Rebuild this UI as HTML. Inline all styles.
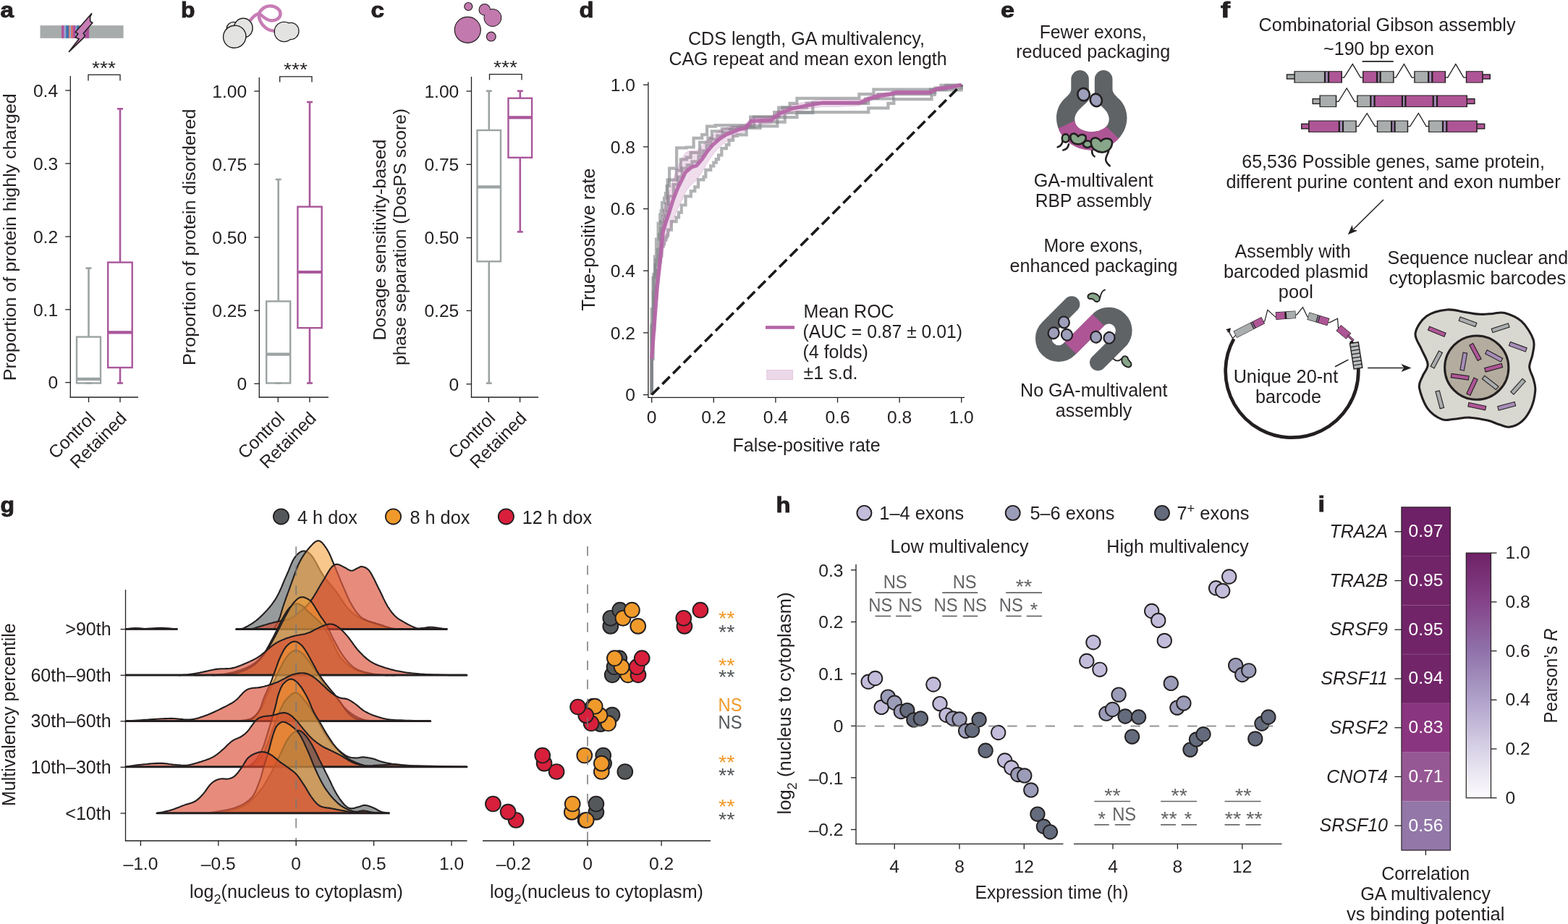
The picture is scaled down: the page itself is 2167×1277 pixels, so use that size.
<!DOCTYPE html>
<html lang="en"><head><meta charset="utf-8"><title>Figure</title>
<style>
html,body{margin:0;padding:0;background:#fff;}
body{width:2167px;height:1277px;overflow:hidden;}
svg{display:block;font-family:"Liberation Sans",sans-serif;}
</style></head><body>
<svg width="2167" height="1277" viewBox="0 0 2167 1277">
<rect width="2167" height="1277" fill="#ffffff"/>
<g id="p_abc">
<text x="0.5" y="24.2" font-size="30" font-weight="bold" textLength="18.5" lengthAdjust="spacingAndGlyphs" fill="#231f20" stroke="#231f20" stroke-width="0.9">a</text>
<text x="250.0" y="24.2" font-size="30" font-weight="bold" textLength="19.5" lengthAdjust="spacingAndGlyphs" fill="#231f20" stroke="#231f20" stroke-width="0.9">b</text>
<text x="512.5" y="24.2" font-size="30" font-weight="bold" textLength="18.5" lengthAdjust="spacingAndGlyphs" fill="#231f20" stroke="#231f20" stroke-width="0.9">c</text>
<line x1="97.3" y1="105.0" x2="97.3" y2="549.6" stroke="#231f20" stroke-width="1.3"/>
<line x1="96.7" y1="549.0" x2="191.0" y2="549.0" stroke="#231f20" stroke-width="1.3"/>
<line x1="90.3" y1="125.0" x2="97.3" y2="125.0" stroke="#231f20" stroke-width="1.3"/>
<text x="80.1" y="133.8" font-size="24.6" text-anchor="end" fill="#231f20">0.4</text>
<line x1="90.3" y1="226.0" x2="97.3" y2="226.0" stroke="#231f20" stroke-width="1.3"/>
<text x="80.1" y="234.8" font-size="24.6" text-anchor="end" fill="#231f20">0.3</text>
<line x1="90.3" y1="327.0" x2="97.3" y2="327.0" stroke="#231f20" stroke-width="1.3"/>
<text x="80.1" y="335.8" font-size="24.6" text-anchor="end" fill="#231f20">0.2</text>
<line x1="90.3" y1="427.8" x2="97.3" y2="427.8" stroke="#231f20" stroke-width="1.3"/>
<text x="80.1" y="436.6" font-size="24.6" text-anchor="end" fill="#231f20">0.1</text>
<line x1="90.3" y1="528.6" x2="97.3" y2="528.6" stroke="#231f20" stroke-width="1.3"/>
<text x="80.1" y="537.4" font-size="24.6" text-anchor="end" fill="#231f20">0</text>
<line x1="122.5" y1="549.0" x2="122.5" y2="556.0" stroke="#231f20" stroke-width="1.3"/>
<line x1="166.0" y1="549.0" x2="166.0" y2="556.0" stroke="#231f20" stroke-width="1.3"/>
<line x1="122.5" y1="370.6" x2="122.5" y2="465.6" stroke="#9ca3a3" stroke-width="2.6"/>
<line x1="122.5" y1="529.5" x2="122.5" y2="529.5" stroke="#9ca3a3" stroke-width="2.6"/>
<line x1="118.5" y1="370.6" x2="126.5" y2="370.6" stroke="#9ca3a3" stroke-width="2.6"/>
<line x1="118.5" y1="529.5" x2="126.5" y2="529.5" stroke="#9ca3a3" stroke-width="2.6"/>
<rect x="106.0" y="465.6" width="33.0" height="63.9" fill="none" stroke="#9ca3a3" stroke-width="2.4"/>
<line x1="106.0" y1="523.8" x2="139.0" y2="523.8" stroke="#9ca3a3" stroke-width="4.2"/>
<line x1="166.0" y1="150.4" x2="166.0" y2="362.6" stroke="#a9579b" stroke-width="2.6"/>
<line x1="166.0" y1="508.0" x2="166.0" y2="529.5" stroke="#a9579b" stroke-width="2.6"/>
<line x1="162.0" y1="150.4" x2="170.0" y2="150.4" stroke="#a9579b" stroke-width="2.6"/>
<line x1="162.0" y1="529.5" x2="170.0" y2="529.5" stroke="#a9579b" stroke-width="2.6"/>
<rect x="149.2" y="362.6" width="33.5" height="145.4" fill="none" stroke="#a9579b" stroke-width="2.4"/>
<line x1="149.2" y1="459.3" x2="182.8" y2="459.3" stroke="#a9579b" stroke-width="4.2"/>
<path d="M122.0,111.6 V103.4 H166.0 V111.6" fill="none" stroke="#231f20" stroke-width="1.3"/>
<text x="143.5" y="102.6" font-size="26.5" text-anchor="middle" textLength="33.0" lengthAdjust="spacingAndGlyphs" fill="#231f20">***</text>
<text transform="translate(133.0,579.5) rotate(-45)" font-size="24.6" text-anchor="end" fill="#231f20">Control</text>
<text transform="translate(176.5,579.5) rotate(-45)" font-size="24.6" text-anchor="end" fill="#231f20">Retained</text>
<text transform="translate(21.5,327.7) rotate(-90)" font-size="24.6" text-anchor="middle" textLength="397.0" lengthAdjust="spacingAndGlyphs" fill="#231f20">Proportion of protein highly charged</text>
<rect x="55.5" y="35.2" width="115.1" height="17.6" fill="#a7abab"/>
<rect x="85.1" y="35.2" width="3.5" height="17.6" fill="#b0509c"/>
<rect x="88.6" y="35.2" width="2.6" height="17.6" fill="#9aa0d0"/>
<rect x="91.2" y="35.2" width="3.8" height="17.6" fill="#3b74ae"/>
<rect x="95.0" y="35.2" width="1.4" height="17.6" fill="#e8705a"/>
<rect x="96.4" y="35.2" width="1.8" height="17.6" fill="#88a8d8"/>
<rect x="98.2" y="35.2" width="2.4" height="17.6" fill="#e8685a"/>
<rect x="100.6" y="35.2" width="4.0" height="17.6" fill="#b0509c"/>
<rect x="104.6" y="35.2" width="1.6" height="17.6" fill="#88a8d8"/>
<rect x="106.2" y="35.2" width="3.3" height="17.6" fill="#3b74ae"/>
<rect x="109.5" y="35.2" width="1.9" height="17.6" fill="#e8705a"/>
<rect x="111.4" y="35.2" width="4.6" height="17.6" fill="#b0509c"/>
<rect x="116.0" y="35.2" width="1.5" height="17.6" fill="#88a8d8"/>
<rect x="117.5" y="35.2" width="5.6" height="17.6" fill="#b0509c"/>
<g transform="translate(40,0) scale(0.09395)"><path d="M925,195 L900,250 L902,312 L935,335 L800,492 L826,522 L800,560 L585,765 L735,572 L684,550 L722,498 L684,472 Z" fill="#c77db5" stroke="#231f20" stroke-width="17" stroke-linejoin="miter"/></g>
<line x1="358.3" y1="107.0" x2="358.3" y2="549.6" stroke="#231f20" stroke-width="1.3"/>
<line x1="357.7" y1="549.0" x2="454.0" y2="549.0" stroke="#231f20" stroke-width="1.3"/>
<line x1="351.3" y1="126.0" x2="358.3" y2="126.0" stroke="#231f20" stroke-width="1.3"/>
<text x="341.1" y="134.8" font-size="24.6" text-anchor="end" fill="#231f20">1.00</text>
<line x1="351.3" y1="227.0" x2="358.3" y2="227.0" stroke="#231f20" stroke-width="1.3"/>
<text x="341.1" y="235.8" font-size="24.6" text-anchor="end" fill="#231f20">0.75</text>
<line x1="351.3" y1="328.0" x2="358.3" y2="328.0" stroke="#231f20" stroke-width="1.3"/>
<text x="341.1" y="336.8" font-size="24.6" text-anchor="end" fill="#231f20">0.50</text>
<line x1="351.3" y1="429.2" x2="358.3" y2="429.2" stroke="#231f20" stroke-width="1.3"/>
<text x="341.1" y="438.0" font-size="24.6" text-anchor="end" fill="#231f20">0.25</text>
<line x1="351.3" y1="530.3" x2="358.3" y2="530.3" stroke="#231f20" stroke-width="1.3"/>
<text x="341.1" y="539.1" font-size="24.6" text-anchor="end" fill="#231f20">0</text>
<line x1="384.3" y1="549.0" x2="384.3" y2="556.0" stroke="#231f20" stroke-width="1.3"/>
<line x1="428.0" y1="549.0" x2="428.0" y2="556.0" stroke="#231f20" stroke-width="1.3"/>
<line x1="384.7" y1="248.0" x2="384.7" y2="416.4" stroke="#9ca3a3" stroke-width="2.6"/>
<line x1="384.7" y1="529.5" x2="384.7" y2="529.5" stroke="#9ca3a3" stroke-width="2.6"/>
<line x1="380.7" y1="248.0" x2="388.7" y2="248.0" stroke="#9ca3a3" stroke-width="2.6"/>
<line x1="380.7" y1="529.5" x2="388.7" y2="529.5" stroke="#9ca3a3" stroke-width="2.6"/>
<rect x="368.2" y="416.4" width="33.0" height="113.1" fill="none" stroke="#9ca3a3" stroke-width="2.4"/>
<line x1="368.2" y1="489.6" x2="401.2" y2="489.6" stroke="#9ca3a3" stroke-width="4.2"/>
<line x1="428.0" y1="141.0" x2="428.0" y2="285.7" stroke="#a9579b" stroke-width="2.6"/>
<line x1="428.0" y1="453.2" x2="428.0" y2="529.5" stroke="#a9579b" stroke-width="2.6"/>
<line x1="424.0" y1="141.0" x2="432.0" y2="141.0" stroke="#a9579b" stroke-width="2.6"/>
<line x1="424.0" y1="529.5" x2="432.0" y2="529.5" stroke="#a9579b" stroke-width="2.6"/>
<rect x="411.4" y="285.7" width="33.3" height="167.5" fill="none" stroke="#a9579b" stroke-width="2.4"/>
<line x1="411.4" y1="376.0" x2="444.6" y2="376.0" stroke="#a9579b" stroke-width="4.2"/>
<path d="M386.7,113.4 V105.9 H431.0 V113.4" fill="none" stroke="#231f20" stroke-width="1.3"/>
<text x="408.5" y="105.1" font-size="26.5" text-anchor="middle" textLength="33.0" lengthAdjust="spacingAndGlyphs" fill="#231f20">***</text>
<text transform="translate(394.8,579.5) rotate(-45)" font-size="24.6" text-anchor="end" fill="#231f20">Control</text>
<text transform="translate(438.5,579.5) rotate(-45)" font-size="24.6" text-anchor="end" fill="#231f20">Retained</text>
<text transform="translate(269.5,327.7) rotate(-90)" font-size="24.6" text-anchor="middle" textLength="354.5" lengthAdjust="spacingAndGlyphs" fill="#231f20">Proportion of protein disordered</text>
<g transform="translate(290,0) scale(0.0646)">
<path d="M860,445 C920,360 980,310 1045,295 C1110,170 1210,128 1290,128 C1420,130 1512,210 1510,295 C1505,390 1420,442 1320,440 C1230,438 1150,375 1072,298" fill="none" stroke="#c77db5" stroke-width="70" stroke-linecap="butt"/>
<path d="M1052,290 C1040,420 1100,520 1200,600 C1260,645 1320,662 1400,660" fill="none" stroke="#c77db5" stroke-width="70"/>
<ellipse cx="510" cy="610" rx="150" ry="140" fill="#e3e3e1" stroke="#231f20" stroke-width="22"/>
<ellipse cx="715" cy="600" rx="200" ry="208" fill="#e3e3e1" stroke="#231f20" stroke-width="22"/>
<ellipse cx="530" cy="785" rx="245" ry="238" fill="#e3e3e1" stroke="#231f20" stroke-width="22" transform="rotate(-35 530 785)"/>
<ellipse cx="1590" cy="680" rx="208" ry="210" fill="#e3e3e1" stroke="#231f20" stroke-width="22"/>
<ellipse cx="1735" cy="665" rx="168" ry="178" fill="#e3e3e1" stroke="#231f20" stroke-width="22"/>
<ellipse cx="1590" cy="680" rx="197" ry="199" fill="#e3e3e1"/>
<ellipse cx="1735" cy="665" rx="157" ry="167" fill="#e3e3e1"/>
</g>
<line x1="651.5" y1="106.0" x2="651.5" y2="549.6" stroke="#231f20" stroke-width="1.3"/>
<line x1="650.9" y1="549.0" x2="744.0" y2="549.0" stroke="#231f20" stroke-width="1.3"/>
<line x1="644.5" y1="126.0" x2="651.5" y2="126.0" stroke="#231f20" stroke-width="1.3"/>
<text x="634.3" y="134.8" font-size="24.6" text-anchor="end" fill="#231f20">1.00</text>
<line x1="644.5" y1="227.3" x2="651.5" y2="227.3" stroke="#231f20" stroke-width="1.3"/>
<text x="634.3" y="236.1" font-size="24.6" text-anchor="end" fill="#231f20">0.75</text>
<line x1="644.5" y1="328.6" x2="651.5" y2="328.6" stroke="#231f20" stroke-width="1.3"/>
<text x="634.3" y="337.4" font-size="24.6" text-anchor="end" fill="#231f20">0.50</text>
<line x1="644.5" y1="429.4" x2="651.5" y2="429.4" stroke="#231f20" stroke-width="1.3"/>
<text x="634.3" y="438.2" font-size="24.6" text-anchor="end" fill="#231f20">0.25</text>
<line x1="644.5" y1="530.8" x2="651.5" y2="530.8" stroke="#231f20" stroke-width="1.3"/>
<text x="634.3" y="539.6" font-size="24.6" text-anchor="end" fill="#231f20">0</text>
<line x1="675.4" y1="549.0" x2="675.4" y2="556.0" stroke="#231f20" stroke-width="1.3"/>
<line x1="718.6" y1="549.0" x2="718.6" y2="556.0" stroke="#231f20" stroke-width="1.3"/>
<line x1="675.8" y1="125.8" x2="675.8" y2="180.0" stroke="#9ca3a3" stroke-width="2.6"/>
<line x1="675.8" y1="361.3" x2="675.8" y2="529.6" stroke="#9ca3a3" stroke-width="2.6"/>
<line x1="671.8" y1="125.8" x2="679.8" y2="125.8" stroke="#9ca3a3" stroke-width="2.6"/>
<line x1="671.8" y1="529.6" x2="679.8" y2="529.6" stroke="#9ca3a3" stroke-width="2.6"/>
<rect x="659.5" y="180.0" width="32.5" height="181.3" fill="none" stroke="#9ca3a3" stroke-width="2.4"/>
<line x1="659.5" y1="258.4" x2="692.0" y2="258.4" stroke="#9ca3a3" stroke-width="4.2"/>
<line x1="718.8" y1="125.8" x2="718.8" y2="135.7" stroke="#a9579b" stroke-width="2.6"/>
<line x1="718.8" y1="217.8" x2="718.8" y2="320.4" stroke="#a9579b" stroke-width="2.6"/>
<line x1="714.8" y1="125.8" x2="722.8" y2="125.8" stroke="#a9579b" stroke-width="2.6"/>
<line x1="714.8" y1="320.4" x2="722.8" y2="320.4" stroke="#a9579b" stroke-width="2.6"/>
<rect x="702.5" y="135.7" width="32.6" height="82.1" fill="none" stroke="#a9579b" stroke-width="2.4"/>
<line x1="702.5" y1="162.3" x2="735.1" y2="162.3" stroke="#a9579b" stroke-width="4.2"/>
<path d="M676.5,110.4 V102.6 H721.0 V110.4" fill="none" stroke="#231f20" stroke-width="1.3"/>
<text x="698.5" y="102.3" font-size="26.5" text-anchor="middle" textLength="33.0" lengthAdjust="spacingAndGlyphs" fill="#231f20">***</text>
<text transform="translate(685.9,579.5) rotate(-45)" font-size="24.6" text-anchor="end" fill="#231f20">Control</text>
<text transform="translate(729.1,579.5) rotate(-45)" font-size="24.6" text-anchor="end" fill="#231f20">Retained</text>
<text transform="translate(532.5,331.5) rotate(-90)" font-size="24.6" text-anchor="middle" textLength="278.0" lengthAdjust="spacingAndGlyphs" fill="#231f20">Dosage sensitivity-based</text>
<text transform="translate(560.8,327.5) rotate(-90)" font-size="24.6" text-anchor="middle" textLength="355.0" lengthAdjust="spacingAndGlyphs" fill="#231f20">phase separation (DosPS score)</text>
<circle cx="646.3" cy="41.3" r="18.0" fill="#c279ae" stroke="#231f20" stroke-width="1.2"/>
<circle cx="647.3" cy="9.0" r="5.5" fill="#c279ae" stroke="#231f20" stroke-width="1.2"/>
<circle cx="669.8" cy="13.4" r="7.7" fill="#c279ae" stroke="#231f20" stroke-width="1.2"/>
<circle cx="680.9" cy="24.5" r="11.8" fill="#c279ae" stroke="#231f20" stroke-width="1.2"/>
<circle cx="678.8" cy="50.6" r="6.4" fill="#c279ae" stroke="#231f20" stroke-width="1.2"/>
<circle cx="669.8" cy="13.4" r="7.1" fill="#c279ae"/>
<circle cx="680.9" cy="24.5" r="11.2" fill="#c279ae"/>
</g>
<g id="p_d">
<text x="800.5" y="24.2" font-size="30" font-weight="bold" textLength="20.0" lengthAdjust="spacingAndGlyphs" fill="#231f20" stroke="#231f20" stroke-width="0.9">d</text>
<text x="1114.5" y="62.1" font-size="25" text-anchor="middle" textLength="327.0" lengthAdjust="spacingAndGlyphs" fill="#231f20">CDS length, GA multivalency,</text>
<text x="1116.6" y="89.8" font-size="25" text-anchor="middle" textLength="384.0" lengthAdjust="spacingAndGlyphs" fill="#231f20">CAG repeat and mean exon length</text>
<path d="M900.7,545.6 L900.7,452.0 L902.5,452.0 L902.5,383.6 L904.9,383.6 L904.9,354.6 L907.0,354.6 L907.0,330.6 L909.6,330.6 L909.6,308.6 L912.2,308.6 L912.2,296.7 L913.6,296.7 L913.6,291.3 L915.0,291.3 L915.0,280.2 L918.0,280.2 L918.0,273.6 L919.9,273.6 L919.9,267.2 L921.7,267.2 L921.7,257.0 L925.1,257.0 L925.1,232.6 L935.1,232.6 L935.1,204.3 L948.6,204.3 L948.6,203.5 L958.6,203.5 L958.6,190.9 L970.2,190.9 L970.2,186.2 L977.1,186.2 L977.1,174.7 L988.7,174.7 L988.7,173.1 L1002.5,173.1 L1002.5,173.1 L1013.0,173.1 L1013.0,173.1 L1025.6,173.1 L1025.6,173.1 L1029.1,173.1 L1037.2,173.1 L1037.2,161.5 L1070.1,161.5 L1070.1,155.1 L1081.5,155.1 L1081.5,148.6 L1091.5,148.6 L1091.5,142.9 L1101.4,142.9 L1101.4,135.8 L1187.4,135.8 L1187.4,130.1 L1207.4,130.1 L1207.4,123.6 L1300.5,123.6 L1300.5,117.9 L1328.7,117.9 L1328.7,117.2" fill="none" stroke="#808386" stroke-width="4.2" stroke-opacity="0.62" stroke-linejoin="miter"/>
<path d="M900.7,545.6 L900.7,496.1 L902.7,496.1 L902.7,455.9 L904.3,455.9 L904.3,412.7 L907.0,412.7 L907.0,394.0 L908.4,394.0 L908.4,373.7 L910.8,373.7 L910.8,361.8 L912.9,361.8 L912.9,353.7 L914.3,353.7 L914.3,340.5 L916.7,340.5 L916.7,337.1 L918.0,337.1 L918.0,331.7 L920.3,331.7 L920.3,328.1 L921.7,328.1 L921.7,325.4 L923.2,325.4 L923.2,317.6 L927.9,317.6 L927.9,306.2 L934.6,306.2 L934.6,300.4 L938.0,300.4 L938.0,293.7 L941.8,293.7 L941.8,283.5 L947.5,283.5 L947.5,271.3 L954.8,271.3 L954.8,264.2 L960.3,264.2 L960.3,258.3 L965.0,258.3 L965.0,248.3 L972.4,248.3 L972.4,244.3 L975.3,244.3 L975.3,234.9 L982.2,234.9 L982.2,229.3 L986.3,229.3 L986.3,224.6 L989.8,224.6 L989.8,220.1 L993.1,220.1 L993.1,214.3 L997.3,214.3 L997.3,205.1 L1003.9,205.1 L1003.9,200.2 L1007.5,200.2 L1007.5,193.9 L1013.1,193.9 L1013.1,187.8 L1018.9,187.8 L1018.9,186.3 L1023.4,186.3 L1023.4,186.3 L1028.7,186.3 L1028.7,186.3 L1029.1,186.3 L1031.6,186.3 L1031.6,174.4 L1074.3,174.4 L1074.3,162.2 L1101.4,162.2 L1101.4,155.1 L1200.2,155.1 L1200.2,149.3 L1227.4,149.3 L1227.4,142.9 L1235.3,142.9 L1235.3,137.2 L1287.5,137.2 L1287.5,130.8 L1291.8,130.8 L1291.8,124.3 L1328.7,124.3 L1328.7,117.2" fill="none" stroke="#808386" stroke-width="4.2" stroke-opacity="0.62" stroke-linejoin="miter"/>
<path d="M900.7,545.6 L900.7,448.9 L903.0,448.9 L903.0,403.7 L905.4,403.7 L905.4,365.8 L908.7,365.8 L908.7,345.0 L911.0,345.0 L911.0,323.9 L913.3,323.9 L913.3,306.2 L915.9,306.2 L915.9,299.0 L917.6,299.0 L917.6,290.7 L919.9,290.7 L919.9,282.1 L922.6,282.1 L922.6,248.7 L934.8,248.7 L934.8,235.6 L940.8,235.6 L940.8,220.4 L948.7,220.4 L948.7,217.7 L954.6,217.7 L954.6,211.0 L967.1,211.0 L967.1,196.6 L978.4,196.6 L978.4,190.5 L983.9,190.5 L983.9,181.4 L997.9,181.4 L997.9,178.0 L1011.7,178.0 L1011.7,175.8 L1022.7,175.8 L1022.7,175.3 L1029.1,175.3 L1041.9,175.3 L1041.9,161.5 L1076.2,161.5 L1076.2,148.6 L1114.7,148.6 L1114.7,142.9 L1200.3,142.9 L1200.3,135.8 L1213.1,135.8 L1213.1,130.1 L1285.9,130.1 L1285.9,123.6 L1307.3,123.6 L1307.3,117.9 L1328.7,117.9 L1328.7,117.2" fill="none" stroke="#808386" stroke-width="4.2" stroke-opacity="0.62" stroke-linejoin="miter"/>
<path d="M900.7,545.6 L900.7,427.0 L903.4,427.0 L903.4,379.0 L906.4,379.0 L906.4,358.8 L908.8,358.8 L908.8,358.8 L911.2,358.8 L911.2,344.1 L913.3,344.1 L913.3,315.6 L916.7,315.6 L916.7,309.2 L918.6,309.2 L918.6,303.8 L920.2,303.8 L920.2,298.2 L922.1,298.2 L922.1,292.7 L923.9,292.7 L923.9,271.3 L930.9,271.3 L930.9,255.0 L937.4,255.0 L937.4,244.5 L942.7,244.5 L942.7,232.7 L949.7,232.7 L949.7,228.2 L956.6,228.2 L956.6,223.3 L965.5,223.3 L965.5,215.4 L971.5,215.4 L971.5,208.3 L976.5,208.3 L976.5,201.0 L982.5,201.0 L982.5,192.7 L991.2,192.7 L991.2,187.5 L998.7,187.5 L998.7,182.9 L1008.9,182.9 L1008.9,179.0 L1019.6,179.0 L1019.6,177.3 L1027.2,177.3 L1027.2,177.0 L1029.1,177.0 L1050.5,177.0 L1050.5,168.6 L1084.7,168.6 L1084.7,155.8 L1123.3,155.8 L1123.3,142.2 L1196.0,142.2 L1196.0,136.5 L1234.5,136.5 L1234.5,127.9 L1292.3,127.9 L1292.3,121.5 L1328.7,121.5 L1328.7,117.2" fill="none" stroke="#808386" stroke-width="4.2" stroke-opacity="0.62" stroke-linejoin="miter"/>
<path d="M900.7,496.1 L905.0,426.8 L909.3,369.0 L913.5,323.2 L917.8,289.6 L922.1,273.9 L926.4,260.7 L930.7,246.9 L934.9,235.6 L939.2,226.1 L943.5,217.4 L947.8,210.7 L952.1,209.1 L956.3,208.0 L960.6,208.4 L964.9,207.0 L969.2,203.3 L973.5,198.5 L977.7,193.5 L982.0,189.7 L986.3,186.3 L990.6,183.4 L994.9,180.5 L999.1,178.6 L1003.4,176.7 L1007.7,175.8 L1012.0,175.3 L1016.3,174.5 L1020.5,173.6 L1024.8,172.8 L1029.1,172.3 L1033.4,168.2 L1037.7,163.2 L1041.9,162.0 L1046.2,161.8 L1050.5,161.5 L1054.8,161.3 L1059.1,161.1 L1063.3,160.8 L1067.6,159.3 L1071.9,156.1 L1076.2,152.8 L1080.5,150.7 L1084.7,149.0 L1089.0,147.2 L1093.3,145.4 L1097.6,144.3 L1101.9,143.4 L1106.1,142.6 L1110.4,141.7 L1114.7,140.9 L1119.0,140.1 L1123.3,139.3 L1127.5,138.6 L1131.8,137.8 L1136.1,137.1 L1140.4,137.1 L1144.7,137.1 L1148.9,137.1 L1153.2,137.1 L1157.5,137.1 L1161.8,137.2 L1166.1,137.4 L1170.3,137.6 L1174.6,137.8 L1178.9,137.9 L1183.2,138.1 L1187.5,138.2 L1191.7,136.7 L1196.0,135.2 L1200.3,133.6 L1204.6,131.9 L1208.9,130.2 L1213.1,129.6 L1217.4,128.9 L1221.7,128.2 L1226.0,127.5 L1230.3,126.9 L1234.5,125.6 L1238.8,124.8 L1243.1,124.8 L1247.4,124.9 L1251.7,124.9 L1255.9,124.9 L1260.2,125.0 L1264.5,125.0 L1268.8,125.0 L1273.1,125.1 L1277.3,125.1 L1281.6,125.1 L1285.9,124.5 L1290.2,122.4 L1294.5,120.3 L1298.7,119.8 L1303.0,119.3 L1307.3,118.8 L1311.6,118.8 L1315.9,118.5 L1320.1,118.1 L1324.4,117.6 L1328.7,117.2 L1328.7,117.2 L1324.4,118.7 L1320.1,120.1 L1315.9,121.6 L1311.6,122.9 L1307.3,123.9 L1303.0,124.5 L1298.7,125.0 L1294.5,125.7 L1290.2,127.8 L1285.9,130.0 L1281.6,130.7 L1277.3,130.7 L1273.1,130.8 L1268.8,130.8 L1264.5,130.8 L1260.2,130.9 L1255.9,130.9 L1251.7,130.9 L1247.4,131.0 L1243.1,131.0 L1238.8,131.0 L1234.5,131.9 L1230.3,133.2 L1226.0,134.0 L1221.7,134.7 L1217.4,135.5 L1213.1,136.2 L1208.9,137.0 L1204.6,138.7 L1200.3,140.5 L1196.0,142.4 L1191.7,144.2 L1187.5,146.1 L1183.2,146.3 L1178.9,146.5 L1174.6,146.7 L1170.3,146.8 L1166.1,147.0 L1161.8,147.2 L1157.5,147.4 L1153.2,147.4 L1148.9,147.4 L1144.7,147.4 L1140.4,147.4 L1136.1,147.4 L1131.8,148.1 L1127.5,148.8 L1123.3,149.6 L1119.0,150.4 L1114.7,151.1 L1110.4,152.0 L1106.1,152.9 L1101.9,153.7 L1097.6,154.6 L1093.3,155.7 L1089.0,157.5 L1084.7,159.2 L1080.5,161.0 L1076.2,163.1 L1071.9,166.4 L1067.6,169.6 L1063.3,171.1 L1059.1,171.3 L1054.8,171.6 L1050.5,171.8 L1046.2,172.0 L1041.9,172.3 L1037.7,173.5 L1033.4,178.5 L1029.1,182.6 L1024.8,183.6 L1020.5,184.8 L1016.3,187.6 L1012.0,190.4 L1007.7,193.0 L1003.4,195.6 L999.1,199.1 L994.9,202.8 L990.6,207.4 L986.3,212.0 L982.0,218.0 L977.7,224.3 L973.5,232.0 L969.2,239.3 L964.9,245.6 L960.6,250.7 L956.3,254.1 L952.1,258.9 L947.8,264.4 L943.5,274.8 L939.2,283.2 L934.9,292.3 L930.7,303.3 L926.4,316.7 L922.1,329.6 L917.8,341.0 L913.5,370.3 L909.3,405.5 L905.0,452.5 L900.7,496.1Z" fill="#b565a7" stroke="#b565a7" stroke-width="0.8" fill-opacity="0.22" stroke-opacity="0.35"/>
<line x1="900.7" y1="545.6" x2="1328.7" y2="117.2" stroke="#1a1a1a" stroke-width="3.6" stroke-dasharray="14.5 6.3"/>
<path d="M900.7,496.1 L908.2,397.4 L916.3,320.4 L920.0,307.8 L925.1,292.8 L930.1,276.6 L936.4,260.3 L942.6,247.9 L947.6,237.7 L955.1,231.4 L962.7,228.9 L970.2,220.1 L977.7,208.9 L985.2,200.1 L995.3,191.3 L1004.0,185.7 L1012.8,182.5 L1021.6,178.8 L1030.0,177.3 L1038.5,167.3 L1065.8,165.8 L1077.2,157.2 L1094.4,150.1 L1115.8,145.8 L1135.9,142.2 L1187.4,142.2 L1208.9,133.6 L1230.3,130.1 L1237.5,127.9 L1284.6,127.9 L1294.7,122.9 L1313.3,120.6 L1328.7,117.2" fill="none" stroke="#b565a7" stroke-width="5.2" stroke-opacity="0.92" stroke-linejoin="round"/>
<line x1="895.9" y1="113.5" x2="895.9" y2="550.0" stroke="#231f20" stroke-width="1.3"/>
<line x1="895.3" y1="549.4" x2="1333.0" y2="549.4" stroke="#231f20" stroke-width="1.3"/>
<line x1="889.0" y1="545.6" x2="895.9" y2="545.6" stroke="#231f20" stroke-width="1.3"/>
<text x="878.0" y="554.4" font-size="24.6" text-anchor="end" fill="#231f20">0</text>
<line x1="900.7" y1="549.4" x2="900.7" y2="556.4" stroke="#231f20" stroke-width="1.3"/>
<text x="900.7" y="585.2" font-size="24.6" text-anchor="middle" fill="#231f20">0</text>
<line x1="889.0" y1="459.9" x2="895.9" y2="459.9" stroke="#231f20" stroke-width="1.3"/>
<text x="878.0" y="468.7" font-size="24.6" text-anchor="end" fill="#231f20">0.2</text>
<line x1="986.3" y1="549.4" x2="986.3" y2="556.4" stroke="#231f20" stroke-width="1.3"/>
<text x="986.3" y="585.2" font-size="24.6" text-anchor="middle" fill="#231f20">0.2</text>
<line x1="889.0" y1="374.2" x2="895.9" y2="374.2" stroke="#231f20" stroke-width="1.3"/>
<text x="878.0" y="383.0" font-size="24.6" text-anchor="end" fill="#231f20">0.4</text>
<line x1="1071.9" y1="549.4" x2="1071.9" y2="556.4" stroke="#231f20" stroke-width="1.3"/>
<text x="1071.9" y="585.2" font-size="24.6" text-anchor="middle" fill="#231f20">0.4</text>
<line x1="889.0" y1="288.6" x2="895.9" y2="288.6" stroke="#231f20" stroke-width="1.3"/>
<text x="878.0" y="297.4" font-size="24.6" text-anchor="end" fill="#231f20">0.6</text>
<line x1="1157.5" y1="549.4" x2="1157.5" y2="556.4" stroke="#231f20" stroke-width="1.3"/>
<text x="1157.5" y="585.2" font-size="24.6" text-anchor="middle" fill="#231f20">0.6</text>
<line x1="889.0" y1="202.9" x2="895.9" y2="202.9" stroke="#231f20" stroke-width="1.3"/>
<text x="878.0" y="211.7" font-size="24.6" text-anchor="end" fill="#231f20">0.8</text>
<line x1="1243.1" y1="549.4" x2="1243.1" y2="556.4" stroke="#231f20" stroke-width="1.3"/>
<text x="1243.1" y="585.2" font-size="24.6" text-anchor="middle" fill="#231f20">0.8</text>
<line x1="889.0" y1="117.2" x2="895.9" y2="117.2" stroke="#231f20" stroke-width="1.3"/>
<text x="878.0" y="126.0" font-size="24.6" text-anchor="end" fill="#231f20">1.0</text>
<line x1="1328.7" y1="549.4" x2="1328.7" y2="556.4" stroke="#231f20" stroke-width="1.3"/>
<text x="1328.7" y="585.2" font-size="24.6" text-anchor="middle" fill="#231f20">1.0</text>
<text x="1114.6" y="623.8" font-size="25" text-anchor="middle" textLength="204.0" lengthAdjust="spacingAndGlyphs" fill="#231f20">False-positive rate</text>
<text transform="translate(821.5,331.0) rotate(-90)" font-size="25" text-anchor="middle" textLength="197.0" lengthAdjust="spacingAndGlyphs" fill="#231f20">True-positive rate</text>
<line x1="1058.0" y1="452.5" x2="1098.0" y2="452.5" stroke="#b565a7" stroke-width="4.6"/>
<rect x="1059.7" y="511.4" width="36.0" height="13.4" fill="#b565a7" stroke="#b565a7" stroke-width="0.8" fill-opacity="0.25" stroke-opacity="0.3"/>
<text x="1110.6" y="439.3" font-size="25" fill="#231f20">Mean ROC</text>
<text x="1109.5" y="467.0" font-size="25" textLength="220.5" lengthAdjust="spacingAndGlyphs" fill="#231f20">(AUC = 0.87 ± 0.01)</text>
<text x="1109.5" y="494.5" font-size="25" fill="#231f20">(4 folds)</text>
<text x="1110.6" y="524.2" font-size="25" fill="#231f20">±1 s.d.</text>
</g>
<g id="p_e">
<text x="1383.0" y="24.2" font-size="30" font-weight="bold" textLength="19.0" lengthAdjust="spacingAndGlyphs" fill="#231f20" stroke="#231f20" stroke-width="0.9">e</text>
<text x="1510.7" y="53.0" font-size="25" text-anchor="middle" textLength="148.0" lengthAdjust="spacingAndGlyphs" fill="#231f20">Fewer exons,</text>
<text x="1510.7" y="80.2" font-size="25" text-anchor="middle" textLength="213.0" lengthAdjust="spacingAndGlyphs" fill="#231f20">reduced packaging</text>
<text x="1511.2" y="258.0" font-size="25" text-anchor="middle" textLength="165.0" lengthAdjust="spacingAndGlyphs" fill="#231f20">GA-multivalent</text>
<text x="1511.2" y="285.9" font-size="25" text-anchor="middle" textLength="161.0" lengthAdjust="spacingAndGlyphs" fill="#231f20">RBP assembly</text>
<text x="1511.0" y="348.0" font-size="25" text-anchor="middle" textLength="137.0" lengthAdjust="spacingAndGlyphs" fill="#231f20">More exons,</text>
<text x="1511.5" y="376.4" font-size="25" text-anchor="middle" textLength="232.0" lengthAdjust="spacingAndGlyphs" fill="#231f20">enhanced packaging</text>
<text x="1511.8" y="547.9" font-size="25" text-anchor="middle" textLength="203.5" lengthAdjust="spacingAndGlyphs" fill="#231f20">No GA-multivalent</text>
<text x="1511.5" y="575.5" font-size="25" text-anchor="middle" textLength="105.5" lengthAdjust="spacingAndGlyphs" fill="#231f20">assembly</text>
<g transform="translate(1440,90) scale(0.11745)">
<clipPath id="wedge1"><polygon points="585,558 -185,925 -185,1300 1300,1300 1195,1145"/></clipPath>
<path d="M343,165 A104.5,104.5 0 0 1 552,165 L552,400 C552,430 470,480 420,545 C385,590 375,640 395,690 C420,750 500,785 585,785 C670,785 750,750 778,690 C800,640 790,590 755,540 C710,480 620,430 620,400 L620,165 A105,105 0 0 1 830,165 L830,280 C830,330 870,360 910,400 C970,460 1000,540 1000,620 C1000,830 815,1000 585,1000 C355,1000 170,830 170,620 C170,540 200,460 260,400 C300,360 343,330 343,280 Z" fill="#5f6366"/>
<path d="M343,165 A104.5,104.5 0 0 1 552,165 L552,400 C552,430 470,480 420,545 C385,590 375,640 395,690 C420,750 500,785 585,785 C670,785 750,750 778,690 C800,640 790,590 755,540 C710,480 620,430 620,400 L620,165 A105,105 0 0 1 830,165 L830,280 C830,330 870,360 910,400 C970,460 1000,540 1000,620 C1000,830 815,1000 585,1000 C355,1000 170,830 170,620 C170,540 200,460 260,400 C300,360 343,330 343,280 Z" fill="#ae5596" clip-path="url(#wedge1)"/>
<ellipse cx="490" cy="345" rx="70" ry="74" fill="#9d9fbb" stroke="#231f20" stroke-width="22" transform="rotate(-20 490 345)"/>
<ellipse cx="637" cy="412" rx="68" ry="76" fill="#9d9fbb" stroke="#231f20" stroke-width="22" transform="rotate(-25 637 412)"/>
<path d="M245,885 C240,925 225,955 185,965" fill="none" stroke="#231f20" stroke-width="22" stroke-linecap="round" stroke-linejoin="round"/>
<path d="M315,930 C310,965 290,990 250,1000" fill="none" stroke="#231f20" stroke-width="22" stroke-linecap="round" stroke-linejoin="round"/>
<path d="M590,1005 C585,1040 595,1060 618,1075" fill="none" stroke="#231f20" stroke-width="22" stroke-linecap="round" stroke-linejoin="round"/>
<path d="M785,1010 C775,1050 745,1080 752,1120 C758,1150 780,1170 798,1185" fill="none" stroke="#231f20" stroke-width="22" stroke-linecap="round" stroke-linejoin="round"/>
<ellipse cx="278" cy="860" rx="42" ry="48" fill="#87a68a" stroke="#231f20" stroke-width="22"/>
<ellipse cx="535" cy="930" rx="50" ry="40" fill="#87a68a" stroke="#231f20" stroke-width="22"/>
<path d="M335,855 C330,800 390,785 425,840 C455,805 525,810 517,865 C510,910 460,935 415,930 C370,925 340,900 335,855 Z" fill="#87a68a" stroke="#231f20" stroke-width="22" stroke-linecap="round" stroke-linejoin="round"/>
<path d="M578,920 C568,850 640,830 695,895 C730,850 835,850 825,925 C818,990 760,1030 700,1025 C640,1020 585,985 578,920 Z" fill="#87a68a" stroke="#231f20" stroke-width="22" stroke-linecap="round" stroke-linejoin="round"/>
</g>
<g transform="translate(1420,390) scale(0.10178)">
<path d="M600,300 L278.6,621.4 A203.6,203.6 0 0 0 566.6,909.4 L979.4,496.6 A203.6,203.6 0 0 1 1265.3,782.5 L956.4,1091.4" fill="none" stroke="#5f6366" stroke-width="223" stroke-linecap="round"/>
<path d="M581.7,894.3 L962.9,513.1" fill="none" stroke="#ae5596" stroke-width="223"/>
<ellipse cx="495" cy="545" rx="73" ry="78" fill="#9d9fbb" stroke="#231f20" stroke-width="21" transform="rotate(-15 495 545)"/>
<ellipse cx="355" cy="690" rx="73" ry="78" fill="#9d9fbb" stroke="#231f20" stroke-width="21" transform="rotate(20 355 690)"/>
<ellipse cx="535" cy="715" rx="73" ry="78" fill="#9d9fbb" stroke="#231f20" stroke-width="21" transform="rotate(-30 535 715)"/>
<ellipse cx="930" cy="745" rx="73" ry="78" fill="#9d9fbb" stroke="#231f20" stroke-width="21" transform="rotate(-10 930 745)"/>
<ellipse cx="1110" cy="755" rx="73" ry="78" fill="#9d9fbb" stroke="#231f20" stroke-width="21" transform="rotate(15 1110 755)"/>
<path d="M985,215 C995,160 1010,115 1052,105" fill="none" stroke="#231f20" stroke-width="17" stroke-linecap="round" stroke-linejoin="round"/>
<path d="M820,200 C815,165 870,140 915,155 C965,170 985,205 980,235 C975,265 940,275 915,255 C895,235 890,225 865,225 C840,228 822,222 820,200 Z" fill="#87a68a" stroke="#231f20" stroke-width="19" stroke-linecap="round" stroke-linejoin="round"/>
<path d="M1165,1040 C1200,1075 1245,1075 1275,1040" fill="none" stroke="#231f20" stroke-width="17" stroke-linecap="round" stroke-linejoin="round"/>
<path d="M1290,1020 C1310,995 1360,1000 1365,1040 C1368,1065 1410,1080 1410,1115 C1412,1150 1380,1160 1350,1150 C1310,1135 1285,1105 1280,1070 C1278,1050 1280,1035 1290,1020 Z" fill="#87a68a" stroke="#231f20" stroke-width="19" stroke-linecap="round" stroke-linejoin="round"/>
</g>
</g>
<g id="p_f">
<text x="1687.0" y="24.2" font-size="30" font-weight="bold" textLength="13.0" lengthAdjust="spacingAndGlyphs" fill="#231f20" stroke="#231f20" stroke-width="0.9">f</text>
<text x="1917.0" y="42.7" font-size="25" text-anchor="middle" textLength="355.0" lengthAdjust="spacingAndGlyphs" fill="#231f20">Combinatorial Gibson assembly</text>
<text x="1905.5" y="75.7" font-size="25" text-anchor="middle" textLength="153.0" lengthAdjust="spacingAndGlyphs" fill="#231f20">~190 bp exon</text>
<line x1="1882.7" y1="84.9" x2="1925.8" y2="84.9" stroke="#231f20" stroke-width="1.6"/>
<rect x="1778.5" y="103.0" width="11.1" height="6.0" fill="#a9adad" stroke="#231f20" stroke-width="1.4"/>
<rect x="2048.7" y="103.0" width="10.6" height="6.0" fill="#ae5596" stroke="#231f20" stroke-width="1.4"/>
<path d="M1854.0,107.2 L1857.5,107.2 L1869.3,88.6 L1880.3,107.2 L1883.8,107.2" fill="none" stroke="#231f20" stroke-width="1.3" stroke-linejoin="miter"/>
<path d="M1925.6,107.2 L1929.1,107.2 L1940.4,88.6 L1951.2,107.2 L1954.7,107.2" fill="none" stroke="#231f20" stroke-width="1.3" stroke-linejoin="miter"/>
<path d="M1997.2,107.2 L2000.7,107.2 L2011.8,88.6 L2022.8,107.2 L2026.3,107.2" fill="none" stroke="#231f20" stroke-width="1.3" stroke-linejoin="miter"/>
<rect x="1788.4" y="98.2" width="66.6" height="16.4" fill="#231f20"/>
<rect x="1789.8" y="99.2" width="40.1" height="14.4" fill="#a9adad"/>
<rect x="1832.2" y="99.2" width="2.7" height="14.4" fill="#a78cb8"/>
<rect x="1837.2" y="99.2" width="16.3" height="14.4" fill="#ae5596"/>
<rect x="1883.0" y="98.2" width="43.6" height="16.4" fill="#231f20"/>
<rect x="1884.4" y="99.2" width="17.5" height="14.4" fill="#ae5596"/>
<rect x="1904.4" y="99.2" width="2.1" height="14.4" fill="#a78cb8"/>
<rect x="1908.8" y="99.2" width="16.3" height="14.4" fill="#a9adad"/>
<rect x="1954.2" y="98.2" width="43.9" height="16.4" fill="#231f20"/>
<rect x="1955.6" y="99.2" width="17.4" height="14.4" fill="#a9adad"/>
<rect x="1975.3" y="99.2" width="2.9" height="14.4" fill="#a78cb8"/>
<rect x="1980.4" y="99.2" width="16.2" height="14.4" fill="#ae5596"/>
<rect x="2025.8" y="98.2" width="23.9" height="16.4" fill="#231f20"/>
<rect x="2027.2" y="99.2" width="21.0" height="14.4" fill="#ae5596"/>
<rect x="1814.2" y="136.6" width="10.8" height="6.8" fill="#a9adad" stroke="#231f20" stroke-width="1.4"/>
<rect x="2027.0" y="136.6" width="10.9" height="6.8" fill="#ae5596" stroke="#231f20" stroke-width="1.4"/>
<path d="M1846.3,140.3 L1849.8,140.3 L1861.2,122.0 L1872.2,140.3 L1875.7,140.3" fill="none" stroke="#231f20" stroke-width="1.3" stroke-linejoin="miter"/>
<rect x="1823.5" y="131.5" width="23.8" height="16.6" fill="#231f20"/>
<rect x="1824.9" y="132.5" width="20.9" height="14.6" fill="#a9adad"/>
<rect x="1875.2" y="131.5" width="152.8" height="16.6" fill="#231f20"/>
<rect x="1876.6" y="132.5" width="16.6" height="14.6" fill="#a9adad"/>
<rect x="1895.5" y="132.5" width="2.9" height="14.6" fill="#a78cb8"/>
<rect x="1900.7" y="132.5" width="36.1" height="14.6" fill="#ae5596"/>
<rect x="1939.1" y="132.5" width="2.1" height="14.6" fill="#a78cb8"/>
<rect x="1943.5" y="132.5" width="36.1" height="14.6" fill="#ae5596"/>
<rect x="1981.9" y="132.5" width="2.9" height="14.6" fill="#a78cb8"/>
<rect x="1987.1" y="132.5" width="39.5" height="14.6" fill="#ae5596"/>
<rect x="1798.7" y="171.3" width="10.8" height="6.6" fill="#ae5596" stroke="#231f20" stroke-width="1.4"/>
<rect x="2040.6" y="171.3" width="11.1" height="6.6" fill="#ae5596" stroke="#231f20" stroke-width="1.4"/>
<path d="M1873.9,174.6 L1877.4,174.6 L1889.2,156.7 L1900.3,174.6 L1903.8,174.6" fill="none" stroke="#231f20" stroke-width="1.3" stroke-linejoin="miter"/>
<path d="M1945.2,174.6 L1948.7,174.6 L1960.4,156.5 L1971.1,174.6 L1974.6,174.6" fill="none" stroke="#231f20" stroke-width="1.3" stroke-linejoin="miter"/>
<rect x="1808.1" y="166.5" width="66.7" height="16.4" fill="#231f20"/>
<rect x="1809.6" y="167.5" width="40.1" height="14.4" fill="#ae5596"/>
<rect x="1852.0" y="167.5" width="2.9" height="14.4" fill="#a78cb8"/>
<rect x="1857.1" y="167.5" width="16.3" height="14.4" fill="#a9adad"/>
<rect x="1902.8" y="166.5" width="43.4" height="16.4" fill="#231f20"/>
<rect x="1904.2" y="167.5" width="17.8" height="14.4" fill="#a9adad"/>
<rect x="1924.3" y="167.5" width="2.1" height="14.4" fill="#a78cb8"/>
<rect x="1928.7" y="167.5" width="16.0" height="14.4" fill="#a9adad"/>
<rect x="1974.0" y="166.5" width="67.8" height="16.4" fill="#231f20"/>
<rect x="1975.4" y="167.5" width="17.5" height="14.4" fill="#a9adad"/>
<rect x="1995.2" y="167.5" width="2.9" height="14.4" fill="#a78cb8"/>
<rect x="2000.4" y="167.5" width="39.9" height="14.4" fill="#ae5596"/>
<text x="1925.6" y="232.3" font-size="25" text-anchor="middle" textLength="418.7" lengthAdjust="spacingAndGlyphs" fill="#231f20">65,536 Possible genes, same protein,</text>
<text x="1925.5" y="259.6" font-size="25" text-anchor="middle" textLength="462.2" lengthAdjust="spacingAndGlyphs" fill="#231f20">different purine content and exon number</text>
<line x1="1912.0" y1="276.0" x2="1870.5" y2="316.7" stroke="#231f20" stroke-width="1.5"/>
<path d="M1862.8,324.3 L1868.7,311.0 L1870.0,317.2 L1876.2,318.7Z" fill="#231f20"/>
<text x="1786.6" y="355.8" font-size="25" text-anchor="middle" textLength="160.3" lengthAdjust="spacingAndGlyphs" fill="#231f20">Assembly with</text>
<text x="1791.0" y="384.2" font-size="25" text-anchor="middle" textLength="200.0" lengthAdjust="spacingAndGlyphs" fill="#231f20">barcoded plasmid</text>
<text x="1790.8" y="412.0" font-size="25" text-anchor="middle" textLength="48.0" lengthAdjust="spacingAndGlyphs" fill="#231f20">pool</text>
<text x="2042.3" y="365.0" font-size="25" text-anchor="middle" textLength="249.4" lengthAdjust="spacingAndGlyphs" fill="#231f20">Sequence nuclear and</text>
<text x="2041.9" y="392.8" font-size="25" text-anchor="middle" textLength="244.7" lengthAdjust="spacingAndGlyphs" fill="#231f20">cytoplasmic barcodes</text>
<text x="1776.9" y="529.0" font-size="25" text-anchor="middle" textLength="144.5" lengthAdjust="spacingAndGlyphs" fill="#231f20">Unique 20-nt</text>
<text x="1780.5" y="556.6" font-size="25" text-anchor="middle" textLength="91.0" lengthAdjust="spacingAndGlyphs" fill="#231f20">barcode</text>
<line x1="1890.2" y1="508.5" x2="1939.3" y2="508.5" stroke="#231f20" stroke-width="1.5"/>
<path d="M1950.5,508.5 L1936.5,514.1 L1940.0,508.5 L1936.5,502.9Z" fill="#231f20"/>
</g>
<g id="p_f2">
<g transform="translate(1670,410) scale(0.20358)">
<path d="M969.1,300.7 A451,451 0 1 1 172.8,286.8" fill="none" stroke="#231f20" stroke-width="23"/>
<path d="M165,283 L140,240 L128,236" fill="none" stroke="#231f20" stroke-width="6"/>
<path d="M118,222 L152,212 L146,244 Z" fill="#231f20"/>
<path d="M165,283 L185,262" fill="none" stroke="#231f20" stroke-width="6"/>
<g transform="translate(280,207) rotate(-27)"><rect x="-108" y="-23.0" width="208" height="46" fill="#231f20" stroke="#231f20" stroke-width="6"/><rect x="-108" y="-23.0" width="126" height="46" fill="#a9adad"/><rect x="24" y="-23.0" width="6" height="46" fill="#a78cb8"/><rect x="36" y="-23.0" width="64" height="46" fill="#ae5596"/></g>
<path d="M372,172 L382,166 L402,90 L455,138 L465,132" fill="none" stroke="#231f20" stroke-width="6" stroke-linejoin="miter"/>
<g transform="translate(526,126) rotate(-4)"><rect x="-66" y="-23.0" width="130" height="46" fill="#231f20" stroke="#231f20" stroke-width="6"/><rect x="-66" y="-23.0" width="58" height="46" fill="#ae5596"/><rect x="5" y="-23.0" width="59" height="46" fill="#a9adad"/></g>
<path d="M592,124 L600,122 L641,72 L672,136 L682,138" fill="none" stroke="#231f20" stroke-width="6" stroke-linejoin="miter"/>
<g transform="translate(747,152) rotate(17)"><rect x="-70" y="-23.0" width="138" height="46" fill="#231f20" stroke="#231f20" stroke-width="6"/><rect x="-70" y="-23.0" width="58" height="46" fill="#a9adad"/><rect x="-6" y="-23.0" width="6" height="46" fill="#a78cb8"/><rect x="6" y="-23.0" width="62" height="46" fill="#ae5596"/></g>
<path d="M814,176 L822,176 L877,148 L882,212 L890,218" fill="none" stroke="#231f20" stroke-width="6" stroke-linejoin="miter"/>
<g transform="translate(918,240) rotate(40)"><rect x="-42" y="-23.0" width="84" height="46" fill="#231f20" stroke="#231f20" stroke-width="6"/><rect x="-42" y="-23.0" width="84" height="46" fill="#ae5596"/></g>
<path d="M945,262 L985,298" fill="none" stroke="#231f20" stroke-width="16"/>
<path d="M947,264 L983,296" fill="none" stroke="#ae5596" stroke-width="9"/>
<g transform="translate(1003,400) rotate(-9)"><rect x="-29" y="-88" width="58" height="176" fill="#b9bdbd" stroke="#231f20" stroke-width="7"/><line x1="-29" y1="-62.9" x2="29" y2="-62.9" stroke="#231f20" stroke-width="6"/><line x1="-29" y1="-37.7" x2="29" y2="-37.7" stroke="#231f20" stroke-width="6"/><line x1="-29" y1="-12.6" x2="29" y2="-12.6" stroke="#231f20" stroke-width="6"/><line x1="-29" y1="12.6" x2="29" y2="12.6" stroke="#231f20" stroke-width="6"/><line x1="-29" y1="37.7" x2="29" y2="37.7" stroke="#231f20" stroke-width="6"/><line x1="-29" y1="62.9" x2="29" y2="62.9" stroke="#231f20" stroke-width="6"/></g>
<path d="M860,475 L950,428" fill="none" stroke="#231f20" stroke-width="8"/>
</g>
<g transform="translate(1930,410) scale(0.18008)">
<path d="M390,100 C438,95 478,112 520,118 C562,124 603,133 640,135 C677,137 708,132 740,130 C772,128 793,115 830,125 C867,135 923,156 960,190 C997,224 1036,288 1050,330 C1064,372 1050,405 1045,440 C1040,475 1019,508 1020,540 C1021,572 1042,600 1050,630 C1058,660 1068,683 1065,720 C1062,757 1052,811 1035,850 C1018,889 992,930 965,955 C938,980 899,996 870,1000 C841,1004 818,990 790,982 C762,974 738,959 700,950 C662,941 603,930 560,928 C517,926 475,938 440,940 C405,942 383,955 350,942 C317,929 269,900 240,860 C211,820 182,742 175,700 C168,658 189,640 200,610 C211,580 242,555 240,520 C238,485 206,440 190,400 C174,360 138,322 145,280 C152,238 189,180 230,150 C271,120 342,105 390,100Z" fill="#d8d8d1" stroke="#231f20" stroke-width="17"/>
<circle cx="615.0" cy="545.0" r="245.0" fill="#b3ac9f" stroke="#231f20" stroke-width="17"/>
<rect x="242.5" y="252.5" width="135.0" height="31.0" fill="#ae5596" stroke="#231f20" stroke-width="6" transform="rotate(22 310.0 268.0)"/>
<rect x="479.5" y="177.5" width="135.0" height="31.0" fill="#a9adad" stroke="#231f20" stroke-width="6" transform="rotate(20 547.0 193.0)"/>
<rect x="730.5" y="224.5" width="135.0" height="31.0" fill="#a9adad" stroke="#231f20" stroke-width="6" transform="rotate(-18 798.0 240.0)"/>
<rect x="864.5" y="369.5" width="135.0" height="31.0" fill="#a78cb8" stroke="#231f20" stroke-width="6" transform="rotate(20 932.0 385.0)"/>
<rect x="239.5" y="467.5" width="135.0" height="31.0" fill="#a9adad" stroke="#231f20" stroke-width="6" transform="rotate(-62 307.0 483.0)"/>
<rect x="264.5" y="774.5" width="135.0" height="31.0" fill="#a9adad" stroke="#231f20" stroke-width="6" transform="rotate(75 332.0 790.0)"/>
<rect x="550.5" y="826.5" width="135.0" height="31.0" fill="#ae5596" stroke="#231f20" stroke-width="6" transform="rotate(12 618.0 842.0)"/>
<rect x="777.5" y="824.5" width="135.0" height="31.0" fill="#a78cb8" stroke="#231f20" stroke-width="6" transform="rotate(-15 845.0 840.0)"/>
<rect x="865.5" y="674.5" width="135.0" height="31.0" fill="#a9adad" stroke="#231f20" stroke-width="6" transform="rotate(-48 933.0 690.0)"/>
<rect x="537.5" y="409.5" width="135.0" height="31.0" fill="#ae5596" stroke="#231f20" stroke-width="6" transform="rotate(62 605.0 425.0)"/>
<rect x="447.5" y="482.5" width="135.0" height="31.0" fill="#a78cb8" stroke="#231f20" stroke-width="6" transform="rotate(-80 515.0 498.0)"/>
<rect x="680.5" y="439.5" width="135.0" height="31.0" fill="#a78cb8" stroke="#231f20" stroke-width="6" transform="rotate(28 748.0 455.0)"/>
<rect x="677.5" y="529.5" width="135.0" height="31.0" fill="#ae5596" stroke="#231f20" stroke-width="6" transform="rotate(-15 745.0 545.0)"/>
<rect x="419.5" y="599.5" width="135.0" height="31.0" fill="#ae5596" stroke="#231f20" stroke-width="6" transform="rotate(8 487.0 615.0)"/>
<rect x="512.5" y="674.5" width="135.0" height="31.0" fill="#ae5596" stroke="#231f20" stroke-width="6" transform="rotate(-65 580.0 690.0)"/>
<rect x="652.5" y="644.5" width="135.0" height="31.0" fill="#a9adad" stroke="#231f20" stroke-width="6" transform="rotate(38 720.0 660.0)"/>
</g>
</g>
<g id="p_g">
<text x="0.5" y="708.0" font-size="30" font-weight="bold" textLength="19.5" lengthAdjust="spacingAndGlyphs" fill="#231f20" stroke="#231f20" stroke-width="0.9">g</text>
<circle cx="388.5" cy="713.9" r="10.6" fill="#54585a" stroke="#231f20" stroke-width="1.8"/>
<text x="411.0" y="723.6" font-size="25" textLength="83.0" lengthAdjust="spacingAndGlyphs" fill="#231f20">4 h dox</text>
<circle cx="543.5" cy="713.9" r="10.6" fill="#f09a2b" stroke="#231f20" stroke-width="1.8"/>
<text x="566.4" y="723.6" font-size="25" textLength="83.0" lengthAdjust="spacingAndGlyphs" fill="#231f20">8 h dox</text>
<circle cx="699.4" cy="713.9" r="10.6" fill="#d81f3b" stroke="#231f20" stroke-width="1.8"/>
<text x="721.7" y="723.6" font-size="25" textLength="96.4" lengthAdjust="spacingAndGlyphs" fill="#231f20">12 h dox</text>
<path d="M326.0,869.6 L326.1,869.6 L327.0,869.5 L328.2,869.5 L329.5,869.4 L331.0,869.3 L332.7,869.1 L334.5,868.7 L336.4,868.2 L338.3,867.4 L340.4,866.3 L342.7,865.1 L345.1,863.7 L347.7,862.2 L350.3,860.4 L352.9,858.5 L355.6,856.4 L358.3,854.1 L361.0,851.5 L363.8,848.7 L366.7,845.7 L369.6,842.6 L372.5,839.2 L375.3,835.8 L377.9,832.2 L380.4,828.6 L382.7,824.8 L384.9,820.6 L386.9,816.3 L388.9,811.9 L390.7,807.5 L392.5,803.2 L394.2,799.2 L395.9,795.4 L397.5,791.8 L399.0,788.3 L400.3,784.9 L401.7,781.7 L402.9,778.7 L404.2,775.8 L405.6,773.3 L407.0,771.0 L408.5,769.0 L410.0,767.2 L411.5,765.6 L413.0,764.3 L414.6,763.2 L416.1,762.3 L417.6,761.8 L419.2,761.5 L420.7,761.5 L422.1,761.7 L423.6,762.1 L425.1,762.9 L426.5,763.9 L428.1,765.2 L429.7,766.8 L431.4,768.8 L433.1,771.2 L434.9,774.2 L436.8,777.5 L438.8,781.2 L440.7,784.9 L442.7,788.6 L444.8,792.1 L446.9,795.4 L449.0,798.4 L451.2,801.2 L453.4,804.0 L455.7,806.7 L458.0,809.4 L460.2,812.1 L462.4,814.8 L464.6,817.5 L466.6,820.3 L468.6,823.3 L470.5,826.2 L472.5,829.1 L474.4,832.0 L476.3,834.8 L478.2,837.3 L480.1,839.7 L482.0,841.8 L483.8,843.7 L485.7,845.5 L487.6,847.2 L489.4,848.8 L491.4,850.2 L493.4,851.6 L495.6,853.0 L497.9,854.2 L500.3,855.3 L502.7,856.3 L505.3,857.2 L507.8,858.1 L510.4,859.0 L513.0,859.8 L515.5,860.7 L518.0,861.6 L520.6,862.6 L523.2,863.5 L525.8,864.4 L528.3,865.2 L530.8,866.0 L533.2,866.7 L535.4,867.4 L537.7,867.9 L540.0,868.3 L542.3,868.6 L544.4,868.9 L546.5,869.1 L548.3,869.3 L549.8,869.5 L551.0,869.6 L618.5,869.6 Z" fill="#54585a" fill-opacity="0.6"/>
<path d="M326.1,869.6 L327.0,869.5 L328.2,869.5 L329.5,869.4 L331.0,869.3 L332.7,869.1 L334.5,868.7 L336.4,868.2 L338.3,867.4 L340.4,866.3 L342.7,865.1 L345.1,863.7 L347.7,862.2 L350.3,860.4 L352.9,858.5 L355.6,856.4 L358.3,854.1 L361.0,851.5 L363.8,848.7 L366.7,845.7 L369.6,842.6 L372.5,839.2 L375.3,835.8 L377.9,832.2 L380.4,828.6 L382.7,824.8 L384.9,820.6 L386.9,816.3 L388.9,811.9 L390.7,807.5 L392.5,803.2 L394.2,799.2 L395.9,795.4 L397.5,791.8 L399.0,788.3 L400.3,784.9 L401.7,781.7 L402.9,778.7 L404.2,775.8 L405.6,773.3 L407.0,771.0 L408.5,769.0 L410.0,767.2 L411.5,765.6 L413.0,764.3 L414.6,763.2 L416.1,762.3 L417.6,761.8 L419.2,761.5 L420.7,761.5 L422.1,761.7 L423.6,762.1" fill="none" stroke="#231f20" stroke-width="2.1" stroke-linejoin="round" stroke-linecap="round"/>
<path d="M423.6,762.1 L425.1,762.9 L426.5,763.9 L428.1,765.2 L429.7,766.8 L431.4,768.8 L433.1,771.2 L434.9,774.2 L436.8,777.5 L438.8,781.2 L440.7,784.9 L442.7,788.6 L444.8,792.1 L446.9,795.4 L449.0,798.4 L451.2,801.2 L453.4,804.0 L455.7,806.7 L458.0,809.4 L460.2,812.1 L462.4,814.8 L464.6,817.5 L466.6,820.3 L468.6,823.3 L470.5,826.2 L472.5,829.1 L474.4,832.0 L476.3,834.8 L478.2,837.3 L480.1,839.7 L482.0,841.8 L483.8,843.7 L485.7,845.5 L487.6,847.2 L489.4,848.8 L491.4,850.2 L493.4,851.6 L495.6,853.0 L497.9,854.2 L500.3,855.3 L502.7,856.3 L505.3,857.2 L507.8,858.1 L510.4,859.0 L513.0,859.8 L515.5,860.7 L518.0,861.6 L520.6,862.6 L523.2,863.5 L525.8,864.4 L528.3,865.2 L530.8,866.0 L533.2,866.7 L535.4,867.4 L537.7,867.9 L540.0,868.3 L542.3,868.6 L544.4,868.9 L546.5,869.1 L548.3,869.3 L549.8,869.5 L551.0,869.6" fill="none" stroke="#231f20" stroke-width="2.2" stroke-opacity="0.72" stroke-linejoin="round" stroke-linecap="butt"/>
<path d="M326.0,869.6 L378.2,869.6 L378.8,868.5 L379.6,867.1 L380.6,865.4 L381.7,863.5 L382.9,861.5 L384.0,859.3 L385.0,857.2 L385.9,855.2 L386.7,853.2 L387.4,851.3 L387.9,849.4 L388.5,847.3 L389.1,845.2 L389.8,842.9 L390.5,840.3 L391.5,837.5 L392.6,834.2 L393.9,830.6 L395.2,826.7 L396.7,822.6 L398.2,818.5 L399.7,814.4 L401.1,810.3 L402.6,806.4 L403.9,802.7 L405.3,798.9 L406.6,795.1 L408.0,791.4 L409.3,787.7 L410.7,784.2 L412.1,780.8 L413.6,777.7 L415.2,774.7 L416.8,771.8 L418.5,769.1 L420.1,766.5 L421.8,764.1 L423.5,761.8 L425.2,759.7 L426.9,757.7 L428.6,755.8 L430.3,753.9 L432.0,752.1 L433.6,750.5 L435.3,749.1 L437.0,748.1 L438.6,747.4 L440.2,747.3 L441.8,747.7 L443.4,748.6 L445.0,749.9 L446.5,751.6 L448.0,753.5 L449.5,755.6 L451.0,757.7 L452.4,759.9 L453.7,762.2 L455.0,764.7 L456.2,767.3 L457.4,770.1 L458.6,773.0 L459.8,776.0 L461.1,779.0 L462.4,782.1 L463.7,785.2 L465.0,788.5 L466.4,791.8 L467.8,795.2 L469.2,798.7 L470.6,802.1 L472.0,805.4 L473.4,808.7 L474.8,811.9 L476.2,815.1 L477.6,818.3 L479.0,821.5 L480.4,824.6 L481.7,827.5 L483.1,830.4 L484.5,833.0 L485.9,835.5 L487.3,837.9 L488.7,840.2 L490.0,842.4 L491.4,844.4 L492.8,846.3 L494.2,848.0 L495.6,849.6 L496.9,851.0 L498.2,852.2 L499.4,853.3 L500.7,854.2 L502.0,855.0 L503.4,855.8 L505.0,856.6 L506.7,857.4 L508.6,858.2 L510.6,858.9 L512.8,859.6 L515.1,860.3 L517.4,860.9 L519.8,861.6 L522.1,862.2 L524.4,862.9 L526.6,863.6 L528.9,864.4 L531.2,865.2 L533.5,866.0 L535.8,866.7 L538.0,867.4 L540.1,868.0 L542.1,868.5 L544.1,868.8 L546.0,869.1 L548.0,869.3 L549.8,869.4 L551.6,869.4 L553.1,869.5 L554.4,869.5 L555.4,869.6 L618.5,869.6 Z" fill="#f29b30" fill-opacity="0.56"/>
<path d="M378.2,869.6 L378.8,868.5 L379.6,867.1 L380.6,865.4 L381.7,863.5 L382.9,861.5 L384.0,859.3" fill="none" stroke="#231f20" stroke-width="2.2" stroke-opacity="0.72" stroke-linejoin="round" stroke-linecap="butt"/>
<path d="M384.0,859.3 L385.0,857.2 L385.9,855.2 L386.7,853.2 L387.4,851.3 L387.9,849.4 L388.5,847.3 L389.1,845.2 L389.8,842.9 L390.5,840.3 L391.5,837.5 L392.6,834.2 L393.9,830.6 L395.2,826.7 L396.7,822.6 L398.2,818.5 L399.7,814.4 L401.1,810.3 L402.6,806.4 L403.9,802.7 L405.3,798.9 L406.6,795.1 L408.0,791.4 L409.3,787.7 L410.7,784.2 L412.1,780.8 L413.6,777.7 L415.2,774.7 L416.8,771.8 L418.5,769.1 L420.1,766.5 L421.8,764.1 L423.5,761.8 L425.2,759.7 L426.9,757.7 L428.6,755.8 L430.3,753.9 L432.0,752.1 L433.6,750.5 L435.3,749.1 L437.0,748.1 L438.6,747.4 L440.2,747.3 L441.8,747.7 L443.4,748.6 L445.0,749.9 L446.5,751.6 L448.0,753.5 L449.5,755.6 L451.0,757.7 L452.4,759.9 L453.7,762.2 L455.0,764.7 L456.2,767.3 L457.4,770.1 L458.6,773.0 L459.8,776.0 L461.1,779.0 L462.4,782.1" fill="none" stroke="#231f20" stroke-width="2.1" stroke-linejoin="round" stroke-linecap="round"/>
<path d="M462.4,782.1 L463.7,785.2 L465.0,788.5 L466.4,791.8 L467.8,795.2 L469.2,798.7 L470.6,802.1 L472.0,805.4 L473.4,808.7 L474.8,811.9 L476.2,815.1 L477.6,818.3 L479.0,821.5 L480.4,824.6 L481.7,827.5 L483.1,830.4 L484.5,833.0 L485.9,835.5 L487.3,837.9 L488.7,840.2 L490.0,842.4 L491.4,844.4 L492.8,846.3 L494.2,848.0 L495.6,849.6 L496.9,851.0 L498.2,852.2 L499.4,853.3 L500.7,854.2 L502.0,855.0 L503.4,855.8 L505.0,856.6 L506.7,857.4 L508.6,858.2 L510.6,858.9 L512.8,859.6 L515.1,860.3 L517.4,860.9 L519.8,861.6 L522.1,862.2 L524.4,862.9 L526.6,863.6 L528.9,864.4 L531.2,865.2 L533.5,866.0 L535.8,866.7 L538.0,867.4 L540.1,868.0 L542.1,868.5 L544.1,868.8 L546.0,869.1 L548.0,869.3 L549.8,869.4 L551.6,869.4 L553.1,869.5 L554.4,869.5 L555.4,869.6" fill="none" stroke="#231f20" stroke-width="2.2" stroke-opacity="0.72" stroke-linejoin="round" stroke-linecap="butt"/>
<path d="M326.0,869.6 L347.2,869.6 L348.6,869.2 L350.4,868.6 L352.5,867.9 L354.9,867.1 L357.5,866.3 L360.1,865.5 L362.6,864.7 L364.9,864.0 L367.1,863.4 L369.3,862.7 L371.6,862.1 L373.8,861.5 L376.0,860.9 L378.2,860.3 L380.4,859.7 L382.6,859.2 L384.9,858.7 L387.2,858.2 L389.5,857.8 L391.8,857.4 L394.0,857.0 L396.2,856.5 L398.3,855.9 L400.3,855.2 L402.2,854.3 L403.9,853.5 L405.6,852.5 L407.1,851.5 L408.7,850.3 L410.3,849.1 L411.9,847.8 L413.6,846.3 L415.4,844.8 L417.3,843.2 L419.2,841.6 L421.1,839.8 L423.1,837.9 L425.1,835.8 L427.1,833.4 L429.1,830.8 L431.3,827.8 L433.6,824.3 L435.9,820.5 L438.3,816.6 L440.6,812.6 L442.8,808.7 L444.9,805.2 L446.9,802.0 L448.6,799.2 L450.2,796.5 L451.6,794.0 L453.0,791.6 L454.3,789.5 L455.5,787.5 L456.7,785.8 L457.9,784.3 L459.0,783.0 L460.0,782.1 L461.0,781.3 L461.9,780.7 L462.8,780.3 L463.7,780.1 L464.6,779.9 L465.7,779.9 L466.8,780.0 L468.0,780.3 L469.3,780.7 L470.5,781.3 L471.8,781.9 L473.1,782.6 L474.4,783.3 L475.6,783.9 L476.9,784.5 L478.2,785.2 L479.4,786.0 L480.7,786.8 L482.0,787.5 L483.2,788.1 L484.4,788.5 L485.6,788.7 L486.8,788.7 L488.0,788.3 L489.1,787.9 L490.3,787.3 L491.4,786.6 L492.4,786.0 L493.5,785.4 L494.5,785.0 L495.4,784.6 L496.2,784.2 L497.0,783.8 L497.7,783.4 L498.5,783.1 L499.3,783.0 L500.1,783.0 L501.1,783.2 L502.2,783.5 L503.3,783.8 L504.5,784.2 L505.7,784.8 L507.0,785.6 L508.3,786.7 L509.7,788.0 L511.1,789.8 L512.6,792.1 L514.2,795.0 L515.9,798.2 L517.7,801.6 L519.4,805.2 L521.1,808.7 L522.8,812.2 L524.4,815.3 L525.9,818.3 L527.3,821.3 L528.7,824.2 L530.0,827.1 L531.4,829.9 L532.7,832.5 L534.1,835.1 L535.4,837.5 L536.8,839.7 L538.2,841.7 L539.5,843.7 L540.8,845.5 L542.2,847.2 L543.6,848.8 L545.0,850.4 L546.5,851.8 L548.1,853.2 L549.6,854.5 L551.2,855.6 L552.9,856.7 L554.6,857.7 L556.3,858.7 L558.0,859.7 L559.8,860.7 L561.7,861.7 L563.7,862.8 L565.8,863.9 L567.8,864.9 L569.9,865.9 L571.9,866.7 L573.7,867.5 L575.3,868.0 L576.7,868.4 L577.9,868.6 L579.0,868.6 L580.0,868.6 L581.0,868.4 L582.0,868.3 L583.0,868.1 L584.2,868.0 L585.5,867.9 L586.8,867.7 L588.2,867.5 L589.6,867.3 L591.0,867.1 L592.4,866.9 L593.8,866.7 L595.2,866.7 L596.6,866.7 L598.0,866.8 L599.4,867.0 L600.8,867.2 L602.2,867.4 L603.6,867.6 L604.9,867.8 L606.3,868.0 L607.8,868.2 L609.4,868.4 L611.0,868.7 L612.6,868.9 L614.1,869.1 L615.4,869.3 L616.5,869.5 L617.4,869.6 L618.5,869.6 Z" fill="#d9462b" fill-opacity="0.62"/>
<path d="M347.2,869.6 L348.6,869.2 L350.4,868.6 L352.5,867.9 L354.9,867.1 L357.5,866.3 L360.1,865.5 L362.6,864.7 L364.9,864.0 L367.1,863.4 L369.3,862.7 L371.6,862.1 L373.8,861.5 L376.0,860.9 L378.2,860.3 L380.4,859.7 L382.6,859.2 L384.9,858.7 L387.2,858.2 L389.5,857.8" fill="none" stroke="#231f20" stroke-width="2.1" stroke-linejoin="round" stroke-linecap="round"/>
<path d="M389.5,857.8 L391.8,857.4 L394.0,857.0 L396.2,856.5 L398.3,855.9 L400.3,855.2 L402.2,854.3 L403.9,853.5 L405.6,852.5 L407.1,851.5 L408.7,850.3 L410.3,849.1 L411.9,847.8 L413.6,846.3 L415.4,844.8 L417.3,843.2 L419.2,841.6 L421.1,839.8 L423.1,837.9 L425.1,835.8 L427.1,833.4 L429.1,830.8" fill="none" stroke="#231f20" stroke-width="2.2" stroke-opacity="0.72" stroke-linejoin="round" stroke-linecap="butt"/>
<path d="M429.1,830.8 L431.3,827.8 L433.6,824.3 L435.9,820.5 L438.3,816.6 L440.6,812.6 L442.8,808.7 L444.9,805.2 L446.9,802.0 L448.6,799.2 L450.2,796.5 L451.6,794.0 L453.0,791.6 L454.3,789.5 L455.5,787.5 L456.7,785.8 L457.9,784.3 L459.0,783.0 L460.0,782.1 L461.0,781.3 L461.9,780.7 L462.8,780.3 L463.7,780.1 L464.6,779.9 L465.7,779.9 L466.8,780.0 L468.0,780.3 L469.3,780.7 L470.5,781.3 L471.8,781.9 L473.1,782.6 L474.4,783.3 L475.6,783.9 L476.9,784.5 L478.2,785.2 L479.4,786.0 L480.7,786.8 L482.0,787.5 L483.2,788.1 L484.4,788.5 L485.6,788.7 L486.8,788.7 L488.0,788.3 L489.1,787.9 L490.3,787.3 L491.4,786.6 L492.4,786.0 L493.5,785.4 L494.5,785.0 L495.4,784.6 L496.2,784.2 L497.0,783.8 L497.7,783.4 L498.5,783.1 L499.3,783.0 L500.1,783.0 L501.1,783.2 L502.2,783.5 L503.3,783.8 L504.5,784.2 L505.7,784.8 L507.0,785.6 L508.3,786.7 L509.7,788.0 L511.1,789.8 L512.6,792.1 L514.2,795.0 L515.9,798.2 L517.7,801.6 L519.4,805.2 L521.1,808.7 L522.8,812.2 L524.4,815.3 L525.9,818.3 L527.3,821.3 L528.7,824.2 L530.0,827.1 L531.4,829.9 L532.7,832.5 L534.1,835.1 L535.4,837.5 L536.8,839.7 L538.2,841.7 L539.5,843.7 L540.8,845.5 L542.2,847.2 L543.6,848.8 L545.0,850.4 L546.5,851.8 L548.1,853.2 L549.6,854.5 L551.2,855.6 L552.9,856.7 L554.6,857.7 L556.3,858.7 L558.0,859.7 L559.8,860.7 L561.7,861.7 L563.7,862.8 L565.8,863.9 L567.8,864.9 L569.9,865.9 L571.9,866.7 L573.7,867.5 L575.3,868.0 L576.7,868.4 L577.9,868.6 L579.0,868.6 L580.0,868.6 L581.0,868.4 L582.0,868.3 L583.0,868.1 L584.2,868.0 L585.5,867.9 L586.8,867.7 L588.2,867.5 L589.6,867.3 L591.0,867.1 L592.4,866.9 L593.8,866.7 L595.2,866.7 L596.6,866.7 L598.0,866.8 L599.4,867.0 L600.8,867.2 L602.2,867.4 L603.6,867.6 L604.9,867.8 L606.3,868.0 L607.8,868.2 L609.4,868.4 L611.0,868.7 L612.6,868.9 L614.1,869.1 L615.4,869.3 L616.5,869.5 L617.4,869.6" fill="none" stroke="#231f20" stroke-width="2.1" stroke-linejoin="round" stroke-linecap="round"/>
<line x1="326.0" y1="869.4" x2="618.5" y2="869.4" stroke="#231f20" stroke-width="3.0"/>
<line x1="173.5" y1="869.4" x2="245.5" y2="869.4" stroke="#231f20" stroke-width="2.6"/>
<path d="M173.5,933.3 L269.7,933.3 L272.3,933.2 L275.9,933.2 L280.2,933.1 L284.9,933.0 L289.8,932.9 L294.6,932.7 L299.0,932.5 L302.9,932.2 L306.2,931.9 L309.2,931.6 L312.0,931.2 L314.7,930.7 L317.2,930.2 L319.8,929.7 L322.3,929.0 L325.0,928.3 L327.9,927.4 L330.7,926.5 L333.6,925.5 L336.5,924.4 L339.4,923.3 L342.1,922.0 L344.7,920.8 L347.2,919.4 L349.5,918.0 L351.6,916.7 L353.5,915.2 L355.4,913.7 L357.3,912.1 L359.0,910.3 L360.9,908.3 L362.7,906.1 L364.5,903.6 L366.4,900.9 L368.2,898.0 L370.0,894.9 L371.7,891.7 L373.5,888.4 L375.3,885.1 L377.1,881.7 L378.9,878.3 L380.8,874.5 L382.7,870.6 L384.6,866.7 L386.5,862.8 L388.3,859.2 L389.9,855.8 L391.5,853.0 L392.9,850.5 L394.1,848.4 L395.2,846.5 L396.3,844.9 L397.3,843.4 L398.3,842.1 L399.3,840.9 L400.3,839.7 L401.5,838.5 L402.6,837.5 L403.7,836.6 L404.8,835.9 L405.9,835.2 L407.0,834.7 L408.1,834.3 L409.2,834.1 L410.3,834.1 L411.5,834.3 L412.6,834.6 L413.8,835.0 L414.9,835.6 L416.0,836.2 L417.1,836.8 L418.1,837.5 L419.0,838.1 L419.8,838.8 L420.5,839.6 L421.2,840.4 L422.0,841.2 L422.8,842.1 L423.7,843.1 L424.7,844.1 L425.9,845.2 L427.2,846.3 L428.5,847.5 L430.0,848.8 L431.4,850.1 L432.9,851.4 L434.4,852.7 L435.8,854.1 L437.2,855.3 L438.5,856.6 L439.9,857.8 L441.3,859.0 L442.7,860.4 L444.1,861.8 L445.5,863.4 L446.9,865.1 L448.2,867.1 L449.6,869.2 L451.0,871.5 L452.4,873.9 L453.8,876.3 L455.2,878.8 L456.5,881.4 L457.9,884.0 L459.3,886.6 L460.6,889.4 L461.9,892.3 L463.2,895.2 L464.5,898.1 L465.9,901.0 L467.4,903.6 L469.0,906.1 L470.7,908.4 L472.5,910.6 L474.4,912.8 L476.3,914.8 L478.3,916.7 L480.4,918.4 L482.4,920.1 L484.5,921.6 L486.6,923.0 L488.7,924.2 L490.8,925.3 L493.0,926.3 L495.2,927.1 L497.4,927.9 L499.8,928.7 L502.2,929.4 L504.8,930.0 L507.5,930.6 L510.2,931.1 L513.0,931.5 L515.9,931.8 L518.7,932.2 L521.6,932.4 L524.4,932.7 L527.3,932.9 L530.4,933.0 L533.7,933.1 L536.8,933.2 L539.8,933.2 L542.5,933.3 L544.8,933.3 L546.5,933.3 L645.5,933.3 Z" fill="#54585a" fill-opacity="0.6"/>
<path d="M269.7,933.3 L272.3,933.2 L275.9,933.2 L280.2,933.1 L284.9,933.0 L289.8,932.9 L294.6,932.7 L299.0,932.5 L302.9,932.2 L306.2,931.9 L309.2,931.6 L312.0,931.2 L314.7,930.7 L317.2,930.2 L319.8,929.7 L322.3,929.0 L325.0,928.3 L327.9,927.4 L330.7,926.5 L333.6,925.5 L336.5,924.4 L339.4,923.3 L342.1,922.0 L344.7,920.8 L347.2,919.4 L349.5,918.0 L351.6,916.7 L353.5,915.2 L355.4,913.7 L357.3,912.1 L359.0,910.3 L360.9,908.3 L362.7,906.1 L364.5,903.6" fill="none" stroke="#231f20" stroke-width="2.2" stroke-opacity="0.72" stroke-linejoin="round" stroke-linecap="butt"/>
<path d="M364.5,903.6 L366.4,900.9 L368.2,898.0 L370.0,894.9 L371.7,891.7 L373.5,888.4 L375.3,885.1 L377.1,881.7 L378.9,878.3 L380.8,874.5 L382.7,870.6 L384.6,866.7 L386.5,862.8 L388.3,859.2 L389.9,855.8 L391.5,853.0 L392.9,850.5 L394.1,848.4 L395.2,846.5 L396.3,844.9 L397.3,843.4 L398.3,842.1 L399.3,840.9 L400.3,839.7 L401.5,838.5 L402.6,837.5 L403.7,836.6" fill="none" stroke="#231f20" stroke-width="2.1" stroke-linejoin="round" stroke-linecap="round"/>
<path d="M403.7,836.6 L404.8,835.9 L405.9,835.2 L407.0,834.7 L408.1,834.3 L409.2,834.1 L410.3,834.1 L411.5,834.3 L412.6,834.6 L413.8,835.0 L414.9,835.6 L416.0,836.2 L417.1,836.8 L418.1,837.5 L419.0,838.1 L419.8,838.8 L420.5,839.6 L421.2,840.4 L422.0,841.2 L422.8,842.1 L423.7,843.1 L424.7,844.1 L425.9,845.2 L427.2,846.3 L428.5,847.5 L430.0,848.8 L431.4,850.1 L432.9,851.4 L434.4,852.7 L435.8,854.1 L437.2,855.3 L438.5,856.6 L439.9,857.8 L441.3,859.0 L442.7,860.4 L444.1,861.8 L445.5,863.4 L446.9,865.1 L448.2,867.1 L449.6,869.2 L451.0,871.5 L452.4,873.9 L453.8,876.3 L455.2,878.8 L456.5,881.4 L457.9,884.0 L459.3,886.6 L460.6,889.4 L461.9,892.3 L463.2,895.2 L464.5,898.1 L465.9,901.0 L467.4,903.6 L469.0,906.1 L470.7,908.4 L472.5,910.6 L474.4,912.8 L476.3,914.8 L478.3,916.7 L480.4,918.4 L482.4,920.1 L484.5,921.6 L486.6,923.0 L488.7,924.2 L490.8,925.3 L493.0,926.3 L495.2,927.1 L497.4,927.9 L499.8,928.7 L502.2,929.4 L504.8,930.0 L507.5,930.6 L510.2,931.1 L513.0,931.5 L515.9,931.8 L518.7,932.2 L521.6,932.4 L524.4,932.7 L527.3,932.9 L530.4,933.0 L533.7,933.1 L536.8,933.2 L539.8,933.2 L542.5,933.3 L544.8,933.3 L546.5,933.3" fill="none" stroke="#231f20" stroke-width="2.2" stroke-opacity="0.72" stroke-linejoin="round" stroke-linecap="butt"/>
<path d="M173.5,933.3 L294.0,933.3 L296.5,933.1 L299.8,932.9 L303.8,932.7 L308.2,932.4 L312.7,932.1 L317.2,931.7 L321.4,931.1 L325.0,930.5 L328.3,929.7 L331.4,928.8 L334.3,927.8 L337.1,926.8 L339.8,925.6 L342.3,924.4 L344.8,923.0 L347.2,921.6 L349.5,920.1 L351.6,918.6 L353.5,917.0 L355.4,915.2 L357.3,913.4 L359.0,911.5 L360.9,909.4 L362.7,907.2 L364.5,904.9 L366.4,902.4 L368.2,899.7 L370.0,897.0 L371.7,894.1 L373.5,891.2 L375.3,888.2 L377.1,885.1 L378.9,881.8 L380.8,878.4 L382.6,874.8 L384.5,871.1 L386.3,867.4 L388.1,863.9 L389.8,860.5 L391.5,857.4 L393.0,854.5 L394.5,851.6 L396.0,848.9 L397.4,846.3 L398.7,843.9 L400.0,841.6 L401.3,839.4 L402.6,837.5 L403.8,835.7 L405.0,834.1 L406.1,832.6 L407.3,831.4 L408.4,830.2 L409.4,829.2 L410.4,828.3 L411.4,827.5 L412.4,826.8 L413.2,826.3 L414.1,825.9 L414.9,825.6 L415.7,825.4 L416.5,825.3 L417.2,825.3 L418.1,825.3 L418.9,825.3 L419.7,825.4 L420.6,825.6 L421.4,825.9 L422.2,826.2 L423.0,826.6 L423.9,827.0 L424.7,827.5 L425.5,827.9 L426.3,828.4 L427.0,828.8 L427.8,829.3 L428.5,829.9 L429.4,830.7 L430.3,831.7 L431.4,833.0 L432.5,834.7 L433.9,836.7 L435.3,839.0 L436.7,841.4 L438.2,843.9 L439.7,846.3 L441.1,848.7 L442.4,850.7 L443.6,852.6 L444.7,854.2 L445.8,855.7 L446.9,857.1 L447.9,858.6 L449.0,860.2 L450.1,862.0 L451.3,864.0 L452.5,866.4 L453.8,868.9 L455.2,871.7 L456.5,874.6 L457.9,877.5 L459.4,880.4 L460.9,883.4 L462.4,886.2 L463.9,889.0 L465.5,891.9 L467.1,894.8 L468.7,897.7 L470.4,900.5 L472.1,903.3 L473.9,905.9 L475.6,908.3 L477.4,910.6 L479.2,912.9 L481.0,915.0 L482.8,917.0 L484.8,918.9 L486.8,920.7 L488.9,922.3 L491.2,923.8 L493.6,925.2 L496.2,926.3 L499.0,927.3 L501.8,928.2 L504.7,929.0 L507.6,929.7 L510.5,930.3 L513.3,930.9 L516.2,931.5 L519.4,931.9 L522.6,932.3 L525.8,932.6 L528.8,932.8 L531.5,933.0 L533.7,933.1 L535.4,933.3 L645.5,933.3 Z" fill="#f29b30" fill-opacity="0.56"/>
<path d="M294.0,933.3 L296.5,933.1 L299.8,932.9 L303.8,932.7 L308.2,932.4 L312.7,932.1 L317.2,931.7 L321.4,931.1 L325.0,930.5 L328.3,929.7 L331.4,928.8 L334.3,927.8 L337.1,926.8 L339.8,925.6 L342.3,924.4 L344.8,923.0 L347.2,921.6 L349.5,920.1 L351.6,918.6 L353.5,917.0 L355.4,915.2 L357.3,913.4 L359.0,911.5 L360.9,909.4 L362.7,907.2 L364.5,904.9 L366.4,902.4 L368.2,899.7" fill="none" stroke="#231f20" stroke-width="2.2" stroke-opacity="0.72" stroke-linejoin="round" stroke-linecap="butt"/>
<path d="M368.2,899.7 L370.0,897.0 L371.7,894.1 L373.5,891.2 L375.3,888.2 L377.1,885.1 L378.9,881.8 L380.8,878.4 L382.6,874.8 L384.5,871.1 L386.3,867.4 L388.1,863.9 L389.8,860.5 L391.5,857.4 L393.0,854.5 L394.5,851.6 L396.0,848.9 L397.4,846.3 L398.7,843.9 L400.0,841.6 L401.3,839.4 L402.6,837.5 L403.8,835.7 L405.0,834.1 L406.1,832.6 L407.3,831.4 L408.4,830.2 L409.4,829.2 L410.4,828.3 L411.4,827.5 L412.4,826.8 L413.2,826.3 L414.1,825.9 L414.9,825.6 L415.7,825.4 L416.5,825.3 L417.2,825.3 L418.1,825.3 L418.9,825.3 L419.7,825.4 L420.6,825.6 L421.4,825.9 L422.2,826.2 L423.0,826.6 L423.9,827.0 L424.7,827.5 L425.5,827.9 L426.3,828.4 L427.0,828.8 L427.8,829.3 L428.5,829.9 L429.4,830.7 L430.3,831.7 L431.4,833.0 L432.5,834.7 L433.9,836.7 L435.3,839.0 L436.7,841.4 L438.2,843.9 L439.7,846.3 L441.1,848.7 L442.4,850.7 L443.6,852.6 L444.7,854.2 L445.8,855.7 L446.9,857.1 L447.9,858.6 L449.0,860.2 L450.1,862.0 L451.3,864.0" fill="none" stroke="#231f20" stroke-width="2.1" stroke-linejoin="round" stroke-linecap="round"/>
<path d="M451.3,864.0 L452.5,866.4 L453.8,868.9 L455.2,871.7 L456.5,874.6 L457.9,877.5 L459.4,880.4 L460.9,883.4 L462.4,886.2 L463.9,889.0 L465.5,891.9 L467.1,894.8 L468.7,897.7 L470.4,900.5 L472.1,903.3 L473.9,905.9 L475.6,908.3 L477.4,910.6 L479.2,912.9 L481.0,915.0 L482.8,917.0 L484.8,918.9 L486.8,920.7 L488.9,922.3 L491.2,923.8 L493.6,925.2 L496.2,926.3 L499.0,927.3 L501.8,928.2 L504.7,929.0 L507.6,929.7 L510.5,930.3 L513.3,930.9 L516.2,931.5 L519.4,931.9 L522.6,932.3 L525.8,932.6 L528.8,932.8 L531.5,933.0 L533.7,933.1 L535.4,933.3" fill="none" stroke="#231f20" stroke-width="2.2" stroke-opacity="0.72" stroke-linejoin="round" stroke-linecap="butt"/>
<path d="M173.5,933.3 L247.5,933.3 L249.2,933.1 L251.3,933.0 L253.9,932.7 L256.8,932.5 L259.9,932.2 L263.1,931.8 L266.4,931.4 L269.7,930.9 L273.0,930.3 L276.6,929.6 L280.3,928.7 L284.1,927.9 L287.9,927.0 L291.6,926.2 L295.1,925.5 L298.5,924.9 L301.6,924.6 L304.6,924.3 L307.4,924.2 L310.2,924.2 L312.9,924.1 L315.5,924.0 L318.1,923.8 L320.6,923.4 L323.0,922.9 L325.3,922.3 L327.5,921.6 L329.6,920.8 L331.7,920.0 L333.8,919.1 L336.0,918.2 L338.3,917.2 L340.7,916.2 L343.1,915.1 L345.5,914.1 L348.0,912.9 L350.5,911.7 L353.1,910.3 L355.6,908.9 L358.3,907.2 L360.9,905.3 L363.6,903.1 L366.4,900.8 L369.2,898.3 L372.0,895.9 L374.8,893.5 L377.6,891.4 L380.4,889.5 L383.2,887.9 L385.9,886.4 L388.7,885.1 L391.5,883.9 L394.3,882.8 L397.0,881.8 L399.8,880.9 L402.6,880.0 L405.4,879.2 L408.2,878.5 L411.1,878.0 L413.9,877.5 L416.7,877.0 L419.5,876.5 L422.1,875.9 L424.7,875.1 L427.2,874.2 L429.6,873.2 L431.9,872.0 L434.1,870.9 L436.3,869.7 L438.4,868.6 L440.5,867.6 L442.4,866.7 L444.3,865.9 L446.1,865.2 L447.8,864.5 L449.5,863.8 L451.1,863.3 L452.7,862.9 L454.2,862.6 L455.7,862.5 L457.2,862.5 L458.6,862.6 L459.9,862.9 L461.3,863.3 L462.6,863.8 L463.9,864.5 L465.3,865.3 L466.8,866.2 L468.3,867.4 L469.9,868.6 L471.5,870.1 L473.2,871.6 L474.8,873.3 L476.5,875.1 L478.3,877.1 L480.1,879.1 L481.9,881.3 L483.7,883.8 L485.6,886.4 L487.6,889.1 L489.5,891.9 L491.5,894.5 L493.5,897.1 L495.6,899.5 L497.7,901.7 L499.8,903.8 L501.9,905.9 L504.0,907.9 L506.2,909.9 L508.5,911.7 L510.9,913.4 L513.3,915.0 L515.9,916.4 L518.5,917.7 L521.3,919.0 L524.1,920.1 L526.9,921.1 L529.8,922.1 L532.6,923.0 L535.4,923.8 L538.2,924.6 L541.0,925.4 L543.8,926.0 L546.5,926.7 L549.3,927.2 L552.1,927.7 L554.8,928.2 L557.6,928.7 L560.3,929.2 L562.9,929.6 L565.4,929.9 L568.0,930.2 L570.6,930.5 L573.4,930.8 L576.4,931.1 L579.7,931.4 L583.4,931.6 L587.3,931.9 L591.4,932.1 L595.7,932.3 L600.1,932.5 L604.5,932.6 L608.8,932.8 L613.0,932.9 L617.3,933.0 L621.9,933.1 L626.6,933.2 L631.3,933.2 L635.7,933.2 L639.7,933.3 L643.0,933.3 L645.5,933.3 L645.5,933.3 Z" fill="#d9462b" fill-opacity="0.62"/>
<path d="M247.5,933.3 L249.2,933.1 L251.3,933.0 L253.9,932.7 L256.8,932.5 L259.9,932.2 L263.1,931.8 L266.4,931.4 L269.7,930.9 L273.0,930.3 L276.6,929.6 L280.3,928.7 L284.1,927.9 L287.9,927.0 L291.6,926.2 L295.1,925.5 L298.5,924.9 L301.6,924.6 L304.6,924.3 L307.4,924.2 L310.2,924.2 L312.9,924.1 L315.5,924.0 L318.1,923.8 L320.6,923.4 L323.0,922.9 L325.3,922.3 L327.5,921.6 L329.6,920.8 L331.7,920.0 L333.8,919.1 L336.0,918.2 L338.3,917.2 L340.7,916.2 L343.1,915.1 L345.5,914.1 L348.0,912.9 L350.5,911.7 L353.1,910.3 L355.6,908.9 L358.3,907.2 L360.9,905.3 L363.6,903.1 L366.4,900.8 L369.2,898.3 L372.0,895.9 L374.8,893.5 L377.6,891.4 L380.4,889.5 L383.2,887.9 L385.9,886.4 L388.7,885.1 L391.5,883.9 L394.3,882.8 L397.0,881.8 L399.8,880.9 L402.6,880.0 L405.4,879.2 L408.2,878.5 L411.1,878.0 L413.9,877.5 L416.7,877.0 L419.5,876.5 L422.1,875.9 L424.7,875.1 L427.2,874.2 L429.6,873.2 L431.9,872.0 L434.1,870.9 L436.3,869.7 L438.4,868.6 L440.5,867.6 L442.4,866.7 L444.3,865.9 L446.1,865.2 L447.8,864.5 L449.5,863.8 L451.1,863.3 L452.7,862.9 L454.2,862.6 L455.7,862.5 L457.2,862.5 L458.6,862.6 L459.9,862.9 L461.3,863.3 L462.6,863.8 L463.9,864.5 L465.3,865.3 L466.8,866.2 L468.3,867.4 L469.9,868.6 L471.5,870.1 L473.2,871.6 L474.8,873.3 L476.5,875.1 L478.3,877.1 L480.1,879.1 L481.9,881.3 L483.7,883.8 L485.6,886.4 L487.6,889.1 L489.5,891.9 L491.5,894.5 L493.5,897.1 L495.6,899.5 L497.7,901.7 L499.8,903.8 L501.9,905.9 L504.0,907.9 L506.2,909.9 L508.5,911.7 L510.9,913.4 L513.3,915.0 L515.9,916.4 L518.5,917.7 L521.3,919.0 L524.1,920.1 L526.9,921.1 L529.8,922.1 L532.6,923.0 L535.4,923.8 L538.2,924.6 L541.0,925.4 L543.8,926.0 L546.5,926.7 L549.3,927.2 L552.1,927.7 L554.8,928.2 L557.6,928.7 L560.3,929.2 L562.9,929.6 L565.4,929.9 L568.0,930.2 L570.6,930.5 L573.4,930.8 L576.4,931.1 L579.7,931.4 L583.4,931.6 L587.3,931.9 L591.4,932.1 L595.7,932.3 L600.1,932.5 L604.5,932.6 L608.8,932.8 L613.0,932.9 L617.3,933.0 L621.9,933.1 L626.6,933.2 L631.3,933.2 L635.7,933.2 L639.7,933.3 L643.0,933.3 L645.5,933.3" fill="none" stroke="#231f20" stroke-width="2.1" stroke-linejoin="round" stroke-linecap="round"/>
<line x1="173.5" y1="933.1" x2="645.5" y2="933.1" stroke="#231f20" stroke-width="3.0"/>
<path d="M173.5,996.8 L325.0,996.8 L326.8,996.6 L329.2,996.3 L332.1,996.0 L335.3,995.7 L338.6,995.2 L341.8,994.6 L344.7,993.9 L347.2,992.9 L349.3,991.7 L351.2,990.4 L353.0,988.9 L354.7,987.2 L356.2,985.5 L357.7,983.6 L359.1,981.6 L360.5,979.6 L361.8,977.4 L363.0,975.1 L364.0,972.7 L365.0,970.2 L366.0,967.6 L367.1,965.0 L368.2,962.3 L369.3,959.7 L370.6,957.0 L371.9,954.3 L373.3,951.5 L374.7,948.7 L376.2,945.9 L377.6,943.1 L379.0,940.3 L380.4,937.5 L381.8,934.7 L383.2,931.7 L384.7,928.8 L386.1,925.8 L387.5,922.9 L388.9,920.2 L390.2,917.7 L391.5,915.4 L392.7,913.3 L393.9,911.4 L395.0,909.7 L396.1,908.2 L397.1,906.8 L398.2,905.5 L399.3,904.3 L400.3,903.2 L401.5,902.2 L402.6,901.3 L403.7,900.6 L404.8,899.9 L405.9,899.4 L407.0,899.1 L408.1,898.8 L409.2,898.8 L410.3,898.9 L411.5,899.2 L412.6,899.6 L413.8,900.2 L414.9,900.9 L416.0,901.6 L417.1,902.4 L418.1,903.2 L419.0,903.9 L419.8,904.7 L420.5,905.5 L421.2,906.4 L422.0,907.3 L422.8,908.4 L423.7,909.6 L424.7,910.9 L425.9,912.5 L427.1,914.2 L428.4,916.0 L429.8,917.9 L431.3,920.0 L432.8,922.1 L434.3,924.2 L435.8,926.4 L437.3,928.7 L438.9,931.2 L440.5,933.7 L442.1,936.3 L443.8,938.9 L445.5,941.4 L447.3,944.0 L449.1,946.4 L450.9,948.7 L452.8,951.0 L454.7,953.2 L456.7,955.4 L458.7,957.6 L460.6,959.7 L462.6,961.9 L464.6,964.1 L466.5,966.4 L468.4,968.7 L470.3,971.0 L472.2,973.4 L474.1,975.7 L476.0,977.9 L478.0,979.9 L480.1,981.8 L482.2,983.6 L484.4,985.2 L486.6,986.8 L488.8,988.2 L491.1,989.6 L493.3,990.8 L495.6,991.9 L497.8,992.9 L500.1,993.7 L502.6,994.5 L505.2,995.1 L507.8,995.5 L510.2,995.9 L512.3,996.3 L514.1,996.5 L515.5,996.8 L595.5,996.8 Z" fill="#54585a" fill-opacity="0.6"/>
<path d="M325.0,996.8 L326.8,996.6 L329.2,996.3 L332.1,996.0 L335.3,995.7 L338.6,995.2 L341.8,994.6 L344.7,993.9 L347.2,992.9 L349.3,991.7 L351.2,990.4 L353.0,988.9 L354.7,987.2 L356.2,985.5 L357.7,983.6 L359.1,981.6 L360.5,979.6 L361.8,977.4 L363.0,975.1 L364.0,972.7 L365.0,970.2 L366.0,967.6 L367.1,965.0 L368.2,962.3 L369.3,959.7 L370.6,957.0 L371.9,954.3 L373.3,951.5 L374.7,948.7 L376.2,945.9 L377.6,943.1 L379.0,940.3 L380.4,937.5 L381.8,934.7 L383.2,931.7 L384.7,928.8 L386.1,925.8 L387.5,922.9 L388.9,920.2 L390.2,917.7 L391.5,915.4 L392.7,913.3 L393.9,911.4 L395.0,909.7 L396.1,908.2 L397.1,906.8 L398.2,905.5 L399.3,904.3 L400.3,903.2 L401.5,902.2 L402.6,901.3 L403.7,900.6 L404.8,899.9 L405.9,899.4 L407.0,899.1 L408.1,898.8 L409.2,898.8 L410.3,898.9 L411.5,899.2 L412.6,899.6 L413.8,900.2 L414.9,900.9 L416.0,901.6 L417.1,902.4 L418.1,903.2 L419.0,903.9 L419.8,904.7 L420.5,905.5 L421.2,906.4 L422.0,907.3 L422.8,908.4 L423.7,909.6 L424.7,910.9 L425.9,912.5 L427.1,914.2 L428.4,916.0 L429.8,917.9 L431.3,920.0 L432.8,922.1 L434.3,924.2 L435.8,926.4 L437.3,928.7 L438.9,931.2 L440.5,933.7 L442.1,936.3 L443.8,938.9 L445.5,941.4 L447.3,944.0 L449.1,946.4 L450.9,948.7 L452.8,951.0 L454.7,953.2 L456.7,955.4 L458.7,957.6 L460.6,959.7 L462.6,961.9 L464.6,964.1 L466.5,966.4 L468.4,968.7 L470.3,971.0 L472.2,973.4 L474.1,975.7 L476.0,977.9 L478.0,979.9 L480.1,981.8 L482.2,983.6 L484.4,985.2 L486.6,986.8 L488.8,988.2 L491.1,989.6 L493.3,990.8 L495.6,991.9 L497.8,992.9 L500.1,993.7 L502.6,994.5 L505.2,995.1 L507.8,995.5 L510.2,995.9 L512.3,996.3 L514.1,996.5 L515.5,996.8" fill="none" stroke="#231f20" stroke-width="2.2" stroke-opacity="0.72" stroke-linejoin="round" stroke-linecap="butt"/>
<path d="M173.5,996.8 L329.5,996.8 L330.9,996.6 L332.8,996.5 L335.1,996.4 L337.6,996.2 L340.3,995.9 L342.8,995.4 L345.2,994.8 L347.2,994.0 L348.9,993.0 L350.5,991.7 L352.0,990.4 L353.4,988.8 L354.7,987.2 L356.0,985.5 L357.1,983.7 L358.3,981.8 L359.3,979.9 L360.2,977.8 L361.0,975.7 L361.7,973.4 L362.4,971.1 L363.2,968.8 L364.0,966.5 L364.9,964.1 L365.9,961.7 L367.0,959.2 L368.2,956.7 L369.3,954.1 L370.5,951.6 L371.7,949.0 L372.7,946.6 L373.8,944.2 L374.7,941.8 L375.6,939.6 L376.4,937.4 L377.2,935.2 L378.0,933.0 L378.8,930.8 L379.6,928.6 L380.4,926.4 L381.2,924.2 L382.0,922.0 L382.8,919.7 L383.6,917.4 L384.4,915.2 L385.2,913.0 L386.1,910.8 L387.1,908.7 L388.0,906.6 L389.1,904.5 L390.1,902.4 L391.2,900.3 L392.3,898.3 L393.5,896.4 L394.7,894.7 L395.9,893.2 L397.2,891.9 L398.5,890.6 L399.9,889.5 L401.3,888.5 L402.7,887.7 L404.2,887.1 L405.6,886.7 L407.0,886.6 L408.4,886.7 L409.8,887.0 L411.1,887.6 L412.5,888.4 L413.9,889.3 L415.3,890.5 L416.7,891.8 L418.1,893.2 L419.4,894.9 L420.8,896.8 L422.2,899.0 L423.6,901.3 L425.0,903.6 L426.4,906.1 L427.8,908.5 L429.1,910.9 L430.5,913.4 L431.9,915.9 L433.3,918.4 L434.7,921.0 L436.1,923.6 L437.4,926.2 L438.8,928.6 L440.2,930.9 L441.6,933.0 L443.0,935.1 L444.4,937.1 L445.7,939.0 L447.1,940.9 L448.5,942.8 L449.9,944.6 L451.3,946.4 L452.7,948.2 L454.2,950.0 L455.6,951.7 L457.1,953.4 L458.5,955.1 L459.9,956.7 L461.2,958.2 L462.4,959.7 L463.4,960.9 L464.2,962.0 L465.0,963.0 L465.7,964.0 L466.4,964.9 L467.1,965.9 L468.0,967.1 L469.0,968.5 L470.2,970.2 L471.5,972.1 L472.8,974.1 L474.3,976.3 L475.7,978.4 L477.2,980.5 L478.7,982.4 L480.1,984.0 L481.4,985.5 L482.7,986.8 L484.0,988.1 L485.3,989.2 L486.7,990.2 L488.1,991.2 L489.6,992.1 L491.2,992.9 L493.0,993.6 L495.1,994.3 L497.3,994.9 L499.6,995.4 L501.8,995.8 L503.8,996.2 L505.4,996.5 L506.7,996.8 L595.5,996.8 Z" fill="#f29b30" fill-opacity="0.56"/>
<path d="M329.5,996.8 L330.9,996.6 L332.8,996.5 L335.1,996.4 L337.6,996.2 L340.3,995.9 L342.8,995.4 L345.2,994.8 L347.2,994.0 L348.9,993.0 L350.5,991.7 L352.0,990.4 L353.4,988.8 L354.7,987.2 L356.0,985.5 L357.1,983.7 L358.3,981.8 L359.3,979.9 L360.2,977.8 L361.0,975.7 L361.7,973.4 L362.4,971.1 L363.2,968.8 L364.0,966.5 L364.9,964.1 L365.9,961.7 L367.0,959.2 L368.2,956.7 L369.3,954.1 L370.5,951.6 L371.7,949.0 L372.7,946.6" fill="none" stroke="#231f20" stroke-width="2.2" stroke-opacity="0.72" stroke-linejoin="round" stroke-linecap="butt"/>
<path d="M372.7,946.6 L373.8,944.2 L374.7,941.8 L375.6,939.6 L376.4,937.4 L377.2,935.2 L378.0,933.0 L378.8,930.8 L379.6,928.6 L380.4,926.4 L381.2,924.2 L382.0,922.0 L382.8,919.7 L383.6,917.4 L384.4,915.2 L385.2,913.0 L386.1,910.8 L387.1,908.7 L388.0,906.6 L389.1,904.5 L390.1,902.4 L391.2,900.3 L392.3,898.3 L393.5,896.4 L394.7,894.7 L395.9,893.2 L397.2,891.9 L398.5,890.6 L399.9,889.5 L401.3,888.5 L402.7,887.7 L404.2,887.1 L405.6,886.7 L407.0,886.6 L408.4,886.7 L409.8,887.0 L411.1,887.6 L412.5,888.4 L413.9,889.3 L415.3,890.5 L416.7,891.8 L418.1,893.2 L419.4,894.9 L420.8,896.8 L422.2,899.0 L423.6,901.3 L425.0,903.6 L426.4,906.1 L427.8,908.5 L429.1,910.9 L430.5,913.4 L431.9,915.9 L433.3,918.4 L434.7,921.0 L436.1,923.6 L437.4,926.2 L438.8,928.6 L440.2,930.9 L441.6,933.0 L443.0,935.1 L444.4,937.1 L445.7,939.0 L447.1,940.9 L448.5,942.8 L449.9,944.6 L451.3,946.4 L452.7,948.2 L454.2,950.0 L455.6,951.7 L457.1,953.4 L458.5,955.1 L459.9,956.7 L461.2,958.2 L462.4,959.7 L463.4,960.9 L464.2,962.0 L465.0,963.0" fill="none" stroke="#231f20" stroke-width="2.1" stroke-linejoin="round" stroke-linecap="round"/>
<path d="M465.0,963.0 L465.7,964.0 L466.4,964.9 L467.1,965.9 L468.0,967.1 L469.0,968.5 L470.2,970.2 L471.5,972.1 L472.8,974.1 L474.3,976.3 L475.7,978.4 L477.2,980.5 L478.7,982.4 L480.1,984.0 L481.4,985.5 L482.7,986.8 L484.0,988.1 L485.3,989.2 L486.7,990.2 L488.1,991.2 L489.6,992.1 L491.2,992.9 L493.0,993.6 L495.1,994.3 L497.3,994.9 L499.6,995.4 L501.8,995.8 L503.8,996.2 L505.4,996.5 L506.7,996.8" fill="none" stroke="#231f20" stroke-width="2.2" stroke-opacity="0.72" stroke-linejoin="round" stroke-linecap="butt"/>
<path d="M173.5,996.8 L173.5,996.8 L175.8,996.6 L178.8,996.4 L182.3,996.1 L186.3,995.8 L190.5,995.5 L194.8,995.2 L199.1,994.9 L203.2,994.7 L207.3,994.4 L211.4,994.1 L215.7,993.8 L220.0,993.5 L224.3,993.3 L228.5,993.1 L232.6,993.0 L236.4,992.9 L240.1,993.0 L243.7,993.2 L247.1,993.6 L250.4,993.9 L253.7,994.3 L256.8,994.5 L260.0,994.6 L263.0,994.4 L266.0,994.1 L268.9,993.6 L271.7,992.9 L274.4,992.2 L277.1,991.3 L279.7,990.4 L282.4,989.5 L285.2,988.5 L288.0,987.4 L290.8,986.2 L293.7,985.0 L296.5,983.7 L299.3,982.4 L302.1,981.1 L304.8,979.8 L307.3,978.5 L309.8,977.3 L312.2,976.1 L314.5,974.9 L316.7,973.7 L318.9,972.5 L321.0,971.3 L323.1,969.9 L325.0,968.5 L326.9,967.0 L328.8,965.2 L330.5,963.4 L332.2,961.5 L333.9,959.7 L335.4,958.0 L336.9,956.5 L338.3,955.2 L339.6,954.3 L340.8,953.5 L341.9,952.9 L342.9,952.5 L343.9,952.1 L344.9,951.8 L346.0,951.5 L347.2,951.3 L348.5,951.0 L349.8,950.8 L351.2,950.7 L352.6,950.6 L354.0,950.5 L355.4,950.5 L356.9,950.3 L358.3,950.1 L359.6,949.9 L361.0,949.6 L362.3,949.3 L363.7,949.0 L365.0,948.7 L366.4,948.3 L367.8,947.9 L369.3,947.5 L370.9,947.0 L372.6,946.5 L374.4,946.0 L376.1,945.4 L377.9,944.8 L379.6,944.2 L381.2,943.6 L382.6,943.1 L383.9,942.5 L385.1,942.0 L386.2,941.4 L387.2,940.9 L388.2,940.4 L389.2,939.8 L390.3,939.2 L391.5,938.6 L392.8,938.0 L394.1,937.3 L395.5,936.5 L396.9,935.7 L398.3,935.0 L399.7,934.3 L401.2,933.7 L402.6,933.1 L403.9,932.6 L405.3,932.1 L406.7,931.7 L408.1,931.4 L409.5,931.0 L410.9,930.8 L412.2,930.6 L413.6,930.4 L415.0,930.3 L416.4,930.3 L417.8,930.3 L419.2,930.3 L420.6,930.4 L421.9,930.6 L423.3,930.9 L424.7,931.3 L426.1,931.8 L427.5,932.4 L428.9,933.1 L430.2,933.9 L431.6,934.7 L433.0,935.6 L434.4,936.5 L435.8,937.5 L437.2,938.6 L438.5,939.7 L439.9,941.0 L441.3,942.3 L442.7,943.6 L444.1,944.9 L445.5,946.2 L446.9,947.5 L448.2,948.8 L449.6,950.1 L451.0,951.4 L452.4,952.7 L453.8,954.0 L455.2,955.2 L456.5,956.4 L457.9,957.5 L459.3,958.5 L460.7,959.5 L462.1,960.4 L463.5,961.3 L464.9,962.1 L466.2,962.8 L467.6,963.5 L469.0,964.1 L470.4,964.6 L471.8,964.9 L473.2,965.1 L474.5,965.2 L475.9,965.4 L477.3,965.6 L478.7,965.9 L480.1,966.3 L481.5,966.9 L482.8,967.6 L484.2,968.4 L485.6,969.2 L487.0,970.1 L488.4,971.0 L489.8,972.0 L491.2,973.0 L492.5,974.0 L493.9,975.1 L495.2,976.2 L496.6,977.4 L497.9,978.6 L499.3,979.7 L500.7,980.8 L502.2,981.8 L503.7,982.8 L505.2,983.7 L506.8,984.5 L508.3,985.3 L509.9,986.1 L511.7,986.9 L513.5,987.7 L515.5,988.5 L517.7,989.2 L520.0,990.0 L522.4,990.8 L524.9,991.5 L527.5,992.3 L530.2,992.9 L532.8,993.5 L535.4,994.0 L538.0,994.4 L540.5,994.7 L542.9,994.9 L545.4,995.0 L548.1,995.2 L550.9,995.3 L554.1,995.4 L557.6,995.5 L561.8,995.7 L566.8,995.9 L572.2,996.1 L577.8,996.3 L583.2,996.4 L588.1,996.6 L592.2,996.7 L595.2,996.8 L595.5,996.8 Z" fill="#d9462b" fill-opacity="0.62"/>
<path d="M173.5,996.8 L175.8,996.6 L178.8,996.4 L182.3,996.1 L186.3,995.8 L190.5,995.5 L194.8,995.2 L199.1,994.9 L203.2,994.7 L207.3,994.4 L211.4,994.1 L215.7,993.8 L220.0,993.5 L224.3,993.3 L228.5,993.1 L232.6,993.0 L236.4,992.9 L240.1,993.0 L243.7,993.2 L247.1,993.6 L250.4,993.9 L253.7,994.3 L256.8,994.5 L260.0,994.6 L263.0,994.4 L266.0,994.1 L268.9,993.6 L271.7,992.9 L274.4,992.2 L277.1,991.3 L279.7,990.4 L282.4,989.5 L285.2,988.5 L288.0,987.4 L290.8,986.2 L293.7,985.0 L296.5,983.7 L299.3,982.4 L302.1,981.1 L304.8,979.8 L307.3,978.5 L309.8,977.3 L312.2,976.1 L314.5,974.9 L316.7,973.7 L318.9,972.5 L321.0,971.3 L323.1,969.9 L325.0,968.5 L326.9,967.0 L328.8,965.2 L330.5,963.4 L332.2,961.5 L333.9,959.7 L335.4,958.0 L336.9,956.5 L338.3,955.2 L339.6,954.3 L340.8,953.5 L341.9,952.9 L342.9,952.5 L343.9,952.1 L344.9,951.8 L346.0,951.5 L347.2,951.3 L348.5,951.0 L349.8,950.8 L351.2,950.7 L352.6,950.6 L354.0,950.5 L355.4,950.5 L356.9,950.3 L358.3,950.1 L359.6,949.9 L361.0,949.6 L362.3,949.3 L363.7,949.0 L365.0,948.7 L366.4,948.3 L367.8,947.9 L369.3,947.5 L370.9,947.0 L372.6,946.5 L374.4,946.0 L376.1,945.4 L377.9,944.8 L379.6,944.2 L381.2,943.6 L382.6,943.1 L383.9,942.5 L385.1,942.0 L386.2,941.4 L387.2,940.9 L388.2,940.4 L389.2,939.8 L390.3,939.2 L391.5,938.6 L392.8,938.0 L394.1,937.3 L395.5,936.5 L396.9,935.7 L398.3,935.0 L399.7,934.3 L401.2,933.7 L402.6,933.1 L403.9,932.6 L405.3,932.1 L406.7,931.7 L408.1,931.4 L409.5,931.0 L410.9,930.8 L412.2,930.6 L413.6,930.4 L415.0,930.3 L416.4,930.3 L417.8,930.3 L419.2,930.3 L420.6,930.4 L421.9,930.6 L423.3,930.9 L424.7,931.3 L426.1,931.8 L427.5,932.4 L428.9,933.1 L430.2,933.9 L431.6,934.7 L433.0,935.6 L434.4,936.5 L435.8,937.5 L437.2,938.6 L438.5,939.7 L439.9,941.0 L441.3,942.3 L442.7,943.6 L444.1,944.9 L445.5,946.2 L446.9,947.5 L448.2,948.8 L449.6,950.1 L451.0,951.4 L452.4,952.7 L453.8,954.0 L455.2,955.2 L456.5,956.4 L457.9,957.5 L459.3,958.5 L460.7,959.5 L462.1,960.4 L463.5,961.3 L464.9,962.1 L466.2,962.8 L467.6,963.5 L469.0,964.1 L470.4,964.6 L471.8,964.9 L473.2,965.1 L474.5,965.2 L475.9,965.4 L477.3,965.6 L478.7,965.9 L480.1,966.3 L481.5,966.9 L482.8,967.6 L484.2,968.4 L485.6,969.2 L487.0,970.1 L488.4,971.0 L489.8,972.0 L491.2,973.0 L492.5,974.0 L493.9,975.1 L495.2,976.2 L496.6,977.4 L497.9,978.6 L499.3,979.7 L500.7,980.8 L502.2,981.8 L503.7,982.8 L505.2,983.7 L506.8,984.5 L508.3,985.3 L509.9,986.1 L511.7,986.9 L513.5,987.7 L515.5,988.5 L517.7,989.2 L520.0,990.0 L522.4,990.8 L524.9,991.5 L527.5,992.3 L530.2,992.9 L532.8,993.5 L535.4,994.0 L538.0,994.4 L540.5,994.7 L542.9,994.9 L545.4,995.0 L548.1,995.2 L550.9,995.3 L554.1,995.4 L557.6,995.5 L561.8,995.7 L566.8,995.9 L572.2,996.1 L577.8,996.3 L583.2,996.4 L588.1,996.6 L592.2,996.7 L595.2,996.8" fill="none" stroke="#231f20" stroke-width="2.1" stroke-linejoin="round" stroke-linecap="round"/>
<line x1="173.5" y1="996.6" x2="595.5" y2="996.6" stroke="#231f20" stroke-width="3.0"/>
<path d="M173.5,1059.9 L342.8,1059.9 L343.6,1059.5 L344.8,1059.0 L346.2,1058.4 L347.7,1057.7 L349.4,1057.0 L351.0,1056.1 L352.5,1055.2 L353.8,1054.2 L355.1,1053.1 L356.3,1051.9 L357.4,1050.6 L358.5,1049.2 L359.6,1047.8 L360.7,1046.2 L361.7,1044.7 L362.7,1043.1 L363.6,1041.5 L364.5,1039.9 L365.2,1038.2 L366.0,1036.5 L366.8,1034.7 L367.6,1032.7 L368.4,1030.6 L369.3,1028.3 L370.3,1025.6 L371.4,1022.8 L372.5,1019.7 L373.6,1016.5 L374.8,1013.3 L375.9,1010.0 L377.1,1006.9 L378.2,1003.9 L379.3,1001.0 L380.4,998.0 L381.5,995.1 L382.6,992.3 L383.7,989.5 L384.8,986.8 L385.9,984.2 L387.1,981.7 L388.1,979.4 L389.2,977.2 L390.2,975.1 L391.2,973.2 L392.3,971.3 L393.4,969.5 L394.6,967.8 L395.9,966.2 L397.4,964.7 L398.9,963.0 L400.6,961.5 L402.3,960.0 L404.0,958.8 L405.8,957.9 L407.5,957.4 L409.2,957.4 L410.9,957.9 L412.5,958.8 L414.2,960.2 L415.8,961.9 L417.5,963.8 L419.2,965.8 L420.8,967.9 L422.5,970.0 L424.2,972.1 L425.9,974.5 L427.6,976.9 L429.3,979.5 L431.0,982.1 L432.6,984.8 L434.2,987.4 L435.8,989.9 L437.3,992.4 L438.7,995.0 L440.1,997.6 L441.5,1000.1 L442.8,1002.6 L444.1,1005.1 L445.5,1007.5 L446.9,1009.9 L448.2,1012.1 L449.6,1014.4 L451.0,1016.6 L452.4,1018.7 L453.8,1020.8 L455.2,1022.8 L456.5,1024.7 L457.9,1026.5 L459.3,1028.2 L460.7,1029.7 L462.1,1031.2 L463.5,1032.6 L464.9,1033.9 L466.2,1035.1 L467.6,1036.4 L469.0,1037.6 L470.4,1038.7 L471.8,1039.9 L473.2,1040.9 L474.5,1042.0 L475.9,1042.9 L477.3,1043.8 L478.7,1044.6 L480.1,1045.3 L481.5,1045.9 L482.8,1046.3 L484.2,1046.7 L485.6,1047.0 L487.0,1047.2 L488.4,1047.3 L489.8,1047.4 L491.2,1047.5 L492.5,1047.5 L493.9,1047.4 L495.2,1047.2 L496.6,1047.0 L497.9,1046.7 L499.3,1046.5 L500.7,1046.4 L502.2,1046.4 L503.8,1046.5 L505.4,1046.7 L507.0,1046.9 L508.7,1047.2 L510.4,1047.5 L512.1,1047.8 L513.8,1048.2 L515.5,1048.6 L517.1,1049.1 L518.7,1049.6 L520.3,1050.2 L521.9,1050.8 L523.5,1051.4 L525.2,1052.0 L526.9,1052.5 L528.8,1053.1 L530.8,1053.5 L532.8,1054.0 L534.9,1054.4 L537.1,1054.9 L539.4,1055.3 L541.7,1055.7 L544.1,1056.0 L546.5,1056.4 L549.1,1056.7 L551.7,1057.0 L554.5,1057.3 L557.3,1057.6 L560.2,1057.9 L563.0,1058.1 L565.9,1058.4 L568.7,1058.6 L571.6,1058.8 L574.7,1059.0 L578.0,1059.2 L581.1,1059.4 L584.1,1059.5 L586.8,1059.7 L589.1,1059.8 L590.8,1059.9 L645.5,1059.9 Z" fill="#54585a" fill-opacity="0.6"/>
<path d="M342.8,1059.9 L343.6,1059.5 L344.8,1059.0 L346.2,1058.4 L347.7,1057.7 L349.4,1057.0 L351.0,1056.1 L352.5,1055.2 L353.8,1054.2 L355.1,1053.1 L356.3,1051.9 L357.4,1050.6 L358.5,1049.2 L359.6,1047.8 L360.7,1046.2 L361.7,1044.7 L362.7,1043.1 L363.6,1041.5 L364.5,1039.9 L365.2,1038.2 L366.0,1036.5 L366.8,1034.7 L367.6,1032.7 L368.4,1030.6 L369.3,1028.3 L370.3,1025.6 L371.4,1022.8 L372.5,1019.7 L373.6,1016.5 L374.8,1013.3 L375.9,1010.0 L377.1,1006.9 L378.2,1003.9 L379.3,1001.0 L380.4,998.0 L381.5,995.1 L382.6,992.3 L383.7,989.5 L384.8,986.8 L385.9,984.2 L387.1,981.7 L388.1,979.4 L389.2,977.2 L390.2,975.1 L391.2,973.2 L392.3,971.3 L393.4,969.5 L394.6,967.8 L395.9,966.2 L397.4,964.7 L398.9,963.0 L400.6,961.5 L402.3,960.0 L404.0,958.8 L405.8,957.9 L407.5,957.4 L409.2,957.4 L410.9,957.9 L412.5,958.8 L414.2,960.2 L415.8,961.9 L417.5,963.8 L419.2,965.8 L420.8,967.9 L422.5,970.0 L424.2,972.1 L425.9,974.5 L427.6,976.9 L429.3,979.5 L431.0,982.1 L432.6,984.8 L434.2,987.4 L435.8,989.9 L437.3,992.4 L438.7,995.0 L440.1,997.6 L441.5,1000.1 L442.8,1002.6 L444.1,1005.1 L445.5,1007.5 L446.9,1009.9 L448.2,1012.1 L449.6,1014.4 L451.0,1016.6 L452.4,1018.7 L453.8,1020.8 L455.2,1022.8 L456.5,1024.7 L457.9,1026.5 L459.3,1028.2 L460.7,1029.7 L462.1,1031.2 L463.5,1032.6" fill="none" stroke="#231f20" stroke-width="2.2" stroke-opacity="0.72" stroke-linejoin="round" stroke-linecap="butt"/>
<path d="M463.5,1032.6 L464.9,1033.9 L466.2,1035.1 L467.6,1036.4 L469.0,1037.6 L470.4,1038.7 L471.8,1039.9 L473.2,1040.9 L474.5,1042.0 L475.9,1042.9 L477.3,1043.8 L478.7,1044.6 L480.1,1045.3 L481.5,1045.9 L482.8,1046.3 L484.2,1046.7 L485.6,1047.0 L487.0,1047.2 L488.4,1047.3 L489.8,1047.4 L491.2,1047.5 L492.5,1047.5 L493.9,1047.4 L495.2,1047.2 L496.6,1047.0 L497.9,1046.7 L499.3,1046.5 L500.7,1046.4 L502.2,1046.4 L503.8,1046.5 L505.4,1046.7 L507.0,1046.9 L508.7,1047.2 L510.4,1047.5 L512.1,1047.8 L513.8,1048.2 L515.5,1048.6 L517.1,1049.1 L518.7,1049.6 L520.3,1050.2 L521.9,1050.8 L523.5,1051.4 L525.2,1052.0 L526.9,1052.5 L528.8,1053.1 L530.8,1053.5 L532.8,1054.0 L534.9,1054.4 L537.1,1054.9 L539.4,1055.3 L541.7,1055.7 L544.1,1056.0 L546.5,1056.4 L549.1,1056.7 L551.7,1057.0 L554.5,1057.3 L557.3,1057.6 L560.2,1057.9 L563.0,1058.1 L565.9,1058.4 L568.7,1058.6 L571.6,1058.8 L574.7,1059.0 L578.0,1059.2" fill="none" stroke="#231f20" stroke-width="2.1" stroke-linejoin="round" stroke-linecap="round"/>
<path d="M578.0,1059.2 L581.1,1059.4 L584.1,1059.5 L586.8,1059.7 L589.1,1059.8 L590.8,1059.9" fill="none" stroke="#231f20" stroke-width="2.2" stroke-opacity="0.72" stroke-linejoin="round" stroke-linecap="butt"/>
<path d="M173.5,1059.9 L342.8,1059.9 L343.6,1059.2 L344.8,1058.3 L346.2,1057.3 L347.7,1056.1 L349.4,1054.8 L351.0,1053.4 L352.5,1051.9 L353.8,1050.4 L355.1,1048.8 L356.3,1047.0 L357.4,1045.2 L358.5,1043.3 L359.6,1041.3 L360.7,1039.2 L361.7,1037.1 L362.7,1034.9 L363.6,1032.6 L364.5,1030.3 L365.3,1027.8 L366.2,1025.3 L366.9,1022.8 L367.7,1020.2 L368.5,1017.6 L369.3,1015.0 L370.2,1012.3 L371.0,1009.4 L371.9,1006.5 L372.8,1003.6 L373.7,1000.7 L374.5,997.9 L375.3,995.3 L376.0,992.8 L376.6,990.6 L377.2,988.5 L377.8,986.6 L378.3,984.8 L378.8,983.0 L379.4,981.2 L379.9,979.3 L380.4,977.3 L380.9,975.2 L381.5,973.0 L382.0,970.7 L382.5,968.4 L383.0,966.1 L383.6,963.8 L384.2,961.7 L384.8,959.6 L385.5,957.6 L386.2,955.6 L387.0,953.6 L387.7,951.7 L388.6,949.9 L389.5,948.2 L390.4,946.6 L391.5,945.2 L392.7,943.9 L393.9,942.7 L395.3,941.5 L396.7,940.5 L398.2,939.6 L399.7,939.0 L401.1,938.6 L402.6,938.5 L403.9,938.8 L405.3,939.2 L406.7,940.0 L408.1,940.9 L409.5,942.0 L410.9,943.3 L412.2,944.8 L413.6,946.3 L415.0,948.0 L416.5,950.0 L417.9,952.1 L419.3,954.4 L420.7,956.8 L422.1,959.2 L423.4,961.6 L424.7,964.0 L425.9,966.4 L427.1,969.0 L428.2,971.6 L429.3,974.2 L430.3,976.8 L431.4,979.3 L432.5,981.7 L433.6,984.0 L434.7,986.0 L435.7,987.9 L436.8,989.7 L437.9,991.4 L438.9,993.2 L440.1,994.9 L441.2,996.8 L442.4,998.8 L443.7,1001.0 L445.0,1003.3 L446.4,1005.7 L447.8,1008.2 L449.2,1010.6 L450.7,1013.1 L452.1,1015.4 L453.5,1017.6 L454.9,1019.7 L456.3,1021.8 L457.7,1023.9 L459.0,1025.9 L460.4,1027.8 L461.8,1029.6 L463.2,1031.4 L464.6,1033.1 L466.0,1034.7 L467.3,1036.3 L468.7,1037.8 L470.1,1039.2 L471.5,1040.5 L472.9,1041.8 L474.3,1043.0 L475.6,1044.2 L477.0,1045.3 L478.3,1046.3 L479.6,1047.3 L480.9,1048.2 L482.2,1049.0 L483.6,1049.9 L485.1,1050.7 L486.7,1051.5 L488.5,1052.3 L490.3,1053.2 L492.3,1054.0 L494.3,1054.8 L496.4,1055.6 L498.4,1056.3 L500.4,1056.9 L502.2,1057.5 L504.1,1058.0 L506.0,1058.4 L508.0,1058.8 L509.8,1059.1 L511.6,1059.3 L513.2,1059.5 L514.5,1059.7 L515.5,1059.9 L645.5,1059.9 Z" fill="#f29b30" fill-opacity="0.56"/>
<path d="M342.8,1059.9 L343.6,1059.2 L344.8,1058.3 L346.2,1057.3 L347.7,1056.1 L349.4,1054.8 L351.0,1053.4 L352.5,1051.9 L353.8,1050.4 L355.1,1048.8 L356.3,1047.0 L357.4,1045.2 L358.5,1043.3 L359.6,1041.3 L360.7,1039.2 L361.7,1037.1 L362.7,1034.9 L363.6,1032.6 L364.5,1030.3 L365.3,1027.8 L366.2,1025.3 L366.9,1022.8 L367.7,1020.2 L368.5,1017.6 L369.3,1015.0 L370.2,1012.3 L371.0,1009.4 L371.9,1006.5 L372.8,1003.6 L373.7,1000.7 L374.5,997.9 L375.3,995.3 L376.0,992.8 L376.6,990.6 L377.2,988.5" fill="none" stroke="#231f20" stroke-width="2.2" stroke-opacity="0.72" stroke-linejoin="round" stroke-linecap="butt"/>
<path d="M377.2,988.5 L377.8,986.6 L378.3,984.8 L378.8,983.0 L379.4,981.2 L379.9,979.3 L380.4,977.3 L380.9,975.2 L381.5,973.0 L382.0,970.7 L382.5,968.4 L383.0,966.1 L383.6,963.8 L384.2,961.7 L384.8,959.6 L385.5,957.6 L386.2,955.6 L387.0,953.6 L387.7,951.7 L388.6,949.9 L389.5,948.2 L390.4,946.6 L391.5,945.2 L392.7,943.9 L393.9,942.7 L395.3,941.5 L396.7,940.5 L398.2,939.6 L399.7,939.0 L401.1,938.6 L402.6,938.5 L403.9,938.8 L405.3,939.2 L406.7,940.0 L408.1,940.9 L409.5,942.0 L410.9,943.3 L412.2,944.8 L413.6,946.3 L415.0,948.0 L416.5,950.0 L417.9,952.1 L419.3,954.4 L420.7,956.8 L422.1,959.2 L423.4,961.6 L424.7,964.0 L425.9,966.4 L427.1,969.0 L428.2,971.6 L429.3,974.2 L430.3,976.8 L431.4,979.3 L432.5,981.7 L433.6,984.0 L434.7,986.0 L435.7,987.9 L436.8,989.7 L437.9,991.4 L438.9,993.2 L440.1,994.9 L441.2,996.8 L442.4,998.8 L443.7,1001.0 L445.0,1003.3 L446.4,1005.7 L447.8,1008.2 L449.2,1010.6 L450.7,1013.1 L452.1,1015.4 L453.5,1017.6 L454.9,1019.7 L456.3,1021.8 L457.7,1023.9 L459.0,1025.9 L460.4,1027.8 L461.8,1029.6 L463.2,1031.4 L464.6,1033.1 L466.0,1034.7 L467.3,1036.3 L468.7,1037.8 L470.1,1039.2 L471.5,1040.5 L472.9,1041.8 L474.3,1043.0 L475.6,1044.2 L477.0,1045.3 L478.3,1046.3 L479.6,1047.3 L480.9,1048.2 L482.2,1049.0 L483.6,1049.9 L485.1,1050.7 L486.7,1051.5 L488.5,1052.3 L490.3,1053.2 L492.3,1054.0 L494.3,1054.8 L496.4,1055.6 L498.4,1056.3 L500.4,1056.9 L502.2,1057.5 L504.1,1058.0 L506.0,1058.4 L508.0,1058.8 L509.8,1059.1" fill="none" stroke="#231f20" stroke-width="2.1" stroke-linejoin="round" stroke-linecap="round"/>
<path d="M509.8,1059.1 L511.6,1059.3 L513.2,1059.5 L514.5,1059.7 L515.5,1059.9" fill="none" stroke="#231f20" stroke-width="2.2" stroke-opacity="0.72" stroke-linejoin="round" stroke-linecap="butt"/>
<path d="M173.5,1059.9 L173.5,1059.9 L174.9,1059.7 L176.6,1059.4 L178.7,1059.0 L181.0,1058.6 L183.6,1058.2 L186.3,1057.8 L189.2,1057.4 L192.1,1057.0 L195.3,1056.7 L198.8,1056.3 L202.6,1056.0 L206.5,1055.6 L210.3,1055.3 L214.1,1055.1 L217.7,1054.9 L220.9,1054.8 L223.9,1054.9 L226.6,1055.1 L229.2,1055.3 L231.6,1055.6 L234.0,1056.0 L236.3,1056.3 L238.5,1056.6 L240.9,1056.8 L243.2,1057.0 L245.5,1057.2 L247.7,1057.4 L249.9,1057.6 L252.0,1057.7 L254.2,1057.7 L256.4,1057.7 L258.6,1057.5 L260.8,1057.2 L263.0,1056.8 L265.2,1056.3 L267.5,1055.7 L269.7,1055.1 L271.9,1054.4 L274.1,1053.8 L276.3,1053.1 L278.6,1052.4 L280.8,1051.6 L283.2,1050.9 L285.4,1050.1 L287.7,1049.2 L289.9,1048.4 L292.0,1047.4 L294.0,1046.4 L295.9,1045.3 L297.7,1044.2 L299.3,1043.0 L301.0,1041.8 L302.5,1040.5 L304.1,1039.2 L305.7,1037.8 L307.3,1036.4 L309.0,1035.0 L310.6,1033.4 L312.3,1031.8 L314.0,1030.1 L315.6,1028.5 L317.3,1027.0 L318.9,1025.5 L320.6,1024.3 L322.3,1023.2 L324.0,1022.2 L325.8,1021.4 L327.5,1020.7 L329.2,1019.9 L330.9,1019.2 L332.4,1018.5 L333.9,1017.6 L335.2,1016.7 L336.4,1015.9 L337.4,1015.1 L338.5,1014.2 L339.5,1013.3 L340.5,1012.3 L341.6,1011.2 L342.8,1009.9 L344.1,1008.3 L345.4,1006.5 L346.8,1004.5 L348.3,1002.5 L349.7,1000.5 L351.2,998.6 L352.5,996.9 L353.8,995.5 L355.0,994.4 L356.1,993.5 L357.1,992.8 L358.1,992.2 L359.1,991.8 L360.2,991.4 L361.4,991.0 L362.7,990.6 L364.1,990.2 L365.6,990.0 L367.3,989.8 L368.9,989.6 L370.6,989.5 L372.4,989.3 L374.2,989.1 L376.0,988.8 L377.9,988.4 L379.9,987.9 L381.9,987.3 L384.0,986.7 L386.1,986.1 L388.0,985.6 L389.8,985.2 L391.5,985.1 L392.9,985.1 L394.2,985.2 L395.3,985.4 L396.3,985.7 L397.3,986.1 L398.3,986.5 L399.3,987.1 L400.3,987.7 L401.4,988.4 L402.5,989.2 L403.6,990.0 L404.6,990.9 L405.7,991.9 L406.8,993.0 L408.0,994.2 L409.2,995.5 L410.5,996.9 L411.8,998.4 L413.2,1000.1 L414.6,1001.8 L416.0,1003.6 L417.5,1005.4 L418.9,1007.1 L420.3,1008.8 L421.6,1010.4 L423.0,1011.9 L424.3,1013.5 L425.7,1015.1 L427.0,1016.6 L428.4,1018.1 L429.9,1019.5 L431.4,1020.9 L432.9,1022.3 L434.5,1023.7 L436.2,1025.0 L437.9,1026.3 L439.6,1027.5 L441.3,1028.7 L443.0,1029.8 L444.6,1030.9 L446.3,1031.9 L448.0,1032.8 L449.7,1033.7 L451.4,1034.5 L453.1,1035.3 L454.8,1036.0 L456.4,1036.8 L457.9,1037.6 L459.4,1038.3 L460.9,1039.0 L462.2,1039.7 L463.6,1040.3 L464.9,1041.0 L466.3,1041.7 L467.6,1042.4 L469.0,1043.1 L470.4,1043.9 L471.8,1044.7 L473.2,1045.5 L474.5,1046.4 L475.9,1047.3 L477.3,1048.1 L478.7,1048.9 L480.1,1049.7 L481.4,1050.5 L482.7,1051.3 L484.0,1052.0 L485.3,1052.7 L486.7,1053.4 L488.1,1054.1 L489.6,1054.7 L491.2,1055.3 L492.9,1055.8 L494.7,1056.3 L496.5,1056.7 L498.5,1057.1 L500.5,1057.4 L502.5,1057.7 L504.6,1058.0 L506.7,1058.2 L508.7,1058.2 L510.8,1058.2 L512.9,1058.2 L515.1,1058.1 L517.3,1057.9 L519.6,1057.8 L521.9,1057.6 L524.4,1057.5 L526.9,1057.3 L529.6,1057.2 L532.4,1057.0 L535.2,1056.8 L538.0,1056.6 L540.9,1056.5 L543.7,1056.4 L546.5,1056.4 L548.9,1056.5 L550.8,1056.6 L552.4,1056.8 L554.2,1057.1 L556.4,1057.4 L559.3,1057.6 L563.3,1057.9 L568.7,1058.2 L576.2,1058.4 L585.8,1058.6 L596.9,1058.9 L608.5,1059.1 L619.9,1059.4 L630.4,1059.6 L639.2,1059.8 L645.5,1059.9 L645.5,1059.9 Z" fill="#d9462b" fill-opacity="0.62"/>
<path d="M173.5,1059.9 L174.9,1059.7 L176.6,1059.4 L178.7,1059.0 L181.0,1058.6 L183.6,1058.2 L186.3,1057.8 L189.2,1057.4 L192.1,1057.0 L195.3,1056.7 L198.8,1056.3 L202.6,1056.0 L206.5,1055.6 L210.3,1055.3 L214.1,1055.1 L217.7,1054.9 L220.9,1054.8 L223.9,1054.9 L226.6,1055.1 L229.2,1055.3 L231.6,1055.6 L234.0,1056.0 L236.3,1056.3 L238.5,1056.6 L240.9,1056.8 L243.2,1057.0 L245.5,1057.2 L247.7,1057.4 L249.9,1057.6 L252.0,1057.7 L254.2,1057.7 L256.4,1057.7 L258.6,1057.5 L260.8,1057.2 L263.0,1056.8 L265.2,1056.3 L267.5,1055.7 L269.7,1055.1 L271.9,1054.4 L274.1,1053.8 L276.3,1053.1 L278.6,1052.4 L280.8,1051.6 L283.2,1050.9 L285.4,1050.1 L287.7,1049.2 L289.9,1048.4 L292.0,1047.4 L294.0,1046.4 L295.9,1045.3 L297.7,1044.2 L299.3,1043.0 L301.0,1041.8 L302.5,1040.5 L304.1,1039.2 L305.7,1037.8 L307.3,1036.4 L309.0,1035.0 L310.6,1033.4 L312.3,1031.8 L314.0,1030.1 L315.6,1028.5 L317.3,1027.0 L318.9,1025.5 L320.6,1024.3 L322.3,1023.2 L324.0,1022.2 L325.8,1021.4 L327.5,1020.7 L329.2,1019.9 L330.9,1019.2 L332.4,1018.5 L333.9,1017.6 L335.2,1016.7 L336.4,1015.9 L337.4,1015.1 L338.5,1014.2 L339.5,1013.3 L340.5,1012.3 L341.6,1011.2 L342.8,1009.9 L344.1,1008.3 L345.4,1006.5 L346.8,1004.5 L348.3,1002.5 L349.7,1000.5 L351.2,998.6 L352.5,996.9 L353.8,995.5 L355.0,994.4 L356.1,993.5 L357.1,992.8 L358.1,992.2 L359.1,991.8 L360.2,991.4 L361.4,991.0 L362.7,990.6 L364.1,990.2 L365.6,990.0 L367.3,989.8 L368.9,989.6 L370.6,989.5 L372.4,989.3 L374.2,989.1 L376.0,988.8 L377.9,988.4 L379.9,987.9 L381.9,987.3 L384.0,986.7 L386.1,986.1 L388.0,985.6 L389.8,985.2 L391.5,985.1 L392.9,985.1 L394.2,985.2 L395.3,985.4 L396.3,985.7 L397.3,986.1 L398.3,986.5 L399.3,987.1 L400.3,987.7 L401.4,988.4 L402.5,989.2 L403.6,990.0 L404.6,990.9 L405.7,991.9 L406.8,993.0 L408.0,994.2 L409.2,995.5 L410.5,996.9 L411.8,998.4 L413.2,1000.1 L414.6,1001.8 L416.0,1003.6 L417.5,1005.4 L418.9,1007.1 L420.3,1008.8 L421.6,1010.4 L423.0,1011.9 L424.3,1013.5 L425.7,1015.1 L427.0,1016.6 L428.4,1018.1 L429.9,1019.5 L431.4,1020.9 L432.9,1022.3 L434.5,1023.7 L436.2,1025.0 L437.9,1026.3 L439.6,1027.5 L441.3,1028.7 L443.0,1029.8 L444.6,1030.9 L446.3,1031.9 L448.0,1032.8 L449.7,1033.7 L451.4,1034.5 L453.1,1035.3 L454.8,1036.0 L456.4,1036.8 L457.9,1037.6 L459.4,1038.3 L460.9,1039.0 L462.2,1039.7 L463.6,1040.3 L464.9,1041.0 L466.3,1041.7 L467.6,1042.4 L469.0,1043.1 L470.4,1043.9 L471.8,1044.7 L473.2,1045.5 L474.5,1046.4 L475.9,1047.3 L477.3,1048.1 L478.7,1048.9 L480.1,1049.7 L481.4,1050.5 L482.7,1051.3 L484.0,1052.0 L485.3,1052.7 L486.7,1053.4 L488.1,1054.1 L489.6,1054.7 L491.2,1055.3 L492.9,1055.8 L494.7,1056.3 L496.5,1056.7 L498.5,1057.1 L500.5,1057.4 L502.5,1057.7 L504.6,1058.0 L506.7,1058.2 L508.7,1058.2 L510.8,1058.2 L512.9,1058.2 L515.1,1058.1 L517.3,1057.9 L519.6,1057.8 L521.9,1057.6 L524.4,1057.5 L526.9,1057.3 L529.6,1057.2 L532.4,1057.0 L535.2,1056.8 L538.0,1056.6 L540.9,1056.5 L543.7,1056.4 L546.5,1056.4 L548.9,1056.5 L550.8,1056.6 L552.4,1056.8 L554.2,1057.1 L556.4,1057.4 L559.3,1057.6 L563.3,1057.9 L568.7,1058.2 L576.2,1058.4 L585.8,1058.6 L596.9,1058.9 L608.5,1059.1 L619.9,1059.4 L630.4,1059.6 L639.2,1059.8 L645.5,1059.9" fill="none" stroke="#231f20" stroke-width="2.1" stroke-linejoin="round" stroke-linecap="round"/>
<line x1="173.5" y1="1059.7" x2="645.5" y2="1059.7" stroke="#231f20" stroke-width="3.0"/>
<path d="M216.5,1124.0 L302.9,1124.0 L305.5,1123.3 L309.1,1122.4 L313.4,1121.4 L318.1,1120.2 L323.0,1118.9 L327.8,1117.4 L332.3,1115.8 L336.1,1114.0 L339.5,1112.0 L342.6,1109.8 L345.5,1107.4 L348.3,1104.9 L350.9,1102.3 L353.5,1099.6 L355.9,1096.8 L358.3,1094.0 L360.5,1091.2 L362.7,1088.3 L364.7,1085.3 L366.6,1082.3 L368.4,1079.2 L370.2,1076.0 L372.0,1072.8 L373.8,1069.7 L375.5,1066.4 L377.3,1063.1 L379.0,1059.7 L380.7,1056.2 L382.3,1052.8 L383.9,1049.5 L385.5,1046.2 L387.1,1043.1 L388.5,1040.0 L390.0,1037.0 L391.3,1034.0 L392.7,1031.0 L394.0,1028.2 L395.3,1025.6 L396.7,1023.1 L398.1,1020.9 L399.6,1018.9 L401.1,1017.0 L402.7,1015.3 L404.3,1013.7 L405.9,1012.4 L407.4,1011.3 L408.9,1010.4 L410.3,1009.9 L411.7,1009.6 L412.9,1009.6 L414.2,1009.9 L415.4,1010.4 L416.6,1011.1 L417.8,1012.0 L419.0,1013.1 L420.3,1014.3 L421.6,1015.7 L423.0,1017.2 L424.3,1019.0 L425.7,1020.9 L427.1,1023.0 L428.6,1025.2 L430.0,1027.5 L431.4,1029.8 L432.7,1032.3 L434.1,1034.9 L435.5,1037.6 L436.9,1040.5 L438.3,1043.4 L439.7,1046.3 L441.0,1049.1 L442.4,1051.9 L443.8,1054.7 L445.2,1057.5 L446.6,1060.3 L448.0,1063.0 L449.3,1065.8 L450.7,1068.6 L452.1,1071.3 L453.5,1074.1 L454.9,1076.9 L456.3,1079.8 L457.7,1082.7 L459.0,1085.6 L460.4,1088.4 L461.8,1091.2 L463.2,1093.8 L464.6,1096.2 L466.0,1098.6 L467.4,1100.8 L468.8,1103.0 L470.2,1105.0 L471.7,1107.0 L473.0,1108.7 L474.4,1110.3 L475.6,1111.7 L476.8,1113.0 L478.0,1114.0 L479.0,1114.9 L480.1,1115.6 L481.1,1116.2 L482.2,1116.7 L483.3,1117.0 L484.5,1117.3 L485.8,1117.4 L487.2,1117.3 L488.6,1117.0 L490.0,1116.7 L491.5,1116.2 L492.9,1115.8 L494.3,1115.4 L495.6,1115.1 L496.8,1114.8 L497.9,1114.4 L499.0,1114.0 L500.0,1113.6 L501.1,1113.3 L502.1,1113.0 L503.2,1112.9 L504.4,1112.9 L505.7,1113.0 L507.1,1113.2 L508.4,1113.6 L509.8,1114.0 L511.3,1114.5 L512.7,1115.1 L514.1,1115.6 L515.5,1116.2 L516.9,1116.8 L518.3,1117.5 L519.7,1118.2 L521.1,1119.0 L522.4,1119.8 L523.8,1120.5 L525.2,1121.2 L526.6,1121.7 L528.0,1122.2 L529.6,1122.6 L531.2,1122.9 L532.8,1123.2 L534.3,1123.5 L535.7,1123.7 L536.8,1123.8 L537.7,1124.0 L538.5,1124.0 Z" fill="#54585a" fill-opacity="0.6"/>
<path d="M302.9,1124.0 L305.5,1123.3 L309.1,1122.4 L313.4,1121.4 L318.1,1120.2 L323.0,1118.9 L327.8,1117.4 L332.3,1115.8 L336.1,1114.0 L339.5,1112.0 L342.6,1109.8 L345.5,1107.4 L348.3,1104.9 L350.9,1102.3 L353.5,1099.6 L355.9,1096.8 L358.3,1094.0 L360.5,1091.2 L362.7,1088.3 L364.7,1085.3 L366.6,1082.3 L368.4,1079.2 L370.2,1076.0 L372.0,1072.8 L373.8,1069.7 L375.5,1066.4 L377.3,1063.1 L379.0,1059.7 L380.7,1056.2 L382.3,1052.8 L383.9,1049.5 L385.5,1046.2 L387.1,1043.1 L388.5,1040.0 L390.0,1037.0 L391.3,1034.0 L392.7,1031.0 L394.0,1028.2 L395.3,1025.6 L396.7,1023.1 L398.1,1020.9 L399.6,1018.9 L401.1,1017.0 L402.7,1015.3 L404.3,1013.7 L405.9,1012.4 L407.4,1011.3 L408.9,1010.4 L410.3,1009.9" fill="none" stroke="#231f20" stroke-width="2.2" stroke-opacity="0.72" stroke-linejoin="round" stroke-linecap="butt"/>
<path d="M410.3,1009.9 L411.7,1009.6 L412.9,1009.6 L414.2,1009.9 L415.4,1010.4 L416.6,1011.1 L417.8,1012.0 L419.0,1013.1 L420.3,1014.3 L421.6,1015.7 L423.0,1017.2 L424.3,1019.0 L425.7,1020.9 L427.1,1023.0 L428.6,1025.2 L430.0,1027.5 L431.4,1029.8 L432.7,1032.3 L434.1,1034.9 L435.5,1037.6 L436.9,1040.5 L438.3,1043.4 L439.7,1046.3 L441.0,1049.1 L442.4,1051.9 L443.8,1054.7 L445.2,1057.5 L446.6,1060.3 L448.0,1063.0 L449.3,1065.8 L450.7,1068.6 L452.1,1071.3 L453.5,1074.1 L454.9,1076.9 L456.3,1079.8 L457.7,1082.7 L459.0,1085.6 L460.4,1088.4 L461.8,1091.2 L463.2,1093.8 L464.6,1096.2 L466.0,1098.6 L467.4,1100.8 L468.8,1103.0 L470.2,1105.0 L471.7,1107.0 L473.0,1108.7 L474.4,1110.3 L475.6,1111.7 L476.8,1113.0 L478.0,1114.0 L479.0,1114.9 L480.1,1115.6 L481.1,1116.2 L482.2,1116.7 L483.3,1117.0 L484.5,1117.3 L485.8,1117.4 L487.2,1117.3 L488.6,1117.0 L490.0,1116.7 L491.5,1116.2 L492.9,1115.8 L494.3,1115.4 L495.6,1115.1 L496.8,1114.8 L497.9,1114.4 L499.0,1114.0 L500.0,1113.6 L501.1,1113.3 L502.1,1113.0 L503.2,1112.9 L504.4,1112.9 L505.7,1113.0 L507.1,1113.2 L508.4,1113.6 L509.8,1114.0 L511.3,1114.5 L512.7,1115.1 L514.1,1115.6 L515.5,1116.2 L516.9,1116.8 L518.3,1117.5 L519.7,1118.2 L521.1,1119.0 L522.4,1119.8 L523.8,1120.5 L525.2,1121.2 L526.6,1121.7 L528.0,1122.2 L529.6,1122.6 L531.2,1122.9 L532.8,1123.2 L534.3,1123.5 L535.7,1123.7 L536.8,1123.8 L537.7,1124.0" fill="none" stroke="#231f20" stroke-width="2.1" stroke-linejoin="round" stroke-linecap="round"/>
<path d="M216.5,1124.0 L287.4,1124.0 L290.4,1123.4 L294.5,1122.7 L299.4,1121.9 L304.8,1120.9 L310.4,1119.9 L315.8,1118.7 L320.8,1117.5 L325.0,1116.2 L328.6,1114.8 L331.9,1113.4 L335.0,1112.0 L337.8,1110.4 L340.4,1108.8 L342.8,1107.0 L345.1,1105.0 L347.2,1102.9 L349.1,1100.5 L350.8,1098.0 L352.3,1095.2 L353.7,1092.4 L354.9,1089.4 L356.1,1086.5 L357.2,1083.6 L358.3,1080.7 L359.3,1077.9 L360.3,1075.1 L361.1,1072.2 L361.9,1069.4 L362.7,1066.6 L363.4,1063.8 L364.2,1061.2 L364.9,1058.6 L365.6,1056.2 L366.3,1054.0 L367.0,1051.9 L367.7,1049.9 L368.3,1047.8 L369.0,1045.7 L369.7,1043.4 L370.4,1040.9 L371.2,1038.1 L372.1,1035.0 L372.9,1031.7 L373.8,1028.4 L374.6,1025.1 L375.5,1022.0 L376.3,1019.1 L377.1,1016.5 L377.8,1014.3 L378.5,1012.2 L379.1,1010.4 L379.7,1008.7 L380.4,1007.2 L381.0,1005.7 L381.8,1004.4 L382.6,1003.2 L383.6,1002.1 L384.6,1001.0 L385.6,1000.1 L386.7,999.3 L387.9,998.6 L389.0,998.1 L390.2,997.8 L391.5,997.7 L392.8,997.8 L394.1,998.2 L395.5,998.7 L396.9,999.4 L398.3,1000.3 L399.7,1001.2 L401.2,1002.2 L402.6,1003.2 L403.9,1004.3 L405.3,1005.3 L406.7,1006.5 L408.1,1007.7 L409.5,1009.1 L410.9,1010.6 L412.2,1012.3 L413.6,1014.3 L415.0,1016.5 L416.4,1019.0 L417.8,1021.6 L419.2,1024.4 L420.6,1027.3 L421.9,1030.3 L423.3,1033.4 L424.7,1036.4 L426.1,1039.6 L427.5,1042.9 L428.9,1046.3 L430.2,1049.7 L431.6,1053.2 L433.0,1056.6 L434.4,1059.9 L435.8,1063.0 L437.2,1066.0 L438.5,1069.0 L439.9,1071.9 L441.3,1074.8 L442.7,1077.5 L444.1,1080.2 L445.5,1082.8 L446.9,1085.2 L448.2,1087.5 L449.6,1089.6 L451.0,1091.7 L452.4,1093.6 L453.8,1095.5 L455.2,1097.3 L456.5,1099.0 L457.9,1100.7 L459.3,1102.3 L460.7,1103.9 L462.1,1105.3 L463.5,1106.8 L464.9,1108.1 L466.2,1109.4 L467.6,1110.6 L469.0,1111.7 L470.4,1112.8 L471.8,1113.8 L473.2,1114.7 L474.5,1115.6 L475.9,1116.3 L477.3,1117.1 L478.7,1117.8 L480.1,1118.4 L481.5,1119.0 L482.8,1119.6 L484.2,1120.1 L485.6,1120.5 L487.0,1120.9 L488.4,1121.3 L489.8,1121.5 L491.2,1121.7 L492.5,1121.8 L493.9,1121.7 L495.2,1121.5 L496.6,1121.2 L497.9,1121.0 L499.3,1120.8 L500.7,1120.6 L502.2,1120.6 L503.8,1120.7 L505.4,1121.0 L507.0,1121.2 L508.7,1121.6 L510.4,1121.9 L512.1,1122.3 L513.8,1122.6 L515.5,1122.8 L517.3,1123.0 L519.1,1123.2 L521.1,1123.4 L523.0,1123.6 L524.8,1123.7 L526.4,1123.8 L527.8,1123.9 L528.8,1124.0 L538.5,1124.0 Z" fill="#f29b30" fill-opacity="0.56"/>
<path d="M287.4,1124.0 L290.4,1123.4 L294.5,1122.7 L299.4,1121.9 L304.8,1120.9 L310.4,1119.9 L315.8,1118.7 L320.8,1117.5 L325.0,1116.2 L328.6,1114.8 L331.9,1113.4 L335.0,1112.0 L337.8,1110.4 L340.4,1108.8 L342.8,1107.0 L345.1,1105.0 L347.2,1102.9 L349.1,1100.5 L350.8,1098.0 L352.3,1095.2 L353.7,1092.4 L354.9,1089.4 L356.1,1086.5 L357.2,1083.6 L358.3,1080.7 L359.3,1077.9 L360.3,1075.1 L361.1,1072.2 L361.9,1069.4 L362.7,1066.6 L363.4,1063.8 L364.2,1061.2 L364.9,1058.6 L365.6,1056.2 L366.3,1054.0 L367.0,1051.9 L367.7,1049.9 L368.3,1047.8 L369.0,1045.7 L369.7,1043.4 L370.4,1040.9" fill="none" stroke="#231f20" stroke-width="2.2" stroke-opacity="0.72" stroke-linejoin="round" stroke-linecap="butt"/>
<path d="M370.4,1040.9 L371.2,1038.1 L372.1,1035.0 L372.9,1031.7 L373.8,1028.4 L374.6,1025.1 L375.5,1022.0 L376.3,1019.1 L377.1,1016.5 L377.8,1014.3 L378.5,1012.2 L379.1,1010.4 L379.7,1008.7 L380.4,1007.2 L381.0,1005.7 L381.8,1004.4 L382.6,1003.2 L383.6,1002.1 L384.6,1001.0 L385.6,1000.1 L386.7,999.3 L387.9,998.6 L389.0,998.1 L390.2,997.8 L391.5,997.7 L392.8,997.8 L394.1,998.2 L395.5,998.7 L396.9,999.4 L398.3,1000.3 L399.7,1001.2 L401.2,1002.2 L402.6,1003.2 L403.9,1004.3 L405.3,1005.3 L406.7,1006.5 L408.1,1007.7 L409.5,1009.1 L410.9,1010.6 L412.2,1012.3 L413.6,1014.3 L415.0,1016.5 L416.4,1019.0 L417.8,1021.6 L419.2,1024.4 L420.6,1027.3 L421.9,1030.3 L423.3,1033.4 L424.7,1036.4 L426.1,1039.6 L427.5,1042.9 L428.9,1046.3 L430.2,1049.7 L431.6,1053.2 L433.0,1056.6 L434.4,1059.9 L435.8,1063.0 L437.2,1066.0 L438.5,1069.0 L439.9,1071.9 L441.3,1074.8 L442.7,1077.5 L444.1,1080.2 L445.5,1082.8 L446.9,1085.2 L448.2,1087.5 L449.6,1089.6 L451.0,1091.7 L452.4,1093.6 L453.8,1095.5 L455.2,1097.3 L456.5,1099.0 L457.9,1100.7 L459.3,1102.3 L460.7,1103.9 L462.1,1105.3 L463.5,1106.8 L464.9,1108.1 L466.2,1109.4 L467.6,1110.6 L469.0,1111.7 L470.4,1112.8 L471.8,1113.8 L473.2,1114.7 L474.5,1115.6 L475.9,1116.3 L477.3,1117.1 L478.7,1117.8 L480.1,1118.4 L481.5,1119.0 L482.8,1119.6 L484.2,1120.1 L485.6,1120.5 L487.0,1120.9 L488.4,1121.3 L489.8,1121.5 L491.2,1121.7 L492.5,1121.8 L493.9,1121.7 L495.2,1121.5 L496.6,1121.2 L497.9,1121.0 L499.3,1120.8 L500.7,1120.6 L502.2,1120.6 L503.8,1120.7 L505.4,1121.0 L507.0,1121.2 L508.7,1121.6 L510.4,1121.9 L512.1,1122.3 L513.8,1122.6 L515.5,1122.8 L517.3,1123.0 L519.1,1123.2 L521.1,1123.4 L523.0,1123.6 L524.8,1123.7 L526.4,1123.8 L527.8,1123.9 L528.8,1124.0" fill="none" stroke="#231f20" stroke-width="2.1" stroke-linejoin="round" stroke-linecap="round"/>
<path d="M216.5,1124.0 L216.5,1124.0 L218.1,1123.7 L220.1,1123.2 L222.6,1122.7 L225.4,1122.2 L228.3,1121.5 L231.1,1120.9 L233.9,1120.2 L236.4,1119.5 L238.8,1118.8 L241.1,1118.0 L243.4,1117.1 L245.6,1116.2 L247.8,1115.4 L249.9,1114.5 L252.1,1113.6 L254.2,1112.9 L256.2,1112.1 L258.3,1111.5 L260.3,1110.9 L262.3,1110.3 L264.3,1109.7 L266.2,1109.0 L268.0,1108.2 L269.7,1107.3 L271.3,1106.3 L272.7,1105.2 L274.1,1104.1 L275.5,1102.9 L276.8,1101.6 L278.1,1100.3 L279.4,1098.8 L280.7,1097.4 L282.1,1095.7 L283.5,1093.9 L284.9,1091.9 L286.3,1089.9 L287.7,1087.9 L289.0,1086.1 L290.4,1084.4 L291.8,1083.0 L293.2,1081.8 L294.5,1080.7 L295.9,1079.8 L297.2,1079.0 L298.6,1078.3 L300.0,1077.7 L301.4,1077.2 L302.9,1076.8 L304.5,1076.5 L306.2,1076.3 L307.9,1076.3 L309.7,1076.4 L311.4,1076.5 L313.1,1076.6 L314.7,1076.5 L316.2,1076.3 L317.5,1076.0 L318.7,1075.6 L319.8,1075.2 L320.9,1074.8 L321.9,1074.2 L322.9,1073.6 L324.0,1072.8 L325.0,1071.9 L326.1,1070.8 L327.3,1069.6 L328.4,1068.3 L329.5,1066.9 L330.6,1065.4 L331.7,1063.9 L332.8,1062.3 L333.9,1060.8 L335.0,1059.2 L336.1,1057.5 L337.1,1055.7 L338.2,1053.9 L339.3,1052.1 L340.4,1050.4 L341.5,1048.9 L342.8,1047.5 L344.0,1046.3 L345.4,1045.3 L346.7,1044.3 L348.2,1043.5 L349.6,1042.7 L351.0,1042.0 L352.4,1041.4 L353.8,1040.9 L355.2,1040.4 L356.6,1040.0 L358.0,1039.6 L359.4,1039.4 L360.8,1039.2 L362.1,1039.1 L363.5,1039.2 L364.9,1039.3 L366.3,1039.6 L367.7,1040.0 L369.1,1040.5 L370.4,1041.1 L371.8,1041.8 L373.2,1042.5 L374.6,1043.4 L376.0,1044.2 L377.4,1045.1 L378.7,1046.2 L380.1,1047.3 L381.5,1048.4 L382.9,1049.6 L384.3,1050.8 L385.7,1052.0 L387.1,1053.1 L388.4,1054.1 L389.8,1055.0 L391.2,1056.0 L392.6,1056.9 L394.0,1057.9 L395.4,1058.8 L396.7,1059.8 L398.1,1060.8 L399.5,1061.8 L400.9,1062.8 L402.3,1063.8 L403.7,1064.8 L405.0,1065.8 L406.4,1067.0 L407.8,1068.2 L409.2,1069.7 L410.6,1071.3 L412.0,1073.0 L413.4,1074.9 L414.7,1076.9 L416.1,1078.9 L417.5,1081.0 L418.9,1083.1 L420.3,1085.2 L421.7,1087.3 L423.0,1089.6 L424.4,1091.9 L425.8,1094.3 L427.2,1096.6 L428.6,1098.9 L430.0,1101.0 L431.4,1102.9 L432.7,1104.6 L434.0,1106.3 L435.3,1107.9 L436.6,1109.3 L437.9,1110.7 L439.3,1111.9 L440.8,1113.0 L442.4,1114.0 L444.1,1114.8 L445.9,1115.3 L447.8,1115.8 L449.8,1116.1 L451.8,1116.4 L453.8,1116.6 L455.9,1116.9 L457.9,1117.3 L460.1,1117.7 L462.3,1118.1 L464.5,1118.6 L466.8,1119.0 L469.1,1119.4 L471.3,1119.9 L473.5,1120.2 L475.6,1120.6 L477.7,1121.0 L479.8,1121.3 L481.8,1121.7 L483.8,1122.1 L485.8,1122.4 L487.6,1122.6 L489.4,1122.8 L491.2,1122.8 L492.7,1122.7 L494.2,1122.5 L495.6,1122.1 L497.0,1121.7 L498.3,1121.3 L499.6,1121.0 L500.9,1120.7 L502.2,1120.6 L503.6,1120.7 L505.0,1120.9 L506.4,1121.2 L507.8,1121.5 L509.1,1121.9 L510.5,1122.2 L511.9,1122.6 L513.3,1122.8 L514.8,1123.0 L516.3,1123.2 L517.9,1123.4 L519.5,1123.6 L521.0,1123.7 L522.4,1123.8 L523.5,1123.9 L524.4,1124.0 L538.5,1124.0 Z" fill="#d9462b" fill-opacity="0.62"/>
<path d="M216.5,1124.0 L218.1,1123.7 L220.1,1123.2 L222.6,1122.7 L225.4,1122.2 L228.3,1121.5 L231.1,1120.9 L233.9,1120.2 L236.4,1119.5 L238.8,1118.8 L241.1,1118.0 L243.4,1117.1 L245.6,1116.2 L247.8,1115.4 L249.9,1114.5 L252.1,1113.6 L254.2,1112.9 L256.2,1112.1 L258.3,1111.5 L260.3,1110.9 L262.3,1110.3 L264.3,1109.7 L266.2,1109.0 L268.0,1108.2 L269.7,1107.3 L271.3,1106.3 L272.7,1105.2 L274.1,1104.1 L275.5,1102.9 L276.8,1101.6 L278.1,1100.3 L279.4,1098.8 L280.7,1097.4 L282.1,1095.7 L283.5,1093.9 L284.9,1091.9 L286.3,1089.9 L287.7,1087.9 L289.0,1086.1 L290.4,1084.4 L291.8,1083.0 L293.2,1081.8 L294.5,1080.7 L295.9,1079.8 L297.2,1079.0 L298.6,1078.3 L300.0,1077.7 L301.4,1077.2 L302.9,1076.8 L304.5,1076.5 L306.2,1076.3 L307.9,1076.3 L309.7,1076.4 L311.4,1076.5 L313.1,1076.6 L314.7,1076.5 L316.2,1076.3 L317.5,1076.0 L318.7,1075.6 L319.8,1075.2 L320.9,1074.8 L321.9,1074.2 L322.9,1073.6 L324.0,1072.8 L325.0,1071.9 L326.1,1070.8 L327.3,1069.6 L328.4,1068.3 L329.5,1066.9 L330.6,1065.4 L331.7,1063.9 L332.8,1062.3 L333.9,1060.8 L335.0,1059.2 L336.1,1057.5 L337.1,1055.7 L338.2,1053.9 L339.3,1052.1 L340.4,1050.4 L341.5,1048.9 L342.8,1047.5 L344.0,1046.3 L345.4,1045.3 L346.7,1044.3 L348.2,1043.5 L349.6,1042.7 L351.0,1042.0 L352.4,1041.4 L353.8,1040.9 L355.2,1040.4 L356.6,1040.0 L358.0,1039.6 L359.4,1039.4 L360.8,1039.2 L362.1,1039.1 L363.5,1039.2 L364.9,1039.3 L366.3,1039.6 L367.7,1040.0 L369.1,1040.5 L370.4,1041.1 L371.8,1041.8 L373.2,1042.5 L374.6,1043.4 L376.0,1044.2 L377.4,1045.1 L378.7,1046.2 L380.1,1047.3 L381.5,1048.4 L382.9,1049.6 L384.3,1050.8 L385.7,1052.0 L387.1,1053.1 L388.4,1054.1 L389.8,1055.0 L391.2,1056.0 L392.6,1056.9 L394.0,1057.9 L395.4,1058.8 L396.7,1059.8 L398.1,1060.8 L399.5,1061.8 L400.9,1062.8 L402.3,1063.8 L403.7,1064.8 L405.0,1065.8 L406.4,1067.0 L407.8,1068.2 L409.2,1069.7 L410.6,1071.3 L412.0,1073.0 L413.4,1074.9 L414.7,1076.9 L416.1,1078.9 L417.5,1081.0 L418.9,1083.1 L420.3,1085.2 L421.7,1087.3 L423.0,1089.6 L424.4,1091.9 L425.8,1094.3 L427.2,1096.6 L428.6,1098.9 L430.0,1101.0 L431.4,1102.9 L432.7,1104.6 L434.0,1106.3 L435.3,1107.9 L436.6,1109.3 L437.9,1110.7 L439.3,1111.9 L440.8,1113.0 L442.4,1114.0 L444.1,1114.8 L445.9,1115.3 L447.8,1115.8 L449.8,1116.1 L451.8,1116.4 L453.8,1116.6 L455.9,1116.9 L457.9,1117.3 L460.1,1117.7 L462.3,1118.1 L464.5,1118.6 L466.8,1119.0 L469.1,1119.4 L471.3,1119.9 L473.5,1120.2 L475.6,1120.6 L477.7,1121.0 L479.8,1121.3 L481.8,1121.7 L483.8,1122.1 L485.8,1122.4 L487.6,1122.6 L489.4,1122.8 L491.2,1122.8 L492.7,1122.7 L494.2,1122.5 L495.6,1122.1 L497.0,1121.7 L498.3,1121.3 L499.6,1121.0 L500.9,1120.7 L502.2,1120.6 L503.6,1120.7 L505.0,1120.9 L506.4,1121.2 L507.8,1121.5 L509.1,1121.9 L510.5,1122.2 L511.9,1122.6 L513.3,1122.8 L514.8,1123.0 L516.3,1123.2 L517.9,1123.4 L519.5,1123.6 L521.0,1123.7 L522.4,1123.8 L523.5,1123.9 L524.4,1124.0" fill="none" stroke="#231f20" stroke-width="2.1" stroke-linejoin="round" stroke-linecap="round"/>
<line x1="216.5" y1="1123.8" x2="538.5" y2="1123.8" stroke="#231f20" stroke-width="3.0"/>
<path d="M173.5,869.6 C180,867.5 190,867.5 200,868.8 C212,868.2 222,867 232,868.2 C238,868.8 242,869.3 245.5,869.6 Z" fill="#54585a" stroke="#231f20" stroke-width="1.8" fill-opacity="0.6"/>
<line x1="409.2" y1="755.2" x2="409.2" y2="1162.0" stroke="#77797c" stroke-width="1.9" stroke-dasharray="13.4 13.45" stroke-opacity="0.8"/>
<line x1="173.5" y1="815.0" x2="173.5" y2="1162.6" stroke="#231f20" stroke-width="1.3"/>
<line x1="172.9" y1="1162.0" x2="645.5" y2="1162.0" stroke="#231f20" stroke-width="1.3"/>
<line x1="166.5" y1="869.6" x2="173.5" y2="869.6" stroke="#231f20" stroke-width="1.3"/>
<text x="153.6" y="878.2" font-size="25" text-anchor="end" fill="#231f20">&gt;90th</text>
<line x1="166.5" y1="933.3" x2="173.5" y2="933.3" stroke="#231f20" stroke-width="1.3"/>
<text x="153.6" y="941.9" font-size="25" text-anchor="end" fill="#231f20">60th–90th</text>
<line x1="166.5" y1="996.8" x2="173.5" y2="996.8" stroke="#231f20" stroke-width="1.3"/>
<text x="153.6" y="1005.4" font-size="25" text-anchor="end" fill="#231f20">30th–60th</text>
<line x1="166.5" y1="1060.3" x2="173.5" y2="1060.3" stroke="#231f20" stroke-width="1.3"/>
<text x="153.6" y="1068.9" font-size="25" text-anchor="end" fill="#231f20">10th–30th</text>
<line x1="166.5" y1="1124.0" x2="173.5" y2="1124.0" stroke="#231f20" stroke-width="1.3"/>
<text x="153.6" y="1132.6" font-size="25" text-anchor="end" fill="#231f20">&lt;10th</text>
<line x1="194.4" y1="1162.0" x2="194.4" y2="1169.0" stroke="#231f20" stroke-width="1.3"/>
<text x="194.4" y="1201.6" font-size="24.6" text-anchor="middle" fill="#231f20">–1.0</text>
<line x1="301.8" y1="1162.0" x2="301.8" y2="1169.0" stroke="#231f20" stroke-width="1.3"/>
<text x="301.8" y="1201.6" font-size="24.6" text-anchor="middle" fill="#231f20">–0.5</text>
<line x1="409.2" y1="1162.0" x2="409.2" y2="1169.0" stroke="#231f20" stroke-width="1.3"/>
<text x="409.2" y="1201.6" font-size="24.6" text-anchor="middle" fill="#231f20">0</text>
<line x1="516.6" y1="1162.0" x2="516.6" y2="1169.0" stroke="#231f20" stroke-width="1.3"/>
<text x="516.6" y="1201.6" font-size="24.6" text-anchor="middle" fill="#231f20">0.5</text>
<line x1="624.0" y1="1162.0" x2="624.0" y2="1169.0" stroke="#231f20" stroke-width="1.3"/>
<text x="624.0" y="1201.6" font-size="24.6" text-anchor="middle" fill="#231f20">1.0</text>
<text x="409.5" y="1240.6" font-size="25" text-anchor="middle" fill="#231f20" textLength="295.0" lengthAdjust="spacingAndGlyphs"><tspan>log</tspan><tspan dy="8" font-size="18.0">2</tspan><tspan dy="-8">(nucleus to cytoplasm)</tspan></text>
<text transform="translate(20.5,987.6) rotate(-90)" font-size="25" text-anchor="middle" textLength="252.6" lengthAdjust="spacingAndGlyphs" fill="#231f20">Multivalency percentile</text>
<line x1="667.0" y1="1162.0" x2="982.0" y2="1162.0" stroke="#231f20" stroke-width="1.3"/>
<line x1="709.8" y1="1162.0" x2="709.8" y2="1169.0" stroke="#231f20" stroke-width="1.3"/>
<text x="709.8" y="1201.6" font-size="24.6" text-anchor="middle" fill="#231f20">–0.2</text>
<line x1="812.0" y1="1162.0" x2="812.0" y2="1169.0" stroke="#231f20" stroke-width="1.3"/>
<text x="812.0" y="1201.6" font-size="24.6" text-anchor="middle" fill="#231f20">0</text>
<line x1="914.1" y1="1162.0" x2="914.1" y2="1169.0" stroke="#231f20" stroke-width="1.3"/>
<text x="914.1" y="1201.6" font-size="24.6" text-anchor="middle" fill="#231f20">0.2</text>
<text x="824.5" y="1240.6" font-size="25" text-anchor="middle" fill="#231f20" textLength="295.0" lengthAdjust="spacingAndGlyphs"><tspan>log</tspan><tspan dy="8" font-size="18.0">2</tspan><tspan dy="-8">(nucleus to cytoplasm)</tspan></text>
<circle cx="843.8" cy="865.4" r="10.4" fill="#54585a" stroke="#231f20" stroke-width="1.9"/>
<circle cx="843.8" cy="854.3" r="10.4" fill="#54585a" stroke="#231f20" stroke-width="1.9"/>
<circle cx="856.7" cy="843.2" r="10.4" fill="#54585a" stroke="#231f20" stroke-width="1.9"/>
<circle cx="881.7" cy="865.4" r="10.4" fill="#f09a2b" stroke="#231f20" stroke-width="1.9"/>
<circle cx="861.0" cy="854.3" r="10.4" fill="#f09a2b" stroke="#231f20" stroke-width="1.9"/>
<circle cx="873.4" cy="843.2" r="10.4" fill="#f09a2b" stroke="#231f20" stroke-width="1.9"/>
<circle cx="945.9" cy="865.4" r="10.4" fill="#d81f3b" stroke="#231f20" stroke-width="1.9"/>
<circle cx="944.8" cy="854.3" r="10.4" fill="#d81f3b" stroke="#231f20" stroke-width="1.9"/>
<circle cx="967.9" cy="843.2" r="10.4" fill="#d81f3b" stroke="#231f20" stroke-width="1.9"/>
<circle cx="846.2" cy="932.8" r="10.4" fill="#54585a" stroke="#231f20" stroke-width="1.9"/>
<circle cx="849.0" cy="921.7" r="10.4" fill="#54585a" stroke="#231f20" stroke-width="1.9"/>
<circle cx="855.8" cy="909.7" r="10.4" fill="#54585a" stroke="#231f20" stroke-width="1.9"/>
<circle cx="867.8" cy="932.8" r="10.4" fill="#f09a2b" stroke="#231f20" stroke-width="1.9"/>
<circle cx="859.1" cy="921.7" r="10.4" fill="#f09a2b" stroke="#231f20" stroke-width="1.9"/>
<circle cx="849.4" cy="909.7" r="10.4" fill="#f09a2b" stroke="#231f20" stroke-width="1.9"/>
<circle cx="882.0" cy="932.8" r="10.4" fill="#d81f3b" stroke="#231f20" stroke-width="1.9"/>
<circle cx="880.2" cy="921.7" r="10.4" fill="#d81f3b" stroke="#231f20" stroke-width="1.9"/>
<circle cx="887.2" cy="909.7" r="10.4" fill="#d81f3b" stroke="#231f20" stroke-width="1.9"/>
<circle cx="830.0" cy="1000.6" r="10.4" fill="#54585a" stroke="#231f20" stroke-width="1.9"/>
<circle cx="846.0" cy="988.1" r="10.4" fill="#54585a" stroke="#231f20" stroke-width="1.9"/>
<circle cx="819.8" cy="976.2" r="10.4" fill="#54585a" stroke="#231f20" stroke-width="1.9"/>
<circle cx="840.7" cy="999.7" r="10.4" fill="#f09a2b" stroke="#231f20" stroke-width="1.9"/>
<circle cx="829.0" cy="988.6" r="10.4" fill="#f09a2b" stroke="#231f20" stroke-width="1.9"/>
<circle cx="822.2" cy="976.2" r="10.4" fill="#f09a2b" stroke="#231f20" stroke-width="1.9"/>
<circle cx="817.1" cy="999.7" r="10.4" fill="#d81f3b" stroke="#231f20" stroke-width="1.9"/>
<circle cx="809.7" cy="988.6" r="10.4" fill="#d81f3b" stroke="#231f20" stroke-width="1.9"/>
<circle cx="798.6" cy="977.0" r="10.4" fill="#d81f3b" stroke="#231f20" stroke-width="1.9"/>
<circle cx="863.8" cy="1066.5" r="10.4" fill="#54585a" stroke="#231f20" stroke-width="1.9"/>
<circle cx="834.6" cy="1055.1" r="10.4" fill="#54585a" stroke="#231f20" stroke-width="1.9"/>
<circle cx="833.7" cy="1044.0" r="10.4" fill="#54585a" stroke="#231f20" stroke-width="1.9"/>
<circle cx="831.3" cy="1066.5" r="10.4" fill="#f09a2b" stroke="#231f20" stroke-width="1.9"/>
<circle cx="831.3" cy="1055.1" r="10.4" fill="#f09a2b" stroke="#231f20" stroke-width="1.9"/>
<circle cx="807.8" cy="1044.0" r="10.4" fill="#f09a2b" stroke="#231f20" stroke-width="1.9"/>
<circle cx="769.1" cy="1066.5" r="10.4" fill="#d81f3b" stroke="#231f20" stroke-width="1.9"/>
<circle cx="752.1" cy="1055.1" r="10.4" fill="#d81f3b" stroke="#231f20" stroke-width="1.9"/>
<circle cx="749.7" cy="1044.0" r="10.4" fill="#d81f3b" stroke="#231f20" stroke-width="1.9"/>
<circle cx="809.1" cy="1133.5" r="10.4" fill="#54585a" stroke="#231f20" stroke-width="1.9"/>
<circle cx="823.9" cy="1122.4" r="10.4" fill="#54585a" stroke="#231f20" stroke-width="1.9"/>
<circle cx="823.9" cy="1111.0" r="10.4" fill="#54585a" stroke="#231f20" stroke-width="1.9"/>
<circle cx="810.2" cy="1133.5" r="10.4" fill="#f09a2b" stroke="#231f20" stroke-width="1.9"/>
<circle cx="790.3" cy="1122.4" r="10.4" fill="#f09a2b" stroke="#231f20" stroke-width="1.9"/>
<circle cx="791.2" cy="1111.0" r="10.4" fill="#f09a2b" stroke="#231f20" stroke-width="1.9"/>
<circle cx="713.1" cy="1133.5" r="10.4" fill="#d81f3b" stroke="#231f20" stroke-width="1.9"/>
<circle cx="702.1" cy="1122.1" r="10.4" fill="#d81f3b" stroke="#231f20" stroke-width="1.9"/>
<circle cx="681.4" cy="1111.0" r="10.4" fill="#d81f3b" stroke="#231f20" stroke-width="1.9"/>
<line x1="812.0" y1="755.1" x2="812.0" y2="1162.0" stroke="#77797c" stroke-width="1.9" stroke-dasharray="13.2 13.1" stroke-opacity="0.8"/>
<text x="993.0" y="864.2" font-size="28" textLength="22.5" lengthAdjust="spacingAndGlyphs" fill="#f09a2b">**</text>
<text x="993.0" y="882.6" font-size="28" textLength="22.5" lengthAdjust="spacingAndGlyphs" fill="#54585a">**</text>
<text x="993.0" y="928.8" font-size="28" textLength="22.5" lengthAdjust="spacingAndGlyphs" fill="#f09a2b">**</text>
<text x="993.0" y="944.5" font-size="28" textLength="22.5" lengthAdjust="spacingAndGlyphs" fill="#54585a">**</text>
<text x="992.5" y="983.0" font-size="25" textLength="33.0" lengthAdjust="spacingAndGlyphs" fill="#f09a2b">NS</text>
<text x="992.5" y="1007.2" font-size="25" textLength="33.0" lengthAdjust="spacingAndGlyphs" fill="#54585a">NS</text>
<text x="993.0" y="1063.1" font-size="28" textLength="22.5" lengthAdjust="spacingAndGlyphs" fill="#f09a2b">**</text>
<text x="993.0" y="1080.6" font-size="28" textLength="22.5" lengthAdjust="spacingAndGlyphs" fill="#54585a">**</text>
<text x="993.0" y="1124.0" font-size="28" textLength="22.5" lengthAdjust="spacingAndGlyphs" fill="#f09a2b">**</text>
<text x="993.0" y="1141.6" font-size="28" textLength="22.5" lengthAdjust="spacingAndGlyphs" fill="#54585a">**</text>
</g>
<g id="p_h">
<text x="1072.5" y="708.0" font-size="30" font-weight="bold" textLength="20.0" lengthAdjust="spacingAndGlyphs" fill="#231f20" stroke="#231f20" stroke-width="0.9">h</text>
<circle cx="1194.4" cy="708.9" r="10.0" fill="#c3bcdb" stroke="#231f20" stroke-width="1.9"/>
<text x="1215.3" y="717.6" font-size="25" textLength="117.0" lengthAdjust="spacingAndGlyphs" fill="#231f20">1–4 exons</text>
<circle cx="1399.7" cy="708.9" r="10.0" fill="#9b9cb8" stroke="#231f20" stroke-width="1.9"/>
<text x="1423.4" y="717.6" font-size="25" textLength="117.0" lengthAdjust="spacingAndGlyphs" fill="#231f20">5–6 exons</text>
<circle cx="1606.0" cy="708.9" r="10.0" fill="#636b7c" stroke="#231f20" stroke-width="1.9"/>
<text x="1626.4" y="717.6" font-size="25" fill="#231f20" textLength="100" lengthAdjust="spacingAndGlyphs">7<tspan dy="-9" font-size="18">+</tspan><tspan dy="9"> exons</tspan></text>
<text x="1326.0" y="763.8" font-size="25" text-anchor="middle" textLength="191.0" lengthAdjust="spacingAndGlyphs" fill="#231f20">Low multivalency</text>
<text x="1627.6" y="763.8" font-size="25" text-anchor="middle" textLength="196.5" lengthAdjust="spacingAndGlyphs" fill="#231f20">High multivalency</text>
<line x1="1183.0" y1="780.0" x2="1183.0" y2="1167.0" stroke="#231f20" stroke-width="1.3"/>
<line x1="1182.4" y1="1166.4" x2="1469.5" y2="1166.4" stroke="#231f20" stroke-width="1.3"/>
<line x1="1484.0" y1="1166.4" x2="1771.5" y2="1166.4" stroke="#231f20" stroke-width="1.3"/>
<line x1="1176.0" y1="787.8" x2="1183.0" y2="787.8" stroke="#231f20" stroke-width="1.3"/>
<text x="1165.5" y="796.6" font-size="24.6" text-anchor="end" fill="#231f20">0.3</text>
<line x1="1176.0" y1="859.5" x2="1183.0" y2="859.5" stroke="#231f20" stroke-width="1.3"/>
<text x="1165.5" y="868.3" font-size="24.6" text-anchor="end" fill="#231f20">0.2</text>
<line x1="1176.0" y1="931.3" x2="1183.0" y2="931.3" stroke="#231f20" stroke-width="1.3"/>
<text x="1165.5" y="940.1" font-size="24.6" text-anchor="end" fill="#231f20">0.1</text>
<line x1="1176.0" y1="1003.3" x2="1183.0" y2="1003.3" stroke="#231f20" stroke-width="1.3"/>
<text x="1165.5" y="1012.1" font-size="24.6" text-anchor="end" fill="#231f20">0</text>
<line x1="1176.0" y1="1074.8" x2="1183.0" y2="1074.8" stroke="#231f20" stroke-width="1.3"/>
<text x="1165.5" y="1083.6" font-size="24.6" text-anchor="end" fill="#231f20">–0.1</text>
<line x1="1176.0" y1="1146.5" x2="1183.0" y2="1146.5" stroke="#231f20" stroke-width="1.3"/>
<text x="1165.5" y="1155.3" font-size="24.6" text-anchor="end" fill="#231f20">–0.2</text>
<line x1="1236.2" y1="1166.4" x2="1236.2" y2="1173.4" stroke="#231f20" stroke-width="1.3"/>
<text x="1236.2" y="1206.0" font-size="24.6" text-anchor="middle" fill="#231f20">4</text>
<line x1="1326.0" y1="1166.4" x2="1326.0" y2="1173.4" stroke="#231f20" stroke-width="1.3"/>
<text x="1326.0" y="1206.0" font-size="24.6" text-anchor="middle" fill="#231f20">8</text>
<line x1="1415.3" y1="1166.4" x2="1415.3" y2="1173.4" stroke="#231f20" stroke-width="1.3"/>
<text x="1415.3" y="1206.0" font-size="24.6" text-anchor="middle" fill="#231f20">12</text>
<line x1="1538.0" y1="1166.4" x2="1538.0" y2="1173.4" stroke="#231f20" stroke-width="1.3"/>
<text x="1538.0" y="1206.0" font-size="24.6" text-anchor="middle" fill="#231f20">4</text>
<line x1="1627.4" y1="1166.4" x2="1627.4" y2="1173.4" stroke="#231f20" stroke-width="1.3"/>
<text x="1627.4" y="1206.0" font-size="24.6" text-anchor="middle" fill="#231f20">8</text>
<line x1="1716.8" y1="1166.4" x2="1716.8" y2="1173.4" stroke="#231f20" stroke-width="1.3"/>
<text x="1716.8" y="1206.0" font-size="24.6" text-anchor="middle" fill="#231f20">12</text>
<text x="1453.5" y="1242.0" font-size="25" text-anchor="middle" textLength="212.0" lengthAdjust="spacingAndGlyphs" fill="#231f20">Expression time (h)</text>
<text transform="translate(1093,972) rotate(-90)" font-size="25" text-anchor="middle" fill="#231f20" textLength="307" lengthAdjust="spacingAndGlyphs">log<tspan dy="8" font-size="18">2</tspan><tspan dy="-8"> (nucleus to cytoplasm)</tspan></text>
<circle cx="1200.1" cy="942.2" r="9.7" fill="#c3bcdb" stroke="#231f20" stroke-width="1.9"/>
<circle cx="1209.6" cy="937.5" r="9.7" fill="#c3bcdb" stroke="#231f20" stroke-width="1.9"/>
<circle cx="1218.2" cy="977.4" r="9.7" fill="#c3bcdb" stroke="#231f20" stroke-width="1.9"/>
<circle cx="1227.2" cy="963.1" r="9.7" fill="#9b9cb8" stroke="#231f20" stroke-width="1.9"/>
<circle cx="1236.2" cy="971.2" r="9.7" fill="#9b9cb8" stroke="#231f20" stroke-width="1.9"/>
<circle cx="1245.3" cy="983.5" r="9.7" fill="#9b9cb8" stroke="#231f20" stroke-width="1.9"/>
<circle cx="1253.8" cy="981.6" r="9.7" fill="#636b7c" stroke="#231f20" stroke-width="1.9"/>
<circle cx="1262.9" cy="994.9" r="9.7" fill="#636b7c" stroke="#231f20" stroke-width="1.9"/>
<circle cx="1272.4" cy="993.0" r="9.7" fill="#636b7c" stroke="#231f20" stroke-width="1.9"/>
<circle cx="1289.9" cy="946.0" r="9.7" fill="#c3bcdb" stroke="#231f20" stroke-width="1.9"/>
<circle cx="1299.0" cy="972.6" r="9.7" fill="#c3bcdb" stroke="#231f20" stroke-width="1.9"/>
<circle cx="1308.0" cy="988.3" r="9.7" fill="#c3bcdb" stroke="#231f20" stroke-width="1.9"/>
<circle cx="1317.0" cy="993.0" r="9.7" fill="#9b9cb8" stroke="#231f20" stroke-width="1.9"/>
<circle cx="1326.0" cy="994.0" r="9.7" fill="#9b9cb8" stroke="#231f20" stroke-width="1.9"/>
<circle cx="1334.6" cy="1010.1" r="9.7" fill="#9b9cb8" stroke="#231f20" stroke-width="1.9"/>
<circle cx="1343.6" cy="1009.2" r="9.7" fill="#636b7c" stroke="#231f20" stroke-width="1.9"/>
<circle cx="1353.1" cy="994.5" r="9.7" fill="#636b7c" stroke="#231f20" stroke-width="1.9"/>
<circle cx="1362.1" cy="1037.2" r="9.7" fill="#636b7c" stroke="#231f20" stroke-width="1.9"/>
<circle cx="1379.7" cy="1012.5" r="9.7" fill="#c3bcdb" stroke="#231f20" stroke-width="1.9"/>
<circle cx="1388.7" cy="1051.0" r="9.7" fill="#c3bcdb" stroke="#231f20" stroke-width="1.9"/>
<circle cx="1397.8" cy="1061.0" r="9.7" fill="#c3bcdb" stroke="#231f20" stroke-width="1.9"/>
<circle cx="1406.8" cy="1070.5" r="9.7" fill="#9b9cb8" stroke="#231f20" stroke-width="1.9"/>
<circle cx="1415.8" cy="1071.9" r="9.7" fill="#9b9cb8" stroke="#231f20" stroke-width="1.9"/>
<circle cx="1424.8" cy="1091.9" r="9.7" fill="#9b9cb8" stroke="#231f20" stroke-width="1.9"/>
<circle cx="1433.9" cy="1125.1" r="9.7" fill="#636b7c" stroke="#231f20" stroke-width="1.9"/>
<circle cx="1442.4" cy="1142.2" r="9.7" fill="#636b7c" stroke="#231f20" stroke-width="1.9"/>
<circle cx="1451.4" cy="1149.8" r="9.7" fill="#636b7c" stroke="#231f20" stroke-width="1.9"/>
<circle cx="1501.8" cy="913.5" r="9.7" fill="#c3bcdb" stroke="#231f20" stroke-width="1.9"/>
<circle cx="1510.9" cy="887.8" r="9.7" fill="#c3bcdb" stroke="#231f20" stroke-width="1.9"/>
<circle cx="1519.9" cy="925.3" r="9.7" fill="#c3bcdb" stroke="#231f20" stroke-width="1.9"/>
<circle cx="1528.9" cy="986.2" r="9.7" fill="#9b9cb8" stroke="#231f20" stroke-width="1.9"/>
<circle cx="1537.5" cy="980.5" r="9.7" fill="#9b9cb8" stroke="#231f20" stroke-width="1.9"/>
<circle cx="1546.1" cy="960.1" r="9.7" fill="#9b9cb8" stroke="#231f20" stroke-width="1.9"/>
<circle cx="1555.1" cy="990.0" r="9.7" fill="#636b7c" stroke="#231f20" stroke-width="1.9"/>
<circle cx="1564.6" cy="1018.1" r="9.7" fill="#636b7c" stroke="#231f20" stroke-width="1.9"/>
<circle cx="1573.6" cy="991.0" r="9.7" fill="#636b7c" stroke="#231f20" stroke-width="1.9"/>
<circle cx="1591.7" cy="844.5" r="9.7" fill="#c3bcdb" stroke="#231f20" stroke-width="1.9"/>
<circle cx="1600.8" cy="857.4" r="9.7" fill="#c3bcdb" stroke="#231f20" stroke-width="1.9"/>
<circle cx="1609.3" cy="885.4" r="9.7" fill="#c3bcdb" stroke="#231f20" stroke-width="1.9"/>
<circle cx="1618.3" cy="944.4" r="9.7" fill="#9b9cb8" stroke="#231f20" stroke-width="1.9"/>
<circle cx="1626.9" cy="978.1" r="9.7" fill="#9b9cb8" stroke="#231f20" stroke-width="1.9"/>
<circle cx="1635.9" cy="971.9" r="9.7" fill="#9b9cb8" stroke="#231f20" stroke-width="1.9"/>
<circle cx="1645.0" cy="1036.1" r="9.7" fill="#636b7c" stroke="#231f20" stroke-width="1.9"/>
<circle cx="1653.5" cy="1021.9" r="9.7" fill="#636b7c" stroke="#231f20" stroke-width="1.9"/>
<circle cx="1663.0" cy="1014.7" r="9.7" fill="#636b7c" stroke="#231f20" stroke-width="1.9"/>
<circle cx="1680.6" cy="812.7" r="9.7" fill="#c3bcdb" stroke="#231f20" stroke-width="1.9"/>
<circle cx="1689.7" cy="816.5" r="9.7" fill="#c3bcdb" stroke="#231f20" stroke-width="1.9"/>
<circle cx="1698.7" cy="797.0" r="9.7" fill="#c3bcdb" stroke="#231f20" stroke-width="1.9"/>
<circle cx="1707.7" cy="919.6" r="9.7" fill="#9b9cb8" stroke="#231f20" stroke-width="1.9"/>
<circle cx="1716.8" cy="932.5" r="9.7" fill="#9b9cb8" stroke="#231f20" stroke-width="1.9"/>
<circle cx="1725.8" cy="926.8" r="9.7" fill="#9b9cb8" stroke="#231f20" stroke-width="1.9"/>
<circle cx="1734.8" cy="1020.9" r="9.7" fill="#636b7c" stroke="#231f20" stroke-width="1.9"/>
<circle cx="1743.9" cy="1000.0" r="9.7" fill="#636b7c" stroke="#231f20" stroke-width="1.9"/>
<circle cx="1752.9" cy="991.0" r="9.7" fill="#636b7c" stroke="#231f20" stroke-width="1.9"/>
<line x1="1182.7" y1="1003.4" x2="1469.0" y2="1003.4" stroke="#77797c" stroke-width="2.0" stroke-dasharray="13.3 12.9" stroke-opacity="0.8"/>
<line x1="1484.0" y1="1003.4" x2="1760.5" y2="1003.4" stroke="#77797c" stroke-width="2.0" stroke-dasharray="13.3 12.9" stroke-opacity="0.8"/>
<text x="1237.2" y="812.5" font-size="25" text-anchor="middle" textLength="33.0" lengthAdjust="spacingAndGlyphs" fill="#636466">NS</text>
<line x1="1209.6" y1="819.2" x2="1259.5" y2="819.2" stroke="#636466" stroke-width="1.7"/>
<text x="1216.8" y="844.8" font-size="25" text-anchor="middle" textLength="33.0" lengthAdjust="spacingAndGlyphs" fill="#636466">NS</text>
<text x="1258.1" y="844.8" font-size="25" text-anchor="middle" textLength="33.0" lengthAdjust="spacingAndGlyphs" fill="#636466">NS</text>
<line x1="1209.6" y1="851.5" x2="1231.0" y2="851.5" stroke="#636466" stroke-width="1.7"/>
<line x1="1238.1" y1="851.5" x2="1259.5" y2="851.5" stroke="#636466" stroke-width="1.7"/>
<text x="1333.2" y="812.5" font-size="25" text-anchor="middle" textLength="33.0" lengthAdjust="spacingAndGlyphs" fill="#636466">NS</text>
<line x1="1302.3" y1="819.2" x2="1351.2" y2="819.2" stroke="#636466" stroke-width="1.7"/>
<text x="1307.0" y="844.8" font-size="25" text-anchor="middle" textLength="33.0" lengthAdjust="spacingAndGlyphs" fill="#636466">NS</text>
<text x="1347.4" y="844.8" font-size="25" text-anchor="middle" textLength="33.0" lengthAdjust="spacingAndGlyphs" fill="#636466">NS</text>
<line x1="1302.3" y1="851.5" x2="1322.7" y2="851.5" stroke="#636466" stroke-width="1.7"/>
<line x1="1330.8" y1="851.5" x2="1351.2" y2="851.5" stroke="#636466" stroke-width="1.7"/>
<text x="1414.9" y="819.8" font-size="28" text-anchor="middle" textLength="22.5" lengthAdjust="spacingAndGlyphs" fill="#636466">**</text>
<line x1="1390.2" y1="819.2" x2="1440.0" y2="819.2" stroke="#636466" stroke-width="1.7"/>
<text x="1397.3" y="844.8" font-size="25" text-anchor="middle" textLength="33.0" lengthAdjust="spacingAndGlyphs" fill="#636466">NS</text>
<text x="1429.1" y="852.1" font-size="28" text-anchor="middle" textLength="10.5" lengthAdjust="spacingAndGlyphs" fill="#636466">*</text>
<line x1="1390.2" y1="851.5" x2="1411.5" y2="851.5" stroke="#636466" stroke-width="1.7"/>
<line x1="1418.7" y1="851.5" x2="1440.0" y2="851.5" stroke="#636466" stroke-width="1.7"/>
<text x="1537.5" y="1108.6" font-size="28" text-anchor="middle" textLength="22.5" lengthAdjust="spacingAndGlyphs" fill="#636466">**</text>
<line x1="1512.3" y1="1107.5" x2="1562.2" y2="1107.5" stroke="#636466" stroke-width="1.7"/>
<text x="1522.8" y="1140.9" font-size="28" text-anchor="middle" textLength="10.5" lengthAdjust="spacingAndGlyphs" fill="#636466">*</text>
<text x="1553.7" y="1133.6" font-size="25" text-anchor="middle" textLength="33.0" lengthAdjust="spacingAndGlyphs" fill="#636466">NS</text>
<line x1="1512.3" y1="1139.8" x2="1532.8" y2="1139.8" stroke="#636466" stroke-width="1.7"/>
<line x1="1540.8" y1="1139.8" x2="1562.2" y2="1139.8" stroke="#636466" stroke-width="1.7"/>
<text x="1629.8" y="1108.6" font-size="28" text-anchor="middle" textLength="22.5" lengthAdjust="spacingAndGlyphs" fill="#636466">**</text>
<line x1="1604.1" y1="1107.5" x2="1654.0" y2="1107.5" stroke="#636466" stroke-width="1.7"/>
<text x="1615.5" y="1140.9" font-size="28" text-anchor="middle" textLength="22.5" lengthAdjust="spacingAndGlyphs" fill="#636466">**</text>
<text x="1642.1" y="1140.9" font-size="28" text-anchor="middle" textLength="10.5" lengthAdjust="spacingAndGlyphs" fill="#636466">*</text>
<line x1="1604.1" y1="1139.8" x2="1625.0" y2="1139.8" stroke="#636466" stroke-width="1.7"/>
<line x1="1632.6" y1="1139.8" x2="1654.0" y2="1139.8" stroke="#636466" stroke-width="1.7"/>
<text x="1718.2" y="1108.6" font-size="28" text-anchor="middle" textLength="22.5" lengthAdjust="spacingAndGlyphs" fill="#636466">**</text>
<line x1="1692.5" y1="1107.5" x2="1742.5" y2="1107.5" stroke="#636466" stroke-width="1.7"/>
<text x="1703.9" y="1140.9" font-size="28" text-anchor="middle" textLength="22.5" lengthAdjust="spacingAndGlyphs" fill="#636466">**</text>
<text x="1733.4" y="1140.9" font-size="28" text-anchor="middle" textLength="22.5" lengthAdjust="spacingAndGlyphs" fill="#636466">**</text>
<line x1="1692.5" y1="1139.8" x2="1713.4" y2="1139.8" stroke="#636466" stroke-width="1.7"/>
<line x1="1721.5" y1="1139.8" x2="1742.5" y2="1139.8" stroke="#636466" stroke-width="1.7"/>
</g>
<g id="p_i">
<text x="1821.5" y="707.0" font-size="30" font-weight="bold" textLength="9.5" lengthAdjust="spacingAndGlyphs" fill="#231f20" stroke="#231f20" stroke-width="0.9">i</text>
<rect x="1936.9" y="700.9" width="67.5" height="68.1" fill="#6e2166"/>
<line x1="1927.4" y1="734.8" x2="1936.9" y2="734.8" stroke="#231f20" stroke-width="1.3"/>
<text x="1918.0" y="742.9" font-size="25" text-anchor="end" font-style="italic" fill="#231f20">TRA2A</text>
<text x="1970.4" y="742.2" font-size="24.6" text-anchor="middle" fill="#ffffff">0.97</text>
<rect x="1936.9" y="768.6" width="67.5" height="68.1" fill="#712468"/>
<line x1="1936.9" y1="768.6" x2="2004.4" y2="768.6" stroke="#ffffff" stroke-width="0.5" stroke-opacity="0.25"/>
<line x1="1927.4" y1="802.5" x2="1936.9" y2="802.5" stroke="#231f20" stroke-width="1.3"/>
<text x="1918.0" y="810.6" font-size="25" text-anchor="end" font-style="italic" fill="#231f20">TRA2B</text>
<text x="1970.4" y="809.9" font-size="24.6" text-anchor="middle" fill="#ffffff">0.95</text>
<rect x="1936.9" y="836.4" width="67.5" height="68.1" fill="#712468"/>
<line x1="1936.9" y1="836.4" x2="2004.4" y2="836.4" stroke="#ffffff" stroke-width="0.5" stroke-opacity="0.25"/>
<line x1="1927.4" y1="870.2" x2="1936.9" y2="870.2" stroke="#231f20" stroke-width="1.3"/>
<text x="1918.0" y="878.3" font-size="25" text-anchor="end" font-style="italic" fill="#231f20">SRSF9</text>
<text x="1970.4" y="877.6" font-size="24.6" text-anchor="middle" fill="#ffffff">0.95</text>
<rect x="1936.9" y="904.1" width="67.5" height="68.1" fill="#722569"/>
<line x1="1936.9" y1="904.1" x2="2004.4" y2="904.1" stroke="#ffffff" stroke-width="0.5" stroke-opacity="0.25"/>
<line x1="1927.4" y1="938.0" x2="1936.9" y2="938.0" stroke="#231f20" stroke-width="1.3"/>
<text x="1918.0" y="946.1" font-size="25" text-anchor="end" font-style="italic" fill="#231f20">SRSF11</text>
<text x="1970.4" y="945.4" font-size="24.6" text-anchor="middle" fill="#ffffff">0.94</text>
<rect x="1936.9" y="971.8" width="67.5" height="68.1" fill="#8a357f"/>
<line x1="1936.9" y1="971.8" x2="2004.4" y2="971.8" stroke="#ffffff" stroke-width="0.5" stroke-opacity="0.25"/>
<line x1="1927.4" y1="1005.7" x2="1936.9" y2="1005.7" stroke="#231f20" stroke-width="1.3"/>
<text x="1918.0" y="1013.8" font-size="25" text-anchor="end" font-style="italic" fill="#231f20">SRSF2</text>
<text x="1970.4" y="1013.1" font-size="24.6" text-anchor="middle" fill="#ffffff">0.83</text>
<rect x="1936.9" y="1039.5" width="67.5" height="68.1" fill="#965894"/>
<line x1="1936.9" y1="1039.5" x2="2004.4" y2="1039.5" stroke="#ffffff" stroke-width="0.5" stroke-opacity="0.25"/>
<line x1="1927.4" y1="1073.4" x2="1936.9" y2="1073.4" stroke="#231f20" stroke-width="1.3"/>
<text x="1918.0" y="1081.5" font-size="25" text-anchor="end" font-style="italic" fill="#231f20">CNOT4</text>
<text x="1970.4" y="1080.8" font-size="24.6" text-anchor="middle" fill="#ffffff">0.71</text>
<rect x="1936.9" y="1107.3" width="67.5" height="68.1" fill="#9277a8"/>
<line x1="1936.9" y1="1107.3" x2="2004.4" y2="1107.3" stroke="#ffffff" stroke-width="0.5" stroke-opacity="0.25"/>
<line x1="1927.4" y1="1141.1" x2="1936.9" y2="1141.1" stroke="#231f20" stroke-width="1.3"/>
<text x="1918.0" y="1149.2" font-size="25" text-anchor="end" font-style="italic" fill="#231f20">SRSF10</text>
<text x="1970.4" y="1148.5" font-size="24.6" text-anchor="middle" fill="#ffffff">0.56</text>
<rect x="1936.9" y="700.9" width="67.5" height="474.1" fill="none" stroke="#231f20" stroke-width="1.1"/>
<line x1="1970.4" y1="1175.0" x2="1970.4" y2="1182.0" stroke="#231f20" stroke-width="1.3"/>
<text x="1970.2" y="1216.0" font-size="25" text-anchor="middle" textLength="122.0" lengthAdjust="spacingAndGlyphs" fill="#231f20">Correlation</text>
<text x="1970.2" y="1244.2" font-size="25" text-anchor="middle" textLength="180.0" lengthAdjust="spacingAndGlyphs" fill="#231f20">GA multivalency</text>
<text x="1970.2" y="1271.8" font-size="25" text-anchor="middle" textLength="218.5" lengthAdjust="spacingAndGlyphs" fill="#231f20">vs binding potential</text>
<defs><linearGradient id="cb" x1="0" y1="0" x2="0" y2="1"><stop offset="0" stop-color="#6e2166"/><stop offset="0.2" stop-color="#854388"/><stop offset="0.4" stop-color="#8f72aa"/><stop offset="0.6" stop-color="#b0a2cb"/><stop offset="0.8" stop-color="#d8d2e6"/><stop offset="1" stop-color="#fdfcfe"/></linearGradient></defs>
<rect x="2026.3" y="764.2" width="34.2" height="338.5" fill="url(#cb)" stroke="#231f20" stroke-width="1.2"/>
<line x1="2060.5" y1="764.2" x2="2068.5" y2="764.2" stroke="#231f20" stroke-width="1.3"/>
<text x="2080.5" y="772.2" font-size="24.6" fill="#231f20">1.0</text>
<line x1="2060.5" y1="831.9" x2="2068.5" y2="831.9" stroke="#231f20" stroke-width="1.3"/>
<text x="2080.5" y="839.9" font-size="24.6" fill="#231f20">0.8</text>
<line x1="2060.5" y1="899.6" x2="2068.5" y2="899.6" stroke="#231f20" stroke-width="1.3"/>
<text x="2080.5" y="907.6" font-size="24.6" fill="#231f20">0.6</text>
<line x1="2060.5" y1="967.3" x2="2068.5" y2="967.3" stroke="#231f20" stroke-width="1.3"/>
<text x="2080.5" y="975.3" font-size="24.6" fill="#231f20">0.4</text>
<line x1="2060.5" y1="1035.0" x2="2068.5" y2="1035.0" stroke="#231f20" stroke-width="1.3"/>
<text x="2080.5" y="1043.0" font-size="24.6" fill="#231f20">0.2</text>
<line x1="2060.5" y1="1102.7" x2="2068.5" y2="1102.7" stroke="#231f20" stroke-width="1.3"/>
<text x="2080.5" y="1110.7" font-size="24.6" fill="#231f20">0</text>
<text transform="translate(2152,934) rotate(-90)" font-size="25" text-anchor="middle" fill="#231f20" textLength="131" lengthAdjust="spacingAndGlyphs">Pearson’s <tspan font-style="italic">R</tspan></text>
</g>
</svg>
</body></html>
